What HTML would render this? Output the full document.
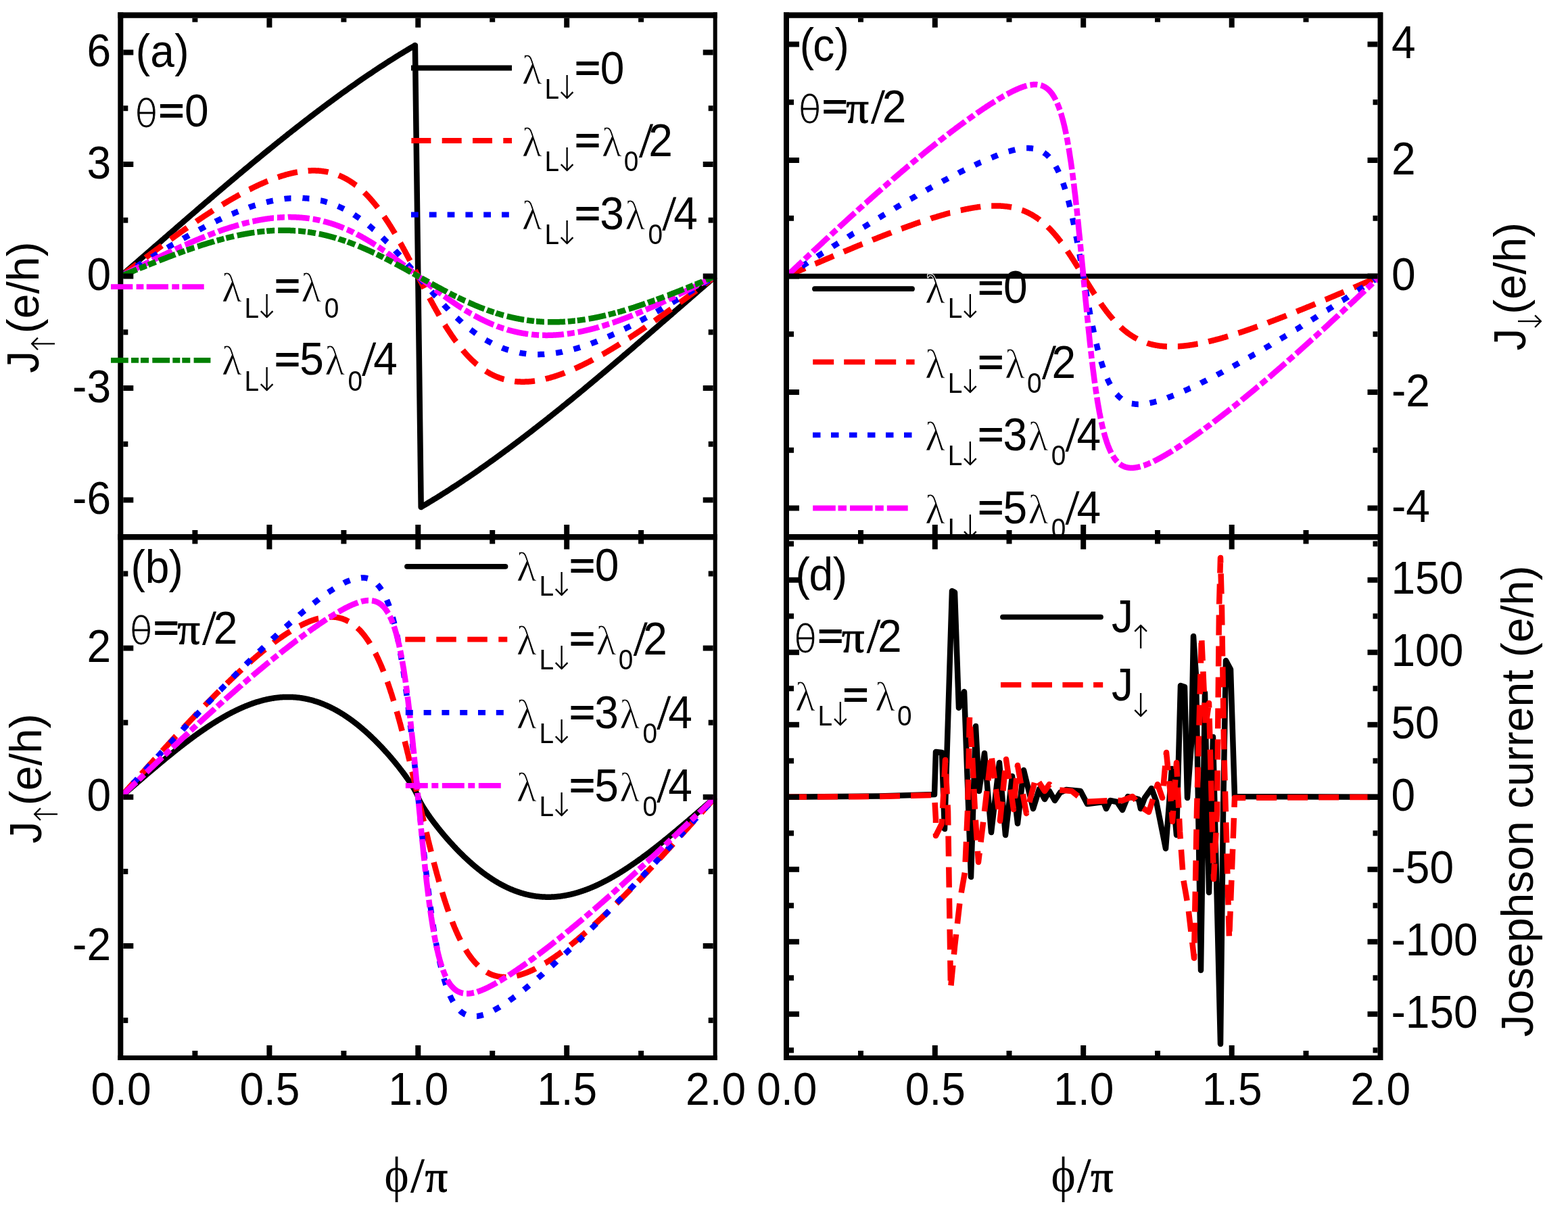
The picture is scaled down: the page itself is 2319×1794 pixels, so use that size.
<!DOCTYPE html><html><head><meta charset="utf-8"><title>Josephson current</title><style>html,body{margin:0;padding:0;background:#fff}svg{display:block}</style></head><body>
<svg width="2319" height="1794" viewBox="0 0 2319 1794">
<rect width="2319" height="1794" fill="#fff"/>
<path d="M178.5 408.5L180.7 406.6L182.9 404.7L185.1 402.8L187.3 400.9L189.4 399L191.6 397.1L193.8 395.2L196 393.3L198.2 391.4L200.4 389.5L202.6 387.6L204.8 385.7L206.9 383.8L209.1 381.9L211.3 380L213.5 378.1L215.7 376.2L217.9 374.3L220.1 372.4L222.3 370.5L224.4 368.6L226.6 366.7L228.8 364.8L231 362.9L233.2 361L235.4 359.1L237.6 357.2L239.8 355.3L242 353.4L244.1 351.5L246.3 349.6L248.5 347.7L250.7 345.8L252.9 343.9L255.1 342L257.3 340.1L259.5 338.2L261.6 336.3L263.8 334.4L266 332.5L268.2 330.6L270.4 328.7L272.6 326.8L274.8 324.9L277 323L279.1 321.1L281.3 319.3L283.5 317.4L285.7 315.5L287.9 313.6L290.1 311.7L292.3 309.8L294.5 307.9L296.6 306.1L298.8 304.2L301 302.3L303.2 300.4L305.4 298.5L307.6 296.7L309.8 294.8L312 292.9L314.2 291.1L316.3 289.2L318.5 287.3L320.7 285.5L322.9 283.6L325.1 281.7L327.3 279.9L329.5 278L331.7 276.2L333.8 274.3L336 272.5L338.2 270.6L340.4 268.8L342.6 266.9L344.8 265.1L347 263.2L349.2 261.4L351.3 259.6L353.5 257.7L355.7 255.9L357.9 254.1L360.1 252.2L362.3 250.4L364.5 248.6L366.7 246.8L368.9 245L371 243.1L373.2 241.3L375.4 239.5L377.6 237.7L379.8 235.9L382 234.1L384.2 232.3L386.4 230.5L388.5 228.7L390.7 226.9L392.9 225.1L395.1 223.4L397.3 221.6L399.5 219.8L401.7 218L403.9 216.3L406 214.5L408.2 212.7L410.4 211L412.6 209.2L414.8 207.5L417 205.7L419.2 204L421.4 202.2L423.6 200.5L425.7 198.7L427.9 197L430.1 195.3L432.3 193.5L434.5 191.8L436.7 190.1L438.9 188.4L441.1 186.7L443.2 185L445.4 183.3L447.6 181.6L449.8 179.9L452 178.2L454.2 176.5L456.4 174.8L458.6 173.1L460.7 171.5L462.9 169.8L465.1 168.1L467.3 166.5L469.5 164.8L471.7 163.2L473.9 161.5L476.1 159.9L478.2 158.2L480.4 156.6L482.6 155L484.8 153.3L487 151.7L489.2 150.1L491.4 148.5L493.6 146.9L495.8 145.3L497.9 143.7L500.1 142.1L502.3 140.5L504.5 138.9L506.7 137.3L508.9 135.8L511.1 134.2L513.3 132.6L515.4 131.1L517.6 129.5L519.8 128L522 126.4L524.2 124.9L526.4 123.4L528.6 121.8L530.8 120.3L532.9 118.8L535.1 117.3L537.3 115.8L539.5 114.3L541.7 112.8L543.9 111.3L546.1 109.8L548.3 108.4L550.5 106.9L552.6 105.4L554.8 104L557 102.5L559.2 101.1L561.4 99.6L563.6 98.2L565.8 96.8L568 95.4L570.1 94L572.3 92.5L574.5 91.1L576.7 89.7L578.9 88.4L581.1 87L583.3 85.6L585.5 84.2L587.6 82.9L589.8 81.5L592 80.1L594.2 78.8L596.4 77.5L598.6 76.1L600.8 74.8L603 73.5L605.2 72.2L607.3 70.9L609.5 69.6L611.7 68.3L613.9 67L622.7 750L624.9 748.7L627.1 747.4L629.3 746.1L631.4 744.8L633.6 743.5L635.8 742.2L638 740.9L640.2 739.5L642.4 738.2L644.6 736.9L646.8 735.5L649 734.1L651.1 732.8L653.3 731.4L655.5 730L657.7 728.6L659.9 727.3L662.1 725.9L664.3 724.5L666.5 723L668.6 721.6L670.8 720.2L673 718.8L675.2 717.4L677.4 715.9L679.6 714.5L681.8 713L684 711.6L686.1 710.1L688.3 708.6L690.5 707.2L692.7 705.7L694.9 704.2L697.1 702.7L699.3 701.2L701.5 699.7L703.7 698.2L705.8 696.7L708 695.2L710.2 693.6L712.4 692.1L714.6 690.6L716.8 689L719 687.5L721.2 685.9L723.3 684.4L725.5 682.8L727.7 681.2L729.9 679.7L732.1 678.1L734.3 676.5L736.5 674.9L738.7 673.3L740.8 671.7L743 670.1L745.2 668.5L747.4 666.9L749.6 665.3L751.8 663.7L754 662L756.2 660.4L758.4 658.8L760.5 657.1L762.7 655.5L764.9 653.8L767.1 652.2L769.3 650.5L771.5 648.9L773.7 647.2L775.9 645.5L778 643.9L780.2 642.2L782.4 640.5L784.6 638.8L786.8 637.1L789 635.4L791.2 633.7L793.4 632L795.5 630.3L797.7 628.6L799.9 626.9L802.1 625.2L804.3 623.5L806.5 621.7L808.7 620L810.9 618.3L813 616.5L815.2 614.8L817.4 613L819.6 611.3L821.8 609.5L824 607.8L826.2 606L828.4 604.3L830.6 602.5L832.7 600.7L834.9 599L837.1 597.2L839.3 595.4L841.5 593.6L843.7 591.9L845.9 590.1L848.1 588.3L850.2 586.5L852.4 584.7L854.6 582.9L856.8 581.1L859 579.3L861.2 577.5L863.4 575.7L865.6 573.9L867.7 572L869.9 570.2L872.1 568.4L874.3 566.6L876.5 564.8L878.7 562.9L880.9 561.1L883.1 559.3L885.3 557.4L887.4 555.6L889.6 553.8L891.8 551.9L894 550.1L896.2 548.2L898.4 546.4L900.6 544.5L902.8 542.7L904.9 540.8L907.1 539L909.3 537.1L911.5 535.3L913.7 533.4L915.9 531.5L918.1 529.7L920.3 527.8L922.4 525.9L924.6 524.1L926.8 522.2L929 520.3L931.2 518.5L933.4 516.6L935.6 514.7L937.8 512.8L940 510.9L942.1 509.1L944.3 507.2L946.5 505.3L948.7 503.4L950.9 501.5L953.1 499.6L955.3 497.7L957.5 495.9L959.6 494L961.8 492.1L964 490.2L966.2 488.3L968.4 486.4L970.6 484.5L972.8 482.6L975 480.7L977.1 478.8L979.3 476.9L981.5 475L983.7 473.1L985.9 471.2L988.1 469.3L990.3 467.4L992.5 465.5L994.6 463.6L996.8 461.7L999 459.8L1001.2 457.9L1003.4 456L1005.6 454.1L1007.8 452.2L1010 450.3L1012.2 448.4L1014.3 446.5L1016.5 444.6L1018.7 442.7L1020.9 440.8L1023.1 438.9L1025.3 437L1027.5 435.1L1029.7 433.2L1031.8 431.3L1034 429.4L1036.2 427.5L1038.4 425.6L1040.6 423.7L1042.8 421.8L1045 419.9L1047.2 418L1049.3 416.1L1051.5 414.2L1053.7 412.3L1055.9 410.4L1058.1 408.5" fill="none" stroke="#000000" stroke-width="8.5" stroke-linejoin="round"/>
<path d="M178.5 408.5L179.2 408L180 407.4L180.7 406.9L181.4 406.3L182.2 405.8L182.9 405.2L183.6 404.7L184.4 404.1L185.1 403.6L185.8 403L186.6 402.5L187.3 401.9L188 401.4L188.8 400.8L189.5 400.3L190.2 399.7L191 399.2L191.7 398.6L192.4 398.1L193.2 397.5L193.9 397L194.6 396.4L195.4 395.9L196.1 395.3L196.8 394.8L197.6 394.3L198.3 393.7L199 393.2L199.8 392.6L200.5 392.1L201.2 391.5L202 391L202.7 390.4L203.4 389.9L204.2 389.3L204.9 388.8L205.6 388.2L206.4 387.7L207.1 387.2L207.8 386.6L208.6 386.1L209.3 385.5L210 385L210.8 384.4L211.5 383.9L212.2 383.3L213 382.8L213.7 382.3L214.4 381.7L215.2 381.2L215.9 380.6L216.6 380.1L217.4 379.5L218.1 379L218.8 378.5L219.6 377.9L220.3 377.4L221 376.8L221.8 376.3L222.5 375.7L223.3 375.2L224 374.7L224.7 374.1L225.5 373.6L226.2 373L226.9 372.5L227.7 372L228.4 371.4L229.1 370.9L229.9 370.4L230.6 369.8L231.3 369.3L232.1 368.7L232.8 368.2L233.5 367.7L234.3 367.1L235 366.6L235.7 366.1L236.5 365.5L237.2 365L237.9 364.5L238.7 363.9L239.4 363.4L240.1 362.9L240.9 362.3L241.6 361.8L242.3 361.3L243.1 360.7L243.8 360.2L244.5 359.7L245.3 359.1L246 358.6L246.7 358.1L247.5 357.5L248.2 357L248.9 356.5L249.7 356L250.4 355.4L251.1 354.9L251.9 354.4L252.6 353.9L253.3 353.3L254.1 352.8L254.8 352.3L255.5 351.8L256.3 351.2L257 350.7L257.7 350.2L258.5 349.7L259.2 349.1L259.9 348.6L260.7 348.1L261.4 347.6L262.1 347.1L262.9 346.5L263.6 346L264.3 345.5L265.1 345L265.8 344.5L266.5 343.9L267.3 343.4L268 342.9L268.7 342.4L269.5 341.9L270.2 341.4L270.9 340.9L271.7 340.3L272.4 339.8L273.1 339.3L273.9 338.8L274.6 338.3L275.3 337.8L276.1 337.3L276.8 336.8L277.5 336.3L278.3 335.8L279 335.3L279.7 334.8L280.5 334.2L281.2 333.7L281.9 333.2L282.7 332.7L283.4 332.2L284.1 331.7L284.9 331.2L285.6 330.7L286.3 330.2L287.1 329.7L287.8 329.2L288.5 328.7L289.3 328.2L290 327.7L290.7 327.2L291.5 326.8L292.2 326.3L292.9 325.8L293.7 325.3L294.4 324.8L295.1 324.3L295.9 323.8L296.6 323.3L297.3 322.8L298.1 322.3L298.8 321.9L299.5 321.4L300.3 320.9L301 320.4L301.7 319.9L302.5 319.4L303.2 318.9L303.9 318.5L304.7 318L305.4 317.5L306.1 317L306.9 316.6L307.6 316.1L308.3 315.6L309.1 315.1L309.8 314.7L310.6 314.2L311.3 313.7L312 313.2L312.8 312.8L313.5 312.3L314.2 311.8L315 311.4L315.7 310.9L316.4 310.4L317.2 310L317.9 309.5L318.6 309L319.4 308.6L320.1 308.1L320.8 307.7L321.6 307.2L322.3 306.7L323 306.3L323.8 305.8L324.5 305.4L325.2 304.9L326 304.5L326.7 304L327.4 303.6L328.2 303.1L328.9 302.7L329.6 302.2L330.4 301.8L331.1 301.3L331.8 300.9L332.6 300.5L333.3 300L334 299.6L334.8 299.1L335.5 298.7L336.2 298.3L337 297.8L337.7 297.4L338.4 297L339.2 296.5L339.9 296.1L340.6 295.7L341.4 295.3L342.1 294.8L342.8 294.4L343.6 294L344.3 293.6L345 293.1L345.8 292.7L346.5 292.3L347.2 291.9L348 291.5L348.7 291.1L349.4 290.6L350.2 290.2L350.9 289.8L351.6 289.4L352.4 289L353.1 288.6L353.8 288.2L354.6 287.8L355.3 287.4L356 287L356.8 286.6L357.5 286.2L358.2 285.8L359 285.4L359.7 285L360.4 284.6L361.2 284.2L361.9 283.8L362.6 283.5L363.4 283.1L364.1 282.7L364.8 282.3L365.6 281.9L366.3 281.6L367 281.2L367.8 280.8L368.5 280.4L369.2 280.1L370 279.7L370.7 279.3L371.4 279L372.2 278.6L372.9 278.2L373.6 277.9L374.4 277.5L375.1 277.1L375.8 276.8L376.6 276.4L377.3 276.1L378 275.7L378.8 275.4L379.5 275L380.2 274.7L381 274.4L381.7 274L382.4 273.7L383.2 273.3L383.9 273L384.6 272.7L385.4 272.3L386.1 272L386.8 271.7L387.6 271.4L388.3 271L389 270.7L389.8 270.4L390.5 270.1L391.2 269.8L392 269.4L392.7 269.1L393.4 268.8L394.2 268.5L394.9 268.2L395.6 267.9L396.4 267.6L397.1 267.3L397.8 267L398.6 266.7L399.3 266.4L400.1 266.1L400.8 265.9L401.5 265.6L402.3 265.3L403 265L403.7 264.7L404.5 264.5L405.2 264.2L405.9 263.9L406.7 263.6L407.4 263.4L408.1 263.1L408.9 262.9L409.6 262.6L410.3 262.3L411.1 262.1L411.8 261.8L412.5 261.6L413.3 261.4L414 261.1L414.7 260.9L415.5 260.6L416.2 260.4L416.9 260.2L417.7 259.9L418.4 259.7L419.1 259.5L419.9 259.3L420.6 259.1L421.3 258.9L422.1 258.6L422.8 258.4L423.5 258.2L424.3 258L425 257.8L425.7 257.6L426.5 257.4L427.2 257.2L427.9 257.1L428.7 256.9L429.4 256.7L430.1 256.5L430.9 256.3L431.6 256.2L432.3 256L433.1 255.8L433.8 255.7L434.5 255.5L435.3 255.4L436 255.2L436.7 255.1L437.5 254.9L438.2 254.8L438.9 254.7L439.7 254.5L440.4 254.4L441.1 254.3L441.9 254.1L442.6 254L443.3 253.9L444.1 253.8L444.8 253.7L445.5 253.6L446.3 253.5L447 253.4L447.7 253.3L448.5 253.2L449.2 253.1L449.9 253L450.7 253L451.4 252.9L452.1 252.8L452.9 252.8L453.6 252.7L454.3 252.6L455.1 252.6L455.8 252.5L456.5 252.5L457.3 252.5L458 252.4L458.7 252.4L459.5 252.4L460.2 252.4L460.9 252.3L461.7 252.3L462.4 252.3L463.1 252.3L463.9 252.3L464.6 252.3L465.3 252.3L466.1 252.3L466.8 252.4L467.5 252.4L468.3 252.4L469 252.5L469.7 252.5L470.5 252.5L471.2 252.6L471.9 252.6L472.7 252.7L473.4 252.8L474.1 252.8L474.9 252.9L475.6 253L476.3 253.1L477.1 253.2L477.8 253.3L478.5 253.4L479.3 253.5L480 253.6L480.7 253.7L481.5 253.8L482.2 254L482.9 254.1L483.7 254.2L484.4 254.4L485.1 254.5L485.9 254.7L486.6 254.9L487.4 255L488.1 255.2L488.8 255.4L489.6 255.6L490.3 255.8L491 256L491.8 256.2L492.5 256.4L493.2 256.6L494 256.9L494.7 257.1L495.4 257.3L496.2 257.6L496.9 257.8L497.6 258.1L498.4 258.4L499.1 258.6L499.8 258.9L500.6 259.2L501.3 259.5L502 259.8L502.8 260.1L503.5 260.4L504.2 260.7L505 261.1L505.7 261.4L506.4 261.7L507.2 262.1L507.9 262.4L508.6 262.8L509.4 263.2L510.1 263.6L510.8 263.9L511.6 264.3L512.3 264.7L513 265.1L513.8 265.6L514.5 266L515.2 266.4L516 266.9L516.7 267.3L517.4 267.8L518.2 268.2L518.9 268.7L519.6 269.2L520.4 269.7L521.1 270.2L521.8 270.7L522.6 271.2L523.3 271.7L524 272.2L524.8 272.8L525.5 273.3L526.2 273.9L527 274.4L527.7 275L528.4 275.6L529.2 276.2L529.9 276.8L530.6 277.4L531.4 278L532.1 278.6L532.8 279.2L533.6 279.9L534.3 280.5L535 281.2L535.8 281.9L536.5 282.5L537.2 283.2L538 283.9L538.7 284.6L539.4 285.3L540.2 286L540.9 286.8L541.6 287.5L542.4 288.3L543.1 289L543.8 289.8L544.6 290.5L545.3 291.3L546 292.1L546.8 292.9L547.5 293.7L548.2 294.6L549 295.4L549.7 296.2L550.4 297.1L551.2 297.9L551.9 298.8L552.6 299.7L553.4 300.5L554.1 301.4L554.8 302.3L555.6 303.3L556.3 304.2L557 305.1L557.8 306L558.5 307L559.2 307.9L560 308.9L560.7 309.9L561.4 310.9L562.2 311.9L562.9 312.9L563.6 313.9L564.4 314.9L565.1 315.9L565.8 317L566.6 318L567.3 319.1L568 320.1L568.8 321.2L569.5 322.3L570.2 323.4L571 324.5L571.7 325.6L572.4 326.7L573.2 327.8L573.9 328.9L574.7 330.1L575.4 331.2L576.1 332.4L576.9 333.5L577.6 334.7L578.3 335.9L579.1 337.1L579.8 338.2L580.5 339.4L581.3 340.7L582 341.9L582.7 343.1L583.5 344.3L584.2 345.6L584.9 346.8L585.7 348.1L586.4 349.3L587.1 350.6L587.9 351.8L588.6 353.1L589.3 354.4L590.1 355.7L590.8 357L591.5 358.3L592.3 359.6L593 360.9L593.7 362.2L594.5 363.5L595.2 364.9L595.9 366.2L596.7 367.5L597.4 368.9L598.1 370.2L598.9 371.6L599.6 372.9L600.3 374.3L601.1 375.7L601.8 377L602.5 378.4L603.3 379.8L604 381.2L604.7 382.5L605.5 383.9L606.2 385.3L606.9 386.7L607.7 388.1L608.4 389.5L609.1 390.9L609.9 392.3L610.6 393.7L611.3 395.1L612.1 396.5L612.8 397.9L613.5 399.3L614.3 400.7L615 402.1L615.7 403.6L616.5 405L617.2 406.4L617.9 407.8L618.7 409.2L619.4 410.6L620.1 412L620.9 413.4L621.6 414.9L622.3 416.3L623.1 417.7L623.8 419.1L624.5 420.5L625.3 421.9L626 423.3L626.7 424.7L627.5 426.1L628.2 427.5L628.9 428.9L629.7 430.3L630.4 431.7L631.1 433.1L631.9 434.5L632.6 435.8L633.3 437.2L634.1 438.6L634.8 440L635.5 441.3L636.3 442.7L637 444.1L637.7 445.4L638.5 446.8L639.2 448.1L639.9 449.5L640.7 450.8L641.4 452.1L642.1 453.5L642.9 454.8L643.6 456.1L644.3 457.4L645.1 458.7L645.8 460L646.5 461.3L647.3 462.6L648 463.9L648.7 465.2L649.5 466.4L650.2 467.7L650.9 468.9L651.7 470.2L652.4 471.4L653.1 472.7L653.9 473.9L654.6 475.1L655.3 476.3L656.1 477.6L656.8 478.8L657.5 479.9L658.3 481.1L659 482.3L659.7 483.5L660.5 484.6L661.2 485.8L661.9 486.9L662.7 488.1L663.4 489.2L664.2 490.3L664.9 491.4L665.6 492.5L666.4 493.6L667.1 494.7L667.8 495.8L668.6 496.9L669.3 497.9L670 499L670.8 500L671.5 501.1L672.2 502.1L673 503.1L673.7 504.1L674.4 505.1L675.2 506.1L675.9 507.1L676.6 508.1L677.4 509.1L678.1 510L678.8 511L679.6 511.9L680.3 512.8L681 513.7L681.8 514.7L682.5 515.6L683.2 516.5L684 517.3L684.7 518.2L685.4 519.1L686.2 519.9L686.9 520.8L687.6 521.6L688.4 522.4L689.1 523.3L689.8 524.1L690.6 524.9L691.3 525.7L692 526.5L692.8 527.2L693.5 528L694.2 528.7L695 529.5L695.7 530.2L696.4 531L697.2 531.7L697.9 532.4L698.6 533.1L699.4 533.8L700.1 534.5L700.8 535.1L701.6 535.8L702.3 536.5L703 537.1L703.8 537.8L704.5 538.4L705.2 539L706 539.6L706.7 540.2L707.4 540.8L708.2 541.4L708.9 542L709.6 542.6L710.4 543.1L711.1 543.7L711.8 544.2L712.6 544.8L713.3 545.3L714 545.8L714.8 546.3L715.5 546.8L716.2 547.3L717 547.8L717.7 548.3L718.4 548.8L719.2 549.2L719.9 549.7L720.6 550.1L721.4 550.6L722.1 551L722.8 551.4L723.6 551.9L724.3 552.3L725 552.7L725.8 553.1L726.5 553.4L727.2 553.8L728 554.2L728.7 554.6L729.4 554.9L730.2 555.3L730.9 555.6L731.6 555.9L732.4 556.3L733.1 556.6L733.8 556.9L734.6 557.2L735.3 557.5L736 557.8L736.8 558.1L737.5 558.4L738.2 558.6L739 558.9L739.7 559.2L740.4 559.4L741.2 559.7L741.9 559.9L742.6 560.1L743.4 560.4L744.1 560.6L744.8 560.8L745.6 561L746.3 561.2L747 561.4L747.8 561.6L748.5 561.8L749.2 562L750 562.1L750.7 562.3L751.5 562.5L752.2 562.6L752.9 562.8L753.7 562.9L754.4 563L755.1 563.2L755.9 563.3L756.6 563.4L757.3 563.5L758.1 563.6L758.8 563.7L759.5 563.8L760.3 563.9L761 564L761.7 564.1L762.5 564.2L763.2 564.2L763.9 564.3L764.7 564.4L765.4 564.4L766.1 564.5L766.9 564.5L767.6 564.5L768.3 564.6L769.1 564.6L769.8 564.6L770.5 564.7L771.3 564.7L772 564.7L772.7 564.7L773.5 564.7L774.2 564.7L774.9 564.7L775.7 564.7L776.4 564.6L777.1 564.6L777.9 564.6L778.6 564.6L779.3 564.5L780.1 564.5L780.8 564.5L781.5 564.4L782.3 564.4L783 564.3L783.7 564.2L784.5 564.2L785.2 564.1L785.9 564L786.7 564L787.4 563.9L788.1 563.8L788.9 563.7L789.6 563.6L790.3 563.5L791.1 563.4L791.8 563.3L792.5 563.2L793.3 563.1L794 563L794.7 562.9L795.5 562.7L796.2 562.6L796.9 562.5L797.7 562.3L798.4 562.2L799.1 562.1L799.9 561.9L800.6 561.8L801.3 561.6L802.1 561.5L802.8 561.3L803.5 561.2L804.3 561L805 560.8L805.7 560.7L806.5 560.5L807.2 560.3L807.9 560.1L808.7 559.9L809.4 559.8L810.1 559.6L810.9 559.4L811.6 559.2L812.3 559L813.1 558.8L813.8 558.6L814.5 558.4L815.3 558.1L816 557.9L816.7 557.7L817.5 557.5L818.2 557.3L818.9 557.1L819.7 556.8L820.4 556.6L821.1 556.4L821.9 556.1L822.6 555.9L823.3 555.6L824.1 555.4L824.8 555.2L825.5 554.9L826.3 554.7L827 554.4L827.7 554.1L828.5 553.9L829.2 553.6L829.9 553.4L830.7 553.1L831.4 552.8L832.1 552.5L832.9 552.3L833.6 552L834.3 551.7L835.1 551.4L835.8 551.1L836.5 550.9L837.3 550.6L838 550.3L838.8 550L839.5 549.7L840.2 549.4L841 549.1L841.7 548.8L842.4 548.5L843.2 548.2L843.9 547.9L844.6 547.6L845.4 547.2L846.1 546.9L846.8 546.6L847.6 546.3L848.3 546L849 545.6L849.8 545.3L850.5 545L851.2 544.7L852 544.3L852.7 544L853.4 543.7L854.2 543.3L854.9 543L855.6 542.6L856.4 542.3L857.1 542L857.8 541.6L858.6 541.3L859.3 540.9L860 540.6L860.8 540.2L861.5 539.9L862.2 539.5L863 539.1L863.7 538.8L864.4 538.4L865.2 538L865.9 537.7L866.6 537.3L867.4 536.9L868.1 536.6L868.8 536.2L869.6 535.8L870.3 535.4L871 535.1L871.8 534.7L872.5 534.3L873.2 533.9L874 533.5L874.7 533.2L875.4 532.8L876.2 532.4L876.9 532L877.6 531.6L878.4 531.2L879.1 530.8L879.8 530.4L880.6 530L881.3 529.6L882 529.2L882.8 528.8L883.5 528.4L884.2 528L885 527.6L885.7 527.2L886.4 526.8L887.2 526.4L887.9 525.9L888.6 525.5L889.4 525.1L890.1 524.7L890.8 524.3L891.6 523.9L892.3 523.4L893 523L893.8 522.6L894.5 522.2L895.2 521.7L896 521.3L896.7 520.9L897.4 520.5L898.2 520L898.9 519.6L899.6 519.2L900.4 518.7L901.1 518.3L901.8 517.9L902.6 517.4L903.3 517L904 516.5L904.8 516.1L905.5 515.7L906.2 515.2L907 514.8L907.7 514.3L908.4 513.9L909.2 513.4L909.9 513L910.6 512.5L911.4 512.1L912.1 511.6L912.8 511.2L913.6 510.7L914.3 510.3L915 509.8L915.8 509.3L916.5 508.9L917.2 508.4L918 508L918.7 507.5L919.4 507L920.2 506.6L920.9 506.1L921.6 505.6L922.4 505.2L923.1 504.7L923.8 504.2L924.6 503.8L925.3 503.3L926 502.8L926.8 502.3L927.5 501.9L928.3 501.4L929 500.9L929.7 500.4L930.5 500L931.2 499.5L931.9 499L932.7 498.5L933.4 498.1L934.1 497.6L934.9 497.1L935.6 496.6L936.3 496.1L937.1 495.6L937.8 495.1L938.5 494.7L939.3 494.2L940 493.7L940.7 493.2L941.5 492.7L942.2 492.2L942.9 491.7L943.7 491.2L944.4 490.7L945.1 490.2L945.9 489.8L946.6 489.3L947.3 488.8L948.1 488.3L948.8 487.8L949.5 487.3L950.3 486.8L951 486.3L951.7 485.8L952.5 485.3L953.2 484.8L953.9 484.3L954.7 483.8L955.4 483.3L956.1 482.8L956.9 482.2L957.6 481.7L958.3 481.2L959.1 480.7L959.8 480.2L960.5 479.7L961.3 479.2L962 478.7L962.7 478.2L963.5 477.7L964.2 477.2L964.9 476.7L965.7 476.1L966.4 475.6L967.1 475.1L967.9 474.6L968.6 474.1L969.3 473.6L970.1 473.1L970.8 472.5L971.5 472L972.3 471.5L973 471L973.7 470.5L974.5 469.9L975.2 469.4L975.9 468.9L976.7 468.4L977.4 467.9L978.1 467.3L978.9 466.8L979.6 466.3L980.3 465.8L981.1 465.2L981.8 464.7L982.5 464.2L983.3 463.7L984 463.1L984.7 462.6L985.5 462.1L986.2 461.6L986.9 461L987.7 460.5L988.4 460L989.1 459.5L989.9 458.9L990.6 458.4L991.3 457.9L992.1 457.3L992.8 456.8L993.5 456.3L994.3 455.7L995 455.2L995.7 454.7L996.5 454.1L997.2 453.6L997.9 453.1L998.7 452.5L999.4 452L1000.1 451.5L1000.9 450.9L1001.6 450.4L1002.3 449.9L1003.1 449.3L1003.8 448.8L1004.5 448.3L1005.3 447.7L1006 447.2L1006.7 446.6L1007.5 446.1L1008.2 445.6L1008.9 445L1009.7 444.5L1010.4 444L1011.1 443.4L1011.9 442.9L1012.6 442.3L1013.3 441.8L1014.1 441.3L1014.8 440.7L1015.6 440.2L1016.3 439.6L1017 439.1L1017.8 438.5L1018.5 438L1019.2 437.5L1020 436.9L1020.7 436.4L1021.4 435.8L1022.2 435.3L1022.9 434.7L1023.6 434.2L1024.4 433.7L1025.1 433.1L1025.8 432.6L1026.6 432L1027.3 431.5L1028 430.9L1028.8 430.4L1029.5 429.8L1030.2 429.3L1031 428.8L1031.7 428.2L1032.4 427.7L1033.2 427.1L1033.9 426.6L1034.6 426L1035.4 425.5L1036.1 424.9L1036.8 424.4L1037.6 423.8L1038.3 423.3L1039 422.7L1039.8 422.2L1040.5 421.7L1041.2 421.1L1042 420.6L1042.7 420L1043.4 419.5L1044.2 418.9L1044.9 418.4L1045.6 417.8L1046.4 417.3L1047.1 416.7L1047.8 416.2L1048.6 415.6L1049.3 415.1L1050 414.5L1050.8 414L1051.5 413.4L1052.2 412.9L1053 412.3L1053.7 411.8L1054.4 411.2L1055.2 410.7L1055.9 410.1L1056.6 409.6L1057.4 409L1058.1 408.5" fill="none" stroke="#ff0000" stroke-width="8.5" stroke-linejoin="round" stroke-dasharray="30 16"/>
<path d="M178.5 408.5L179.2 408L180 407.6L180.7 407.1L181.4 406.7L182.2 406.2L182.9 405.8L183.6 405.3L184.4 404.9L185.1 404.4L185.8 404L186.6 403.5L187.3 403L188 402.6L188.8 402.1L189.5 401.7L190.2 401.2L191 400.8L191.7 400.3L192.4 399.9L193.2 399.4L193.9 399L194.6 398.5L195.4 398L196.1 397.6L196.8 397.1L197.6 396.7L198.3 396.2L199 395.8L199.8 395.3L200.5 394.9L201.2 394.4L202 394L202.7 393.5L203.4 393.1L204.2 392.6L204.9 392.2L205.6 391.7L206.4 391.3L207.1 390.8L207.8 390.4L208.6 389.9L209.3 389.5L210 389L210.8 388.6L211.5 388.1L212.2 387.6L213 387.2L213.7 386.8L214.4 386.3L215.2 385.9L215.9 385.4L216.6 385L217.4 384.5L218.1 384.1L218.8 383.6L219.6 383.2L220.3 382.7L221 382.3L221.8 381.8L222.5 381.4L223.3 380.9L224 380.5L224.7 380L225.5 379.6L226.2 379.2L226.9 378.7L227.7 378.3L228.4 377.8L229.1 377.4L229.9 376.9L230.6 376.5L231.3 376L232.1 375.6L232.8 375.2L233.5 374.7L234.3 374.3L235 373.8L235.7 373.4L236.5 373L237.2 372.5L237.9 372.1L238.7 371.6L239.4 371.2L240.1 370.8L240.9 370.3L241.6 369.9L242.3 369.5L243.1 369L243.8 368.6L244.5 368.2L245.3 367.7L246 367.3L246.7 366.8L247.5 366.4L248.2 366L248.9 365.6L249.7 365.1L250.4 364.7L251.1 364.3L251.9 363.8L252.6 363.4L253.3 363L254.1 362.5L254.8 362.1L255.5 361.7L256.3 361.3L257 360.8L257.7 360.4L258.5 360L259.2 359.6L259.9 359.1L260.7 358.7L261.4 358.3L262.1 357.9L262.9 357.4L263.6 357L264.3 356.6L265.1 356.2L265.8 355.8L266.5 355.3L267.3 354.9L268 354.5L268.7 354.1L269.5 353.7L270.2 353.3L270.9 352.8L271.7 352.4L272.4 352L273.1 351.6L273.9 351.2L274.6 350.8L275.3 350.4L276.1 350L276.8 349.5L277.5 349.1L278.3 348.7L279 348.3L279.7 347.9L280.5 347.5L281.2 347.1L281.9 346.7L282.7 346.3L283.4 345.9L284.1 345.5L284.9 345.1L285.6 344.7L286.3 344.3L287.1 343.9L287.8 343.5L288.5 343.1L289.3 342.7L290 342.3L290.7 341.9L291.5 341.5L292.2 341.1L292.9 340.7L293.7 340.4L294.4 340L295.1 339.6L295.9 339.2L296.6 338.8L297.3 338.4L298.1 338L298.8 337.6L299.5 337.3L300.3 336.9L301 336.5L301.7 336.1L302.5 335.7L303.2 335.4L303.9 335L304.7 334.6L305.4 334.2L306.1 333.9L306.9 333.5L307.6 333.1L308.3 332.7L309.1 332.4L309.8 332L310.6 331.6L311.3 331.3L312 330.9L312.8 330.5L313.5 330.2L314.2 329.8L315 329.4L315.7 329.1L316.4 328.7L317.2 328.4L317.9 328L318.6 327.6L319.4 327.3L320.1 326.9L320.8 326.6L321.6 326.2L322.3 325.9L323 325.5L323.8 325.2L324.5 324.8L325.2 324.5L326 324.2L326.7 323.8L327.4 323.5L328.2 323.1L328.9 322.8L329.6 322.4L330.4 322.1L331.1 321.8L331.8 321.4L332.6 321.1L333.3 320.8L334 320.4L334.8 320.1L335.5 319.8L336.2 319.5L337 319.1L337.7 318.8L338.4 318.5L339.2 318.2L339.9 317.9L340.6 317.5L341.4 317.2L342.1 316.9L342.8 316.6L343.6 316.3L344.3 316L345 315.7L345.8 315.4L346.5 315.1L347.2 314.8L348 314.4L348.7 314.1L349.4 313.8L350.2 313.6L350.9 313.3L351.6 313L352.4 312.7L353.1 312.4L353.8 312.1L354.6 311.8L355.3 311.5L356 311.2L356.8 310.9L357.5 310.7L358.2 310.4L359 310.1L359.7 309.8L360.4 309.6L361.2 309.3L361.9 309L362.6 308.7L363.4 308.5L364.1 308.2L364.8 307.9L365.6 307.7L366.3 307.4L367 307.2L367.8 306.9L368.5 306.6L369.2 306.4L370 306.1L370.7 305.9L371.4 305.6L372.2 305.4L372.9 305.2L373.6 304.9L374.4 304.7L375.1 304.4L375.8 304.2L376.6 304L377.3 303.7L378 303.5L378.8 303.3L379.5 303L380.2 302.8L381 302.6L381.7 302.4L382.4 302.2L383.2 301.9L383.9 301.7L384.6 301.5L385.4 301.3L386.1 301.1L386.8 300.9L387.6 300.7L388.3 300.5L389 300.3L389.8 300.1L390.5 299.9L391.2 299.7L392 299.5L392.7 299.3L393.4 299.2L394.2 299L394.9 298.8L395.6 298.6L396.4 298.4L397.1 298.3L397.8 298.1L398.6 297.9L399.3 297.8L400.1 297.6L400.8 297.4L401.5 297.3L402.3 297.1L403 297L403.7 296.8L404.5 296.7L405.2 296.5L405.9 296.4L406.7 296.3L407.4 296.1L408.1 296L408.9 295.8L409.6 295.7L410.3 295.6L411.1 295.5L411.8 295.3L412.5 295.2L413.3 295.1L414 295L414.7 294.9L415.5 294.8L416.2 294.7L416.9 294.6L417.7 294.5L418.4 294.4L419.1 294.3L419.9 294.2L420.6 294.1L421.3 294L422.1 293.9L422.8 293.8L423.5 293.8L424.3 293.7L425 293.6L425.7 293.5L426.5 293.5L427.2 293.4L427.9 293.4L428.7 293.3L429.4 293.3L430.1 293.2L430.9 293.2L431.6 293.1L432.3 293.1L433.1 293L433.8 293L434.5 293L435.3 292.9L436 292.9L436.7 292.9L437.5 292.9L438.2 292.9L438.9 292.8L439.7 292.8L440.4 292.8L441.1 292.8L441.9 292.8L442.6 292.8L443.3 292.8L444.1 292.9L444.8 292.9L445.5 292.9L446.3 292.9L447 292.9L447.7 293L448.5 293L449.2 293L449.9 293.1L450.7 293.1L451.4 293.2L452.1 293.2L452.9 293.3L453.6 293.3L454.3 293.4L455.1 293.5L455.8 293.5L456.5 293.6L457.3 293.7L458 293.7L458.7 293.8L459.5 293.9L460.2 294L460.9 294.1L461.7 294.2L462.4 294.3L463.1 294.4L463.9 294.5L464.6 294.6L465.3 294.7L466.1 294.9L466.8 295L467.5 295.1L468.3 295.3L469 295.4L469.7 295.5L470.5 295.7L471.2 295.8L471.9 296L472.7 296.1L473.4 296.3L474.1 296.5L474.9 296.6L475.6 296.8L476.3 297L477.1 297.2L477.8 297.4L478.5 297.5L479.3 297.7L480 297.9L480.7 298.1L481.5 298.3L482.2 298.6L482.9 298.8L483.7 299L484.4 299.2L485.1 299.4L485.9 299.7L486.6 299.9L487.4 300.2L488.1 300.4L488.8 300.6L489.6 300.9L490.3 301.2L491 301.4L491.8 301.7L492.5 302L493.2 302.2L494 302.5L494.7 302.8L495.4 303.1L496.2 303.4L496.9 303.7L497.6 304L498.4 304.3L499.1 304.6L499.8 304.9L500.6 305.2L501.3 305.6L502 305.9L502.8 306.2L503.5 306.6L504.2 306.9L505 307.2L505.7 307.6L506.4 308L507.2 308.3L507.9 308.7L508.6 309L509.4 309.4L510.1 309.8L510.8 310.2L511.6 310.6L512.3 311L513 311.4L513.8 311.8L514.5 312.2L515.2 312.6L516 313L516.7 313.4L517.4 313.8L518.2 314.3L518.9 314.7L519.6 315.1L520.4 315.6L521.1 316L521.8 316.5L522.6 316.9L523.3 317.4L524 317.9L524.8 318.3L525.5 318.8L526.2 319.3L527 319.8L527.7 320.3L528.4 320.8L529.2 321.3L529.9 321.8L530.6 322.3L531.4 322.8L532.1 323.3L532.8 323.8L533.6 324.3L534.3 324.9L535 325.4L535.8 325.9L536.5 326.5L537.2 327L538 327.6L538.7 328.1L539.4 328.7L540.2 329.3L540.9 329.8L541.6 330.4L542.4 331L543.1 331.6L543.8 332.1L544.6 332.7L545.3 333.3L546 333.9L546.8 334.5L547.5 335.1L548.2 335.7L549 336.4L549.7 337L550.4 337.6L551.2 338.2L551.9 338.9L552.6 339.5L553.4 340.1L554.1 340.8L554.8 341.4L555.6 342.1L556.3 342.7L557 343.4L557.8 344.1L558.5 344.7L559.2 345.4L560 346.1L560.7 346.8L561.4 347.4L562.2 348.1L562.9 348.8L563.6 349.5L564.4 350.2L565.1 350.9L565.8 351.6L566.6 352.3L567.3 353L568 353.7L568.8 354.5L569.5 355.2L570.2 355.9L571 356.6L571.7 357.4L572.4 358.1L573.2 358.8L573.9 359.6L574.7 360.3L575.4 361.1L576.1 361.8L576.9 362.6L577.6 363.3L578.3 364.1L579.1 364.9L579.8 365.6L580.5 366.4L581.3 367.2L582 367.9L582.7 368.7L583.5 369.5L584.2 370.3L584.9 371.1L585.7 371.8L586.4 372.6L587.1 373.4L587.9 374.2L588.6 375L589.3 375.8L590.1 376.6L590.8 377.4L591.5 378.2L592.3 379L593 379.8L593.7 380.6L594.5 381.4L595.2 382.3L595.9 383.1L596.7 383.9L597.4 384.7L598.1 385.5L598.9 386.4L599.6 387.2L600.3 388L601.1 388.8L601.8 389.7L602.5 390.5L603.3 391.3L604 392.1L604.7 393L605.5 393.8L606.2 394.6L606.9 395.5L607.7 396.3L608.4 397.2L609.1 398L609.9 398.8L610.6 399.7L611.3 400.5L612.1 401.3L612.8 402.2L613.5 403L614.3 403.9L615 404.7L615.7 405.6L616.5 406.4L617.2 407.2L617.9 408.1L618.7 408.9L619.4 409.8L620.1 410.6L620.9 411.4L621.6 412.3L622.3 413.1L623.1 414L623.8 414.8L624.5 415.7L625.3 416.5L626 417.3L626.7 418.2L627.5 419L628.2 419.8L628.9 420.7L629.7 421.5L630.4 422.4L631.1 423.2L631.9 424L632.6 424.9L633.3 425.7L634.1 426.5L634.8 427.3L635.5 428.2L636.3 429L637 429.8L637.7 430.6L638.5 431.5L639.2 432.3L639.9 433.1L640.7 433.9L641.4 434.7L642.1 435.6L642.9 436.4L643.6 437.2L644.3 438L645.1 438.8L645.8 439.6L646.5 440.4L647.3 441.2L648 442L648.7 442.8L649.5 443.6L650.2 444.4L650.9 445.2L651.7 445.9L652.4 446.7L653.1 447.5L653.9 448.3L654.6 449.1L655.3 449.8L656.1 450.6L656.8 451.4L657.5 452.1L658.3 452.9L659 453.7L659.7 454.4L660.5 455.2L661.2 455.9L661.9 456.7L662.7 457.4L663.4 458.2L664.2 458.9L664.9 459.6L665.6 460.4L666.4 461.1L667.1 461.8L667.8 462.5L668.6 463.3L669.3 464L670 464.7L670.8 465.4L671.5 466.1L672.2 466.8L673 467.5L673.7 468.2L674.4 468.9L675.2 469.6L675.9 470.2L676.6 470.9L677.4 471.6L678.1 472.3L678.8 472.9L679.6 473.6L680.3 474.3L681 474.9L681.8 475.6L682.5 476.2L683.2 476.9L684 477.5L684.7 478.1L685.4 478.8L686.2 479.4L686.9 480L687.6 480.6L688.4 481.3L689.1 481.9L689.8 482.5L690.6 483.1L691.3 483.7L692 484.3L692.8 484.9L693.5 485.4L694.2 486L695 486.6L695.7 487.2L696.4 487.7L697.2 488.3L697.9 488.9L698.6 489.4L699.4 490L700.1 490.5L700.8 491.1L701.6 491.6L702.3 492.1L703 492.7L703.8 493.2L704.5 493.7L705.2 494.2L706 494.7L706.7 495.2L707.4 495.7L708.2 496.2L708.9 496.7L709.6 497.2L710.4 497.7L711.1 498.2L711.8 498.7L712.6 499.1L713.3 499.6L714 500.1L714.8 500.5L715.5 501L716.2 501.4L717 501.9L717.7 502.3L718.4 502.7L719.2 503.2L719.9 503.6L720.6 504L721.4 504.4L722.1 504.8L722.8 505.2L723.6 505.6L724.3 506L725 506.4L725.8 506.8L726.5 507.2L727.2 507.6L728 508L728.7 508.3L729.4 508.7L730.2 509L730.9 509.4L731.6 509.8L732.4 510.1L733.1 510.4L733.8 510.8L734.6 511.1L735.3 511.4L736 511.8L736.8 512.1L737.5 512.4L738.2 512.7L739 513L739.7 513.3L740.4 513.6L741.2 513.9L741.9 514.2L742.6 514.5L743.4 514.8L744.1 515L744.8 515.3L745.6 515.6L746.3 515.8L747 516.1L747.8 516.4L748.5 516.6L749.2 516.8L750 517.1L750.7 517.3L751.5 517.6L752.2 517.8L752.9 518L753.7 518.2L754.4 518.4L755.1 518.7L755.9 518.9L756.6 519.1L757.3 519.3L758.1 519.5L758.8 519.6L759.5 519.8L760.3 520L761 520.2L761.7 520.4L762.5 520.5L763.2 520.7L763.9 520.9L764.7 521L765.4 521.2L766.1 521.3L766.9 521.5L767.6 521.6L768.3 521.7L769.1 521.9L769.8 522L770.5 522.1L771.3 522.3L772 522.4L772.7 522.5L773.5 522.6L774.2 522.7L774.9 522.8L775.7 522.9L776.4 523L777.1 523.1L777.9 523.2L778.6 523.3L779.3 523.3L780.1 523.4L780.8 523.5L781.5 523.5L782.3 523.6L783 523.7L783.7 523.7L784.5 523.8L785.2 523.8L785.9 523.9L786.7 523.9L787.4 524L788.1 524L788.9 524L789.6 524.1L790.3 524.1L791.1 524.1L791.8 524.1L792.5 524.1L793.3 524.2L794 524.2L794.7 524.2L795.5 524.2L796.2 524.2L796.9 524.2L797.7 524.2L798.4 524.1L799.1 524.1L799.9 524.1L800.6 524.1L801.3 524.1L802.1 524L802.8 524L803.5 524L804.3 523.9L805 523.9L805.7 523.8L806.5 523.8L807.2 523.7L807.9 523.7L808.7 523.6L809.4 523.6L810.1 523.5L810.9 523.5L811.6 523.4L812.3 523.3L813.1 523.2L813.8 523.2L814.5 523.1L815.3 523L816 522.9L816.7 522.8L817.5 522.7L818.2 522.6L818.9 522.5L819.7 522.4L820.4 522.3L821.1 522.2L821.9 522.1L822.6 522L823.3 521.9L824.1 521.8L824.8 521.7L825.5 521.5L826.3 521.4L827 521.3L827.7 521.2L828.5 521L829.2 520.9L829.9 520.7L830.7 520.6L831.4 520.5L832.1 520.3L832.9 520.2L833.6 520L834.3 519.9L835.1 519.7L835.8 519.6L836.5 519.4L837.3 519.2L838 519.1L838.8 518.9L839.5 518.7L840.2 518.6L841 518.4L841.7 518.2L842.4 518L843.2 517.8L843.9 517.7L844.6 517.5L845.4 517.3L846.1 517.1L846.8 516.9L847.6 516.7L848.3 516.5L849 516.3L849.8 516.1L850.5 515.9L851.2 515.7L852 515.5L852.7 515.3L853.4 515.1L854.2 514.8L854.9 514.6L855.6 514.4L856.4 514.2L857.1 514L857.8 513.7L858.6 513.5L859.3 513.3L860 513L860.8 512.8L861.5 512.6L862.2 512.3L863 512.1L863.7 511.8L864.4 511.6L865.2 511.4L865.9 511.1L866.6 510.9L867.4 510.6L868.1 510.4L868.8 510.1L869.6 509.8L870.3 509.6L871 509.3L871.8 509.1L872.5 508.8L873.2 508.5L874 508.3L874.7 508L875.4 507.7L876.2 507.4L876.9 507.2L877.6 506.9L878.4 506.6L879.1 506.3L879.8 506.1L880.6 505.8L881.3 505.5L882 505.2L882.8 504.9L883.5 504.6L884.2 504.3L885 504L885.7 503.7L886.4 503.4L887.2 503.2L887.9 502.9L888.6 502.6L889.4 502.2L890.1 501.9L890.8 501.6L891.6 501.3L892.3 501L893 500.7L893.8 500.4L894.5 500.1L895.2 499.8L896 499.5L896.7 499.1L897.4 498.8L898.2 498.5L898.9 498.2L899.6 497.9L900.4 497.5L901.1 497.2L901.8 496.9L902.6 496.6L903.3 496.2L904 495.9L904.8 495.6L905.5 495.2L906.2 494.9L907 494.6L907.7 494.2L908.4 493.9L909.2 493.5L909.9 493.2L910.6 492.8L911.4 492.5L912.1 492.2L912.8 491.8L913.6 491.5L914.3 491.1L915 490.8L915.8 490.4L916.5 490.1L917.2 489.7L918 489.4L918.7 489L919.4 488.6L920.2 488.3L920.9 487.9L921.6 487.6L922.4 487.2L923.1 486.8L923.8 486.5L924.6 486.1L925.3 485.7L926 485.4L926.8 485L927.5 484.6L928.3 484.3L929 483.9L929.7 483.5L930.5 483.1L931.2 482.8L931.9 482.4L932.7 482L933.4 481.6L934.1 481.3L934.9 480.9L935.6 480.5L936.3 480.1L937.1 479.7L937.8 479.4L938.5 479L939.3 478.6L940 478.2L940.7 477.8L941.5 477.4L942.2 477L942.9 476.6L943.7 476.3L944.4 475.9L945.1 475.5L945.9 475.1L946.6 474.7L947.3 474.3L948.1 473.9L948.8 473.5L949.5 473.1L950.3 472.7L951 472.3L951.7 471.9L952.5 471.5L953.2 471.1L953.9 470.7L954.7 470.3L955.4 469.9L956.1 469.5L956.9 469.1L957.6 468.7L958.3 468.3L959.1 467.9L959.8 467.5L960.5 467L961.3 466.6L962 466.2L962.7 465.8L963.5 465.4L964.2 465L964.9 464.6L965.7 464.2L966.4 463.7L967.1 463.3L967.9 462.9L968.6 462.5L969.3 462.1L970.1 461.7L970.8 461.2L971.5 460.8L972.3 460.4L973 460L973.7 459.6L974.5 459.1L975.2 458.7L975.9 458.3L976.7 457.9L977.4 457.4L978.1 457L978.9 456.6L979.6 456.2L980.3 455.7L981.1 455.3L981.8 454.9L982.5 454.5L983.3 454L984 453.6L984.7 453.2L985.5 452.7L986.2 452.3L986.9 451.9L987.7 451.4L988.4 451L989.1 450.6L989.9 450.2L990.6 449.7L991.3 449.3L992.1 448.8L992.8 448.4L993.5 448L994.3 447.5L995 447.1L995.7 446.7L996.5 446.2L997.2 445.8L997.9 445.4L998.7 444.9L999.4 444.5L1000.1 444L1000.9 443.6L1001.6 443.2L1002.3 442.7L1003.1 442.3L1003.8 441.8L1004.5 441.4L1005.3 441L1006 440.5L1006.7 440.1L1007.5 439.6L1008.2 439.2L1008.9 438.7L1009.7 438.3L1010.4 437.8L1011.1 437.4L1011.9 437L1012.6 436.5L1013.3 436.1L1014.1 435.6L1014.8 435.2L1015.6 434.7L1016.3 434.3L1017 433.8L1017.8 433.4L1018.5 432.9L1019.2 432.5L1020 432L1020.7 431.6L1021.4 431.1L1022.2 430.7L1022.9 430.2L1023.6 429.8L1024.4 429.4L1025.1 428.9L1025.8 428.4L1026.6 428L1027.3 427.5L1028 427.1L1028.8 426.6L1029.5 426.2L1030.2 425.7L1031 425.3L1031.7 424.8L1032.4 424.4L1033.2 423.9L1033.9 423.5L1034.6 423L1035.4 422.6L1036.1 422.1L1036.8 421.7L1037.6 421.2L1038.3 420.8L1039 420.3L1039.8 419.9L1040.5 419.4L1041.2 419L1042 418.5L1042.7 418L1043.4 417.6L1044.2 417.1L1044.9 416.7L1045.6 416.2L1046.4 415.8L1047.1 415.3L1047.8 414.9L1048.6 414.4L1049.3 414L1050 413.5L1050.8 413L1051.5 412.6L1052.2 412.1L1053 411.7L1053.7 411.2L1054.4 410.8L1055.2 410.3L1055.9 409.9L1056.6 409.4L1057.4 409L1058.1 408.5" fill="none" stroke="#0000ff" stroke-width="8.5" stroke-linejoin="round" stroke-dasharray="10 17"/>
<path d="M178.5 408.5L179.2 408.1L180 407.8L180.7 407.4L181.4 407L182.2 406.6L182.9 406.3L183.6 405.9L184.4 405.5L185.1 405.2L185.8 404.8L186.6 404.4L187.3 404.1L188 403.7L188.8 403.3L189.5 402.9L190.2 402.6L191 402.2L191.7 401.8L192.4 401.5L193.2 401.1L193.9 400.7L194.6 400.4L195.4 400L196.1 399.6L196.8 399.2L197.6 398.9L198.3 398.5L199 398.1L199.8 397.8L200.5 397.4L201.2 397L202 396.7L202.7 396.3L203.4 395.9L204.2 395.6L204.9 395.2L205.6 394.8L206.4 394.5L207.1 394.1L207.8 393.7L208.6 393.4L209.3 393L210 392.6L210.8 392.3L211.5 391.9L212.2 391.5L213 391.2L213.7 390.8L214.4 390.4L215.2 390.1L215.9 389.7L216.6 389.3L217.4 389L218.1 388.6L218.8 388.3L219.6 387.9L220.3 387.5L221 387.2L221.8 386.8L222.5 386.4L223.3 386.1L224 385.7L224.7 385.4L225.5 385L226.2 384.6L226.9 384.3L227.7 383.9L228.4 383.6L229.1 383.2L229.9 382.8L230.6 382.5L231.3 382.1L232.1 381.8L232.8 381.4L233.5 381.1L234.3 380.7L235 380.3L235.7 380L236.5 379.6L237.2 379.3L237.9 378.9L238.7 378.6L239.4 378.2L240.1 377.9L240.9 377.5L241.6 377.2L242.3 376.8L243.1 376.5L243.8 376.1L244.5 375.8L245.3 375.4L246 375.1L246.7 374.7L247.5 374.4L248.2 374L248.9 373.7L249.7 373.3L250.4 373L251.1 372.6L251.9 372.3L252.6 371.9L253.3 371.6L254.1 371.3L254.8 370.9L255.5 370.6L256.3 370.2L257 369.9L257.7 369.5L258.5 369.2L259.2 368.9L259.9 368.5L260.7 368.2L261.4 367.8L262.1 367.5L262.9 367.2L263.6 366.8L264.3 366.5L265.1 366.2L265.8 365.8L266.5 365.5L267.3 365.2L268 364.8L268.7 364.5L269.5 364.2L270.2 363.8L270.9 363.5L271.7 363.2L272.4 362.9L273.1 362.5L273.9 362.2L274.6 361.9L275.3 361.6L276.1 361.2L276.8 360.9L277.5 360.6L278.3 360.3L279 359.9L279.7 359.6L280.5 359.3L281.2 359L281.9 358.7L282.7 358.3L283.4 358L284.1 357.7L284.9 357.4L285.6 357.1L286.3 356.8L287.1 356.5L287.8 356.1L288.5 355.8L289.3 355.5L290 355.2L290.7 354.9L291.5 354.6L292.2 354.3L292.9 354L293.7 353.7L294.4 353.4L295.1 353.1L295.9 352.8L296.6 352.5L297.3 352.2L298.1 351.9L298.8 351.6L299.5 351.3L300.3 351L301 350.7L301.7 350.4L302.5 350.1L303.2 349.8L303.9 349.5L304.7 349.2L305.4 348.9L306.1 348.6L306.9 348.4L307.6 348.1L308.3 347.8L309.1 347.5L309.8 347.2L310.6 346.9L311.3 346.7L312 346.4L312.8 346.1L313.5 345.8L314.2 345.5L315 345.3L315.7 345L316.4 344.7L317.2 344.4L317.9 344.2L318.6 343.9L319.4 343.6L320.1 343.4L320.8 343.1L321.6 342.8L322.3 342.6L323 342.3L323.8 342L324.5 341.8L325.2 341.5L326 341.3L326.7 341L327.4 340.7L328.2 340.5L328.9 340.2L329.6 340L330.4 339.7L331.1 339.5L331.8 339.2L332.6 339L333.3 338.7L334 338.5L334.8 338.3L335.5 338L336.2 337.8L337 337.5L337.7 337.3L338.4 337.1L339.2 336.8L339.9 336.6L340.6 336.4L341.4 336.1L342.1 335.9L342.8 335.7L343.6 335.4L344.3 335.2L345 335L345.8 334.8L346.5 334.6L347.2 334.3L348 334.1L348.7 333.9L349.4 333.7L350.2 333.5L350.9 333.3L351.6 333L352.4 332.8L353.1 332.6L353.8 332.4L354.6 332.2L355.3 332L356 331.8L356.8 331.6L357.5 331.4L358.2 331.2L359 331L359.7 330.8L360.4 330.6L361.2 330.4L361.9 330.3L362.6 330.1L363.4 329.9L364.1 329.7L364.8 329.5L365.6 329.3L366.3 329.2L367 329L367.8 328.8L368.5 328.6L369.2 328.5L370 328.3L370.7 328.1L371.4 328L372.2 327.8L372.9 327.6L373.6 327.5L374.4 327.3L375.1 327.1L375.8 327L376.6 326.8L377.3 326.7L378 326.5L378.8 326.4L379.5 326.2L380.2 326.1L381 326L381.7 325.8L382.4 325.7L383.2 325.5L383.9 325.4L384.6 325.3L385.4 325.1L386.1 325L386.8 324.9L387.6 324.8L388.3 324.6L389 324.5L389.8 324.4L390.5 324.3L391.2 324.2L392 324L392.7 323.9L393.4 323.8L394.2 323.7L394.9 323.6L395.6 323.5L396.4 323.4L397.1 323.3L397.8 323.2L398.6 323.1L399.3 323L400.1 322.9L400.8 322.8L401.5 322.8L402.3 322.7L403 322.6L403.7 322.5L404.5 322.4L405.2 322.4L405.9 322.3L406.7 322.2L407.4 322.1L408.1 322.1L408.9 322L409.6 321.9L410.3 321.9L411.1 321.8L411.8 321.8L412.5 321.7L413.3 321.7L414 321.6L414.7 321.6L415.5 321.5L416.2 321.5L416.9 321.4L417.7 321.4L418.4 321.4L419.1 321.3L419.9 321.3L420.6 321.3L421.3 321.3L422.1 321.2L422.8 321.2L423.5 321.2L424.3 321.2L425 321.2L425.7 321.2L426.5 321.1L427.2 321.1L427.9 321.1L428.7 321.1L429.4 321.1L430.1 321.1L430.9 321.2L431.6 321.2L432.3 321.2L433.1 321.2L433.8 321.2L434.5 321.2L435.3 321.2L436 321.3L436.7 321.3L437.5 321.3L438.2 321.4L438.9 321.4L439.7 321.4L440.4 321.5L441.1 321.5L441.9 321.6L442.6 321.6L443.3 321.7L444.1 321.7L444.8 321.8L445.5 321.8L446.3 321.9L447 321.9L447.7 322L448.5 322.1L449.2 322.2L449.9 322.2L450.7 322.3L451.4 322.4L452.1 322.5L452.9 322.6L453.6 322.6L454.3 322.7L455.1 322.8L455.8 322.9L456.5 323L457.3 323.1L458 323.2L458.7 323.3L459.5 323.5L460.2 323.6L460.9 323.7L461.7 323.8L462.4 323.9L463.1 324L463.9 324.2L464.6 324.3L465.3 324.4L466.1 324.6L466.8 324.7L467.5 324.9L468.3 325L469 325.1L469.7 325.3L470.5 325.4L471.2 325.6L471.9 325.8L472.7 325.9L473.4 326.1L474.1 326.3L474.9 326.4L475.6 326.6L476.3 326.8L477.1 327L477.8 327.1L478.5 327.3L479.3 327.5L480 327.7L480.7 327.9L481.5 328.1L482.2 328.3L482.9 328.5L483.7 328.7L484.4 328.9L485.1 329.1L485.9 329.3L486.6 329.5L487.4 329.8L488.1 330L488.8 330.2L489.6 330.4L490.3 330.7L491 330.9L491.8 331.1L492.5 331.4L493.2 331.6L494 331.9L494.7 332.1L495.4 332.4L496.2 332.6L496.9 332.9L497.6 333.2L498.4 333.4L499.1 333.7L499.8 334L500.6 334.2L501.3 334.5L502 334.8L502.8 335.1L503.5 335.3L504.2 335.6L505 335.9L505.7 336.2L506.4 336.5L507.2 336.8L507.9 337.1L508.6 337.4L509.4 337.7L510.1 338L510.8 338.3L511.6 338.7L512.3 339L513 339.3L513.8 339.6L514.5 340L515.2 340.3L516 340.6L516.7 341L517.4 341.3L518.2 341.6L518.9 342L519.6 342.3L520.4 342.7L521.1 343L521.8 343.4L522.6 343.7L523.3 344.1L524 344.5L524.8 344.8L525.5 345.2L526.2 345.6L527 345.9L527.7 346.3L528.4 346.7L529.2 347.1L529.9 347.5L530.6 347.9L531.4 348.2L532.1 348.6L532.8 349L533.6 349.4L534.3 349.8L535 350.2L535.8 350.6L536.5 351.1L537.2 351.5L538 351.9L538.7 352.3L539.4 352.7L540.2 353.1L540.9 353.6L541.6 354L542.4 354.4L543.1 354.9L543.8 355.3L544.6 355.7L545.3 356.2L546 356.6L546.8 357L547.5 357.5L548.2 357.9L549 358.4L549.7 358.8L550.4 359.3L551.2 359.8L551.9 360.2L552.6 360.7L553.4 361.1L554.1 361.6L554.8 362.1L555.6 362.6L556.3 363L557 363.5L557.8 364L558.5 364.5L559.2 364.9L560 365.4L560.7 365.9L561.4 366.4L562.2 366.9L562.9 367.4L563.6 367.9L564.4 368.4L565.1 368.9L565.8 369.4L566.6 369.9L567.3 370.4L568 370.9L568.8 371.4L569.5 371.9L570.2 372.4L571 372.9L571.7 373.4L572.4 373.9L573.2 374.5L573.9 375L574.7 375.5L575.4 376L576.1 376.5L576.9 377.1L577.6 377.6L578.3 378.1L579.1 378.7L579.8 379.2L580.5 379.7L581.3 380.3L582 380.8L582.7 381.3L583.5 381.9L584.2 382.4L584.9 383L585.7 383.5L586.4 384L587.1 384.6L587.9 385.1L588.6 385.7L589.3 386.2L590.1 386.8L590.8 387.3L591.5 387.9L592.3 388.4L593 389L593.7 389.5L594.5 390.1L595.2 390.7L595.9 391.2L596.7 391.8L597.4 392.3L598.1 392.9L598.9 393.4L599.6 394L600.3 394.6L601.1 395.1L601.8 395.7L602.5 396.3L603.3 396.8L604 397.4L604.7 398L605.5 398.5L606.2 399.1L606.9 399.7L607.7 400.2L608.4 400.8L609.1 401.4L609.9 401.9L610.6 402.5L611.3 403.1L612.1 403.6L612.8 404.2L613.5 404.8L614.3 405.4L615 405.9L615.7 406.5L616.5 407.1L617.2 407.6L617.9 408.2L618.7 408.8L619.4 409.4L620.1 409.9L620.9 410.5L621.6 411.1L622.3 411.6L623.1 412.2L623.8 412.8L624.5 413.4L625.3 413.9L626 414.5L626.7 415.1L627.5 415.6L628.2 416.2L628.9 416.8L629.7 417.3L630.4 417.9L631.1 418.5L631.9 419L632.6 419.6L633.3 420.2L634.1 420.7L634.8 421.3L635.5 421.9L636.3 422.4L637 423L637.7 423.6L638.5 424.1L639.2 424.7L639.9 425.2L640.7 425.8L641.4 426.3L642.1 426.9L642.9 427.5L643.6 428L644.3 428.6L645.1 429.1L645.8 429.7L646.5 430.2L647.3 430.8L648 431.3L648.7 431.9L649.5 432.4L650.2 433L650.9 433.5L651.7 434L652.4 434.6L653.1 435.1L653.9 435.7L654.6 436.2L655.3 436.7L656.1 437.3L656.8 437.8L657.5 438.3L658.3 438.9L659 439.4L659.7 439.9L660.5 440.5L661.2 441L661.9 441.5L662.7 442L663.4 442.5L664.2 443.1L664.9 443.6L665.6 444.1L666.4 444.6L667.1 445.1L667.8 445.6L668.6 446.1L669.3 446.6L670 447.1L670.8 447.6L671.5 448.1L672.2 448.6L673 449.1L673.7 449.6L674.4 450.1L675.2 450.6L675.9 451.1L676.6 451.6L677.4 452.1L678.1 452.5L678.8 453L679.6 453.5L680.3 454L681 454.4L681.8 454.9L682.5 455.4L683.2 455.9L684 456.3L684.7 456.8L685.4 457.2L686.2 457.7L686.9 458.2L687.6 458.6L688.4 459.1L689.1 459.5L689.8 460L690.6 460.4L691.3 460.8L692 461.3L692.8 461.7L693.5 462.1L694.2 462.6L695 463L695.7 463.4L696.4 463.9L697.2 464.3L697.9 464.7L698.6 465.1L699.4 465.5L700.1 465.9L700.8 466.4L701.6 466.8L702.3 467.2L703 467.6L703.8 468L704.5 468.4L705.2 468.8L706 469.1L706.7 469.5L707.4 469.9L708.2 470.3L708.9 470.7L709.6 471.1L710.4 471.4L711.1 471.8L711.8 472.2L712.6 472.5L713.3 472.9L714 473.3L714.8 473.6L715.5 474L716.2 474.3L717 474.7L717.7 475L718.4 475.4L719.2 475.7L719.9 476L720.6 476.4L721.4 476.7L722.1 477L722.8 477.4L723.6 477.7L724.3 478L725 478.3L725.8 478.7L726.5 479L727.2 479.3L728 479.6L728.7 479.9L729.4 480.2L730.2 480.5L730.9 480.8L731.6 481.1L732.4 481.4L733.1 481.7L733.8 481.9L734.6 482.2L735.3 482.5L736 482.8L736.8 483L737.5 483.3L738.2 483.6L739 483.8L739.7 484.1L740.4 484.4L741.2 484.6L741.9 484.9L742.6 485.1L743.4 485.4L744.1 485.6L744.8 485.9L745.6 486.1L746.3 486.3L747 486.6L747.8 486.8L748.5 487L749.2 487.2L750 487.5L750.7 487.7L751.5 487.9L752.2 488.1L752.9 488.3L753.7 488.5L754.4 488.7L755.1 488.9L755.9 489.1L756.6 489.3L757.3 489.5L758.1 489.7L758.8 489.9L759.5 490L760.3 490.2L761 490.4L761.7 490.6L762.5 490.7L763.2 490.9L763.9 491.1L764.7 491.2L765.4 491.4L766.1 491.6L766.9 491.7L767.6 491.9L768.3 492L769.1 492.1L769.8 492.3L770.5 492.4L771.3 492.6L772 492.7L772.7 492.8L773.5 493L774.2 493.1L774.9 493.2L775.7 493.3L776.4 493.4L777.1 493.5L777.9 493.7L778.6 493.8L779.3 493.9L780.1 494L780.8 494.1L781.5 494.2L782.3 494.3L783 494.4L783.7 494.4L784.5 494.5L785.2 494.6L785.9 494.7L786.7 494.8L787.4 494.8L788.1 494.9L788.9 495L789.6 495.1L790.3 495.1L791.1 495.2L791.8 495.2L792.5 495.3L793.3 495.3L794 495.4L794.7 495.4L795.5 495.5L796.2 495.5L796.9 495.6L797.7 495.6L798.4 495.6L799.1 495.7L799.9 495.7L800.6 495.7L801.3 495.8L802.1 495.8L802.8 495.8L803.5 495.8L804.3 495.8L805 495.8L805.7 495.8L806.5 495.9L807.2 495.9L807.9 495.9L808.7 495.9L809.4 495.9L810.1 495.9L810.9 495.8L811.6 495.8L812.3 495.8L813.1 495.8L813.8 495.8L814.5 495.8L815.3 495.7L816 495.7L816.7 495.7L817.5 495.7L818.2 495.6L818.9 495.6L819.7 495.6L820.4 495.5L821.1 495.5L821.9 495.4L822.6 495.4L823.3 495.3L824.1 495.3L824.8 495.2L825.5 495.2L826.3 495.1L827 495.1L827.7 495L828.5 494.9L829.2 494.9L829.9 494.8L830.7 494.7L831.4 494.6L832.1 494.6L832.9 494.5L833.6 494.4L834.3 494.3L835.1 494.2L835.8 494.2L836.5 494.1L837.3 494L838 493.9L838.8 493.8L839.5 493.7L840.2 493.6L841 493.5L841.7 493.4L842.4 493.3L843.2 493.2L843.9 493.1L844.6 493L845.4 492.8L846.1 492.7L846.8 492.6L847.6 492.5L848.3 492.4L849 492.2L849.8 492.1L850.5 492L851.2 491.9L852 491.7L852.7 491.6L853.4 491.5L854.2 491.3L854.9 491.2L855.6 491L856.4 490.9L857.1 490.8L857.8 490.6L858.6 490.5L859.3 490.3L860 490.2L860.8 490L861.5 489.9L862.2 489.7L863 489.5L863.7 489.4L864.4 489.2L865.2 489L865.9 488.9L866.6 488.7L867.4 488.5L868.1 488.4L868.8 488.2L869.6 488L870.3 487.8L871 487.7L871.8 487.5L872.5 487.3L873.2 487.1L874 486.9L874.7 486.7L875.4 486.6L876.2 486.4L876.9 486.2L877.6 486L878.4 485.8L879.1 485.6L879.8 485.4L880.6 485.2L881.3 485L882 484.8L882.8 484.6L883.5 484.4L884.2 484.2L885 484L885.7 483.7L886.4 483.5L887.2 483.3L887.9 483.1L888.6 482.9L889.4 482.7L890.1 482.4L890.8 482.2L891.6 482L892.3 481.8L893 481.6L893.8 481.3L894.5 481.1L895.2 480.9L896 480.6L896.7 480.4L897.4 480.2L898.2 479.9L898.9 479.7L899.6 479.5L900.4 479.2L901.1 479L901.8 478.7L902.6 478.5L903.3 478.3L904 478L904.8 477.8L905.5 477.5L906.2 477.3L907 477L907.7 476.8L908.4 476.5L909.2 476.3L909.9 476L910.6 475.7L911.4 475.5L912.1 475.2L912.8 475L913.6 474.7L914.3 474.4L915 474.2L915.8 473.9L916.5 473.6L917.2 473.4L918 473.1L918.7 472.8L919.4 472.6L920.2 472.3L920.9 472L921.6 471.7L922.4 471.5L923.1 471.2L923.8 470.9L924.6 470.6L925.3 470.3L926 470.1L926.8 469.8L927.5 469.5L928.3 469.2L929 468.9L929.7 468.6L930.5 468.4L931.2 468.1L931.9 467.8L932.7 467.5L933.4 467.2L934.1 466.9L934.9 466.6L935.6 466.3L936.3 466L937.1 465.7L937.8 465.4L938.5 465.1L939.3 464.8L940 464.5L940.7 464.2L941.5 463.9L942.2 463.6L942.9 463.3L943.7 463L944.4 462.7L945.1 462.4L945.9 462.1L946.6 461.8L947.3 461.5L948.1 461.2L948.8 460.9L949.5 460.5L950.3 460.2L951 459.9L951.7 459.6L952.5 459.3L953.2 459L953.9 458.7L954.7 458.3L955.4 458L956.1 457.7L956.9 457.4L957.6 457.1L958.3 456.7L959.1 456.4L959.8 456.1L960.5 455.8L961.3 455.4L962 455.1L962.7 454.8L963.5 454.5L964.2 454.1L964.9 453.8L965.7 453.5L966.4 453.2L967.1 452.8L967.9 452.5L968.6 452.2L969.3 451.8L970.1 451.5L970.8 451.2L971.5 450.8L972.3 450.5L973 450.2L973.7 449.8L974.5 449.5L975.2 449.2L975.9 448.8L976.7 448.5L977.4 448.1L978.1 447.8L978.9 447.5L979.6 447.1L980.3 446.8L981.1 446.4L981.8 446.1L982.5 445.7L983.3 445.4L984 445.1L984.7 444.7L985.5 444.4L986.2 444L986.9 443.7L987.7 443.3L988.4 443L989.1 442.6L989.9 442.3L990.6 441.9L991.3 441.6L992.1 441.2L992.8 440.9L993.5 440.5L994.3 440.2L995 439.8L995.7 439.5L996.5 439.1L997.2 438.8L997.9 438.4L998.7 438.1L999.4 437.7L1000.1 437.4L1000.9 437L1001.6 436.7L1002.3 436.3L1003.1 435.9L1003.8 435.6L1004.5 435.2L1005.3 434.9L1006 434.5L1006.7 434.2L1007.5 433.8L1008.2 433.4L1008.9 433.1L1009.7 432.7L1010.4 432.4L1011.1 432L1011.9 431.6L1012.6 431.3L1013.3 430.9L1014.1 430.6L1014.8 430.2L1015.6 429.8L1016.3 429.5L1017 429.1L1017.8 428.7L1018.5 428.4L1019.2 428L1020 427.7L1020.7 427.3L1021.4 426.9L1022.2 426.6L1022.9 426.2L1023.6 425.8L1024.4 425.5L1025.1 425.1L1025.8 424.7L1026.6 424.4L1027.3 424L1028 423.6L1028.8 423.3L1029.5 422.9L1030.2 422.5L1031 422.2L1031.7 421.8L1032.4 421.4L1033.2 421.1L1033.9 420.7L1034.6 420.3L1035.4 420L1036.1 419.6L1036.8 419.2L1037.6 418.9L1038.3 418.5L1039 418.1L1039.8 417.8L1040.5 417.4L1041.2 417L1042 416.6L1042.7 416.3L1043.4 415.9L1044.2 415.5L1044.9 415.2L1045.6 414.8L1046.4 414.4L1047.1 414.1L1047.8 413.7L1048.6 413.3L1049.3 412.9L1050 412.6L1050.8 412.2L1051.5 411.8L1052.2 411.5L1053 411.1L1053.7 410.7L1054.4 410.4L1055.2 410L1055.9 409.6L1056.6 409.2L1057.4 408.9L1058.1 408.5" fill="none" stroke="#ff00ff" stroke-width="8.5" stroke-linejoin="round" stroke-dasharray="32 5 11 5"/>
<path d="M178.5 408.5L179.2 408.2L180 407.9L180.7 407.6L181.4 407.3L182.2 407L182.9 406.7L183.6 406.4L184.4 406.1L185.1 405.8L185.8 405.5L186.6 405.2L187.3 404.9L188 404.6L188.8 404.3L189.5 404L190.2 403.7L191 403.4L191.7 403.1L192.4 402.8L193.2 402.5L193.9 402.2L194.6 401.9L195.4 401.6L196.1 401.3L196.8 401L197.6 400.6L198.3 400.3L199 400L199.8 399.7L200.5 399.4L201.2 399.1L202 398.8L202.7 398.5L203.4 398.2L204.2 397.9L204.9 397.6L205.6 397.3L206.4 397L207.1 396.7L207.8 396.4L208.6 396.2L209.3 395.9L210 395.6L210.8 395.3L211.5 395L212.2 394.7L213 394.4L213.7 394.1L214.4 393.8L215.2 393.5L215.9 393.2L216.6 392.9L217.4 392.6L218.1 392.3L218.8 392L219.6 391.7L220.3 391.4L221 391.1L221.8 390.8L222.5 390.5L223.3 390.2L224 389.9L224.7 389.6L225.5 389.3L226.2 389.1L226.9 388.8L227.7 388.5L228.4 388.2L229.1 387.9L229.9 387.6L230.6 387.3L231.3 387L232.1 386.7L232.8 386.4L233.5 386.1L234.3 385.9L235 385.6L235.7 385.3L236.5 385L237.2 384.7L237.9 384.4L238.7 384.1L239.4 383.8L240.1 383.6L240.9 383.3L241.6 383L242.3 382.7L243.1 382.4L243.8 382.1L244.5 381.8L245.3 381.6L246 381.3L246.7 381L247.5 380.7L248.2 380.4L248.9 380.1L249.7 379.9L250.4 379.6L251.1 379.3L251.9 379L252.6 378.8L253.3 378.5L254.1 378.2L254.8 377.9L255.5 377.6L256.3 377.4L257 377.1L257.7 376.8L258.5 376.5L259.2 376.3L259.9 376L260.7 375.7L261.4 375.4L262.1 375.2L262.9 374.9L263.6 374.6L264.3 374.4L265.1 374.1L265.8 373.8L266.5 373.6L267.3 373.3L268 373L268.7 372.8L269.5 372.5L270.2 372.2L270.9 372L271.7 371.7L272.4 371.4L273.1 371.2L273.9 370.9L274.6 370.6L275.3 370.4L276.1 370.1L276.8 369.9L277.5 369.6L278.3 369.4L279 369.1L279.7 368.8L280.5 368.6L281.2 368.3L281.9 368.1L282.7 367.8L283.4 367.6L284.1 367.3L284.9 367.1L285.6 366.8L286.3 366.6L287.1 366.3L287.8 366.1L288.5 365.8L289.3 365.6L290 365.3L290.7 365.1L291.5 364.8L292.2 364.6L292.9 364.4L293.7 364.1L294.4 363.9L295.1 363.6L295.9 363.4L296.6 363.2L297.3 362.9L298.1 362.7L298.8 362.4L299.5 362.2L300.3 362L301 361.7L301.7 361.5L302.5 361.3L303.2 361L303.9 360.8L304.7 360.6L305.4 360.4L306.1 360.1L306.9 359.9L307.6 359.7L308.3 359.5L309.1 359.2L309.8 359L310.6 358.8L311.3 358.6L312 358.3L312.8 358.1L313.5 357.9L314.2 357.7L315 357.5L315.7 357.3L316.4 357.1L317.2 356.8L317.9 356.6L318.6 356.4L319.4 356.2L320.1 356L320.8 355.8L321.6 355.6L322.3 355.4L323 355.2L323.8 355L324.5 354.8L325.2 354.6L326 354.4L326.7 354.2L327.4 354L328.2 353.8L328.9 353.6L329.6 353.4L330.4 353.2L331.1 353L331.8 352.8L332.6 352.6L333.3 352.5L334 352.3L334.8 352.1L335.5 351.9L336.2 351.7L337 351.5L337.7 351.4L338.4 351.2L339.2 351L339.9 350.8L340.6 350.7L341.4 350.5L342.1 350.3L342.8 350.1L343.6 350L344.3 349.8L345 349.6L345.8 349.5L346.5 349.3L347.2 349.1L348 349L348.7 348.8L349.4 348.7L350.2 348.5L350.9 348.3L351.6 348.2L352.4 348L353.1 347.9L353.8 347.7L354.6 347.6L355.3 347.4L356 347.3L356.8 347.1L357.5 347L358.2 346.8L359 346.7L359.7 346.6L360.4 346.4L361.2 346.3L361.9 346.2L362.6 346L363.4 345.9L364.1 345.8L364.8 345.6L365.6 345.5L366.3 345.4L367 345.3L367.8 345.1L368.5 345L369.2 344.9L370 344.8L370.7 344.6L371.4 344.5L372.2 344.4L372.9 344.3L373.6 344.2L374.4 344.1L375.1 344L375.8 343.9L376.6 343.8L377.3 343.7L378 343.6L378.8 343.5L379.5 343.4L380.2 343.3L381 343.2L381.7 343.1L382.4 343L383.2 342.9L383.9 342.8L384.6 342.7L385.4 342.6L386.1 342.6L386.8 342.5L387.6 342.4L388.3 342.3L389 342.2L389.8 342.2L390.5 342.1L391.2 342L392 342L392.7 341.9L393.4 341.8L394.2 341.8L394.9 341.7L395.6 341.6L396.4 341.6L397.1 341.5L397.8 341.5L398.6 341.4L399.3 341.4L400.1 341.3L400.8 341.3L401.5 341.2L402.3 341.2L403 341.1L403.7 341.1L404.5 341.1L405.2 341L405.9 341L406.7 341L407.4 340.9L408.1 340.9L408.9 340.9L409.6 340.8L410.3 340.8L411.1 340.8L411.8 340.8L412.5 340.8L413.3 340.7L414 340.7L414.7 340.7L415.5 340.7L416.2 340.7L416.9 340.7L417.7 340.7L418.4 340.7L419.1 340.7L419.9 340.7L420.6 340.7L421.3 340.7L422.1 340.7L422.8 340.7L423.5 340.7L424.3 340.7L425 340.7L425.7 340.8L426.5 340.8L427.2 340.8L427.9 340.8L428.7 340.8L429.4 340.9L430.1 340.9L430.9 340.9L431.6 341L432.3 341L433.1 341L433.8 341.1L434.5 341.1L435.3 341.2L436 341.2L436.7 341.3L437.5 341.3L438.2 341.4L438.9 341.4L439.7 341.5L440.4 341.5L441.1 341.6L441.9 341.6L442.6 341.7L443.3 341.8L444.1 341.8L444.8 341.9L445.5 342L446.3 342L447 342.1L447.7 342.2L448.5 342.3L449.2 342.4L449.9 342.4L450.7 342.5L451.4 342.6L452.1 342.7L452.9 342.8L453.6 342.9L454.3 343L455.1 343.1L455.8 343.2L456.5 343.3L457.3 343.4L458 343.5L458.7 343.6L459.5 343.7L460.2 343.8L460.9 344L461.7 344.1L462.4 344.2L463.1 344.3L463.9 344.4L464.6 344.6L465.3 344.7L466.1 344.8L466.8 345L467.5 345.1L468.3 345.2L469 345.4L469.7 345.5L470.5 345.6L471.2 345.8L471.9 345.9L472.7 346.1L473.4 346.2L474.1 346.4L474.9 346.5L475.6 346.7L476.3 346.9L477.1 347L477.8 347.2L478.5 347.3L479.3 347.5L480 347.7L480.7 347.9L481.5 348L482.2 348.2L482.9 348.4L483.7 348.6L484.4 348.7L485.1 348.9L485.9 349.1L486.6 349.3L487.4 349.5L488.1 349.7L488.8 349.9L489.6 350.1L490.3 350.3L491 350.5L491.8 350.7L492.5 350.9L493.2 351.1L494 351.3L494.7 351.5L495.4 351.7L496.2 351.9L496.9 352.1L497.6 352.4L498.4 352.6L499.1 352.8L499.8 353L500.6 353.2L501.3 353.5L502 353.7L502.8 353.9L503.5 354.2L504.2 354.4L505 354.6L505.7 354.9L506.4 355.1L507.2 355.4L507.9 355.6L508.6 355.9L509.4 356.1L510.1 356.4L510.8 356.6L511.6 356.9L512.3 357.1L513 357.4L513.8 357.6L514.5 357.9L515.2 358.2L516 358.4L516.7 358.7L517.4 359L518.2 359.2L518.9 359.5L519.6 359.8L520.4 360.1L521.1 360.3L521.8 360.6L522.6 360.9L523.3 361.2L524 361.5L524.8 361.7L525.5 362L526.2 362.3L527 362.6L527.7 362.9L528.4 363.2L529.2 363.5L529.9 363.8L530.6 364.1L531.4 364.4L532.1 364.7L532.8 365L533.6 365.3L534.3 365.6L535 365.9L535.8 366.3L536.5 366.6L537.2 366.9L538 367.2L538.7 367.5L539.4 367.8L540.2 368.2L540.9 368.5L541.6 368.8L542.4 369.1L543.1 369.5L543.8 369.8L544.6 370.1L545.3 370.4L546 370.8L546.8 371.1L547.5 371.4L548.2 371.8L549 372.1L549.7 372.5L550.4 372.8L551.2 373.1L551.9 373.5L552.6 373.8L553.4 374.2L554.1 374.5L554.8 374.9L555.6 375.2L556.3 375.6L557 375.9L557.8 376.3L558.5 376.6L559.2 377L560 377.4L560.7 377.7L561.4 378.1L562.2 378.4L562.9 378.8L563.6 379.2L564.4 379.5L565.1 379.9L565.8 380.3L566.6 380.6L567.3 381L568 381.4L568.8 381.8L569.5 382.1L570.2 382.5L571 382.9L571.7 383.2L572.4 383.6L573.2 384L573.9 384.4L574.7 384.8L575.4 385.1L576.1 385.5L576.9 385.9L577.6 386.3L578.3 386.7L579.1 387.1L579.8 387.4L580.5 387.8L581.3 388.2L582 388.6L582.7 389L583.5 389.4L584.2 389.8L584.9 390.2L585.7 390.6L586.4 391L587.1 391.3L587.9 391.7L588.6 392.1L589.3 392.5L590.1 392.9L590.8 393.3L591.5 393.7L592.3 394.1L593 394.5L593.7 394.9L594.5 395.3L595.2 395.7L595.9 396.1L596.7 396.5L597.4 396.9L598.1 397.3L598.9 397.7L599.6 398.1L600.3 398.5L601.1 398.9L601.8 399.3L602.5 399.7L603.3 400.2L604 400.6L604.7 401L605.5 401.4L606.2 401.8L606.9 402.2L607.7 402.6L608.4 403L609.1 403.4L609.9 403.8L610.6 404.2L611.3 404.6L612.1 405L612.8 405.4L613.5 405.8L614.3 406.3L615 406.7L615.7 407.1L616.5 407.5L617.2 407.9L617.9 408.3L618.7 408.7L619.4 409.1L620.1 409.5L620.9 409.9L621.6 410.3L622.3 410.7L623.1 411.2L623.8 411.6L624.5 412L625.3 412.4L626 412.8L626.7 413.2L627.5 413.6L628.2 414L628.9 414.4L629.7 414.8L630.4 415.2L631.1 415.6L631.9 416L632.6 416.4L633.3 416.8L634.1 417.3L634.8 417.7L635.5 418.1L636.3 418.5L637 418.9L637.7 419.3L638.5 419.7L639.2 420.1L639.9 420.5L640.7 420.9L641.4 421.3L642.1 421.7L642.9 422.1L643.6 422.5L644.3 422.9L645.1 423.3L645.8 423.7L646.5 424.1L647.3 424.5L648 424.9L648.7 425.3L649.5 425.7L650.2 426L650.9 426.4L651.7 426.8L652.4 427.2L653.1 427.6L653.9 428L654.6 428.4L655.3 428.8L656.1 429.2L656.8 429.6L657.5 429.9L658.3 430.3L659 430.7L659.7 431.1L660.5 431.5L661.2 431.9L661.9 432.2L662.7 432.6L663.4 433L664.2 433.4L664.9 433.8L665.6 434.1L666.4 434.5L667.1 434.9L667.8 435.2L668.6 435.6L669.3 436L670 436.4L670.8 436.7L671.5 437.1L672.2 437.5L673 437.8L673.7 438.2L674.4 438.6L675.2 438.9L675.9 439.3L676.6 439.6L677.4 440L678.1 440.4L678.8 440.7L679.6 441.1L680.3 441.4L681 441.8L681.8 442.1L682.5 442.5L683.2 442.8L684 443.2L684.7 443.5L685.4 443.9L686.2 444.2L686.9 444.5L687.6 444.9L688.4 445.2L689.1 445.6L689.8 445.9L690.6 446.2L691.3 446.6L692 446.9L692.8 447.2L693.5 447.5L694.2 447.9L695 448.2L695.7 448.5L696.4 448.8L697.2 449.2L697.9 449.5L698.6 449.8L699.4 450.1L700.1 450.4L700.8 450.7L701.6 451.1L702.3 451.4L703 451.7L703.8 452L704.5 452.3L705.2 452.6L706 452.9L706.7 453.2L707.4 453.5L708.2 453.8L708.9 454.1L709.6 454.4L710.4 454.7L711.1 455L711.8 455.3L712.6 455.5L713.3 455.8L714 456.1L714.8 456.4L715.5 456.7L716.2 456.9L717 457.2L717.7 457.5L718.4 457.8L719.2 458L719.9 458.3L720.6 458.6L721.4 458.8L722.1 459.1L722.8 459.4L723.6 459.6L724.3 459.9L725 460.1L725.8 460.4L726.5 460.6L727.2 460.9L728 461.1L728.7 461.4L729.4 461.6L730.2 461.9L730.9 462.1L731.6 462.4L732.4 462.6L733.1 462.8L733.8 463.1L734.6 463.3L735.3 463.5L736 463.8L736.8 464L737.5 464.2L738.2 464.4L739 464.6L739.7 464.9L740.4 465.1L741.2 465.3L741.9 465.5L742.6 465.7L743.4 465.9L744.1 466.1L744.8 466.3L745.6 466.5L746.3 466.7L747 466.9L747.8 467.1L748.5 467.3L749.2 467.5L750 467.7L750.7 467.9L751.5 468.1L752.2 468.3L752.9 468.4L753.7 468.6L754.4 468.8L755.1 469L755.9 469.1L756.6 469.3L757.3 469.5L758.1 469.7L758.8 469.8L759.5 470L760.3 470.1L761 470.3L761.7 470.5L762.5 470.6L763.2 470.8L763.9 470.9L764.7 471.1L765.4 471.2L766.1 471.4L766.9 471.5L767.6 471.6L768.3 471.8L769.1 471.9L769.8 472L770.5 472.2L771.3 472.3L772 472.4L772.7 472.6L773.5 472.7L774.2 472.8L774.9 472.9L775.7 473L776.4 473.2L777.1 473.3L777.9 473.4L778.6 473.5L779.3 473.6L780.1 473.7L780.8 473.8L781.5 473.9L782.3 474L783 474.1L783.7 474.2L784.5 474.3L785.2 474.4L785.9 474.5L786.7 474.6L787.4 474.6L788.1 474.7L788.9 474.8L789.6 474.9L790.3 475L791.1 475L791.8 475.1L792.5 475.2L793.3 475.2L794 475.3L794.7 475.4L795.5 475.4L796.2 475.5L796.9 475.5L797.7 475.6L798.4 475.6L799.1 475.7L799.9 475.7L800.6 475.8L801.3 475.8L802.1 475.9L802.8 475.9L803.5 476L804.3 476L805 476L805.7 476.1L806.5 476.1L807.2 476.1L807.9 476.2L808.7 476.2L809.4 476.2L810.1 476.2L810.9 476.2L811.6 476.3L812.3 476.3L813.1 476.3L813.8 476.3L814.5 476.3L815.3 476.3L816 476.3L816.7 476.3L817.5 476.3L818.2 476.3L818.9 476.3L819.7 476.3L820.4 476.3L821.1 476.3L821.9 476.3L822.6 476.3L823.3 476.3L824.1 476.2L824.8 476.2L825.5 476.2L826.3 476.2L827 476.2L827.7 476.1L828.5 476.1L829.2 476.1L829.9 476L830.7 476L831.4 476L832.1 475.9L832.9 475.9L833.6 475.9L834.3 475.8L835.1 475.8L835.8 475.7L836.5 475.7L837.3 475.6L838 475.6L838.8 475.5L839.5 475.5L840.2 475.4L841 475.4L841.7 475.3L842.4 475.2L843.2 475.2L843.9 475.1L844.6 475L845.4 475L846.1 474.9L846.8 474.8L847.6 474.8L848.3 474.7L849 474.6L849.8 474.5L850.5 474.4L851.2 474.4L852 474.3L852.7 474.2L853.4 474.1L854.2 474L854.9 473.9L855.6 473.8L856.4 473.7L857.1 473.6L857.8 473.5L858.6 473.4L859.3 473.3L860 473.2L860.8 473.1L861.5 473L862.2 472.9L863 472.8L863.7 472.7L864.4 472.6L865.2 472.5L865.9 472.4L866.6 472.2L867.4 472.1L868.1 472L868.8 471.9L869.6 471.7L870.3 471.6L871 471.5L871.8 471.4L872.5 471.2L873.2 471.1L874 471L874.7 470.8L875.4 470.7L876.2 470.6L876.9 470.4L877.6 470.3L878.4 470.2L879.1 470L879.8 469.9L880.6 469.7L881.3 469.6L882 469.4L882.8 469.3L883.5 469.1L884.2 469L885 468.8L885.7 468.7L886.4 468.5L887.2 468.3L887.9 468.2L888.6 468L889.4 467.9L890.1 467.7L890.8 467.5L891.6 467.4L892.3 467.2L893 467L893.8 466.9L894.5 466.7L895.2 466.5L896 466.3L896.7 466.2L897.4 466L898.2 465.8L898.9 465.6L899.6 465.5L900.4 465.3L901.1 465.1L901.8 464.9L902.6 464.7L903.3 464.5L904 464.4L904.8 464.2L905.5 464L906.2 463.8L907 463.6L907.7 463.4L908.4 463.2L909.2 463L909.9 462.8L910.6 462.6L911.4 462.4L912.1 462.2L912.8 462L913.6 461.8L914.3 461.6L915 461.4L915.8 461.2L916.5 461L917.2 460.8L918 460.6L918.7 460.4L919.4 460.2L920.2 459.9L920.9 459.7L921.6 459.5L922.4 459.3L923.1 459.1L923.8 458.9L924.6 458.7L925.3 458.4L926 458.2L926.8 458L927.5 457.8L928.3 457.5L929 457.3L929.7 457.1L930.5 456.9L931.2 456.6L931.9 456.4L932.7 456.2L933.4 456L934.1 455.7L934.9 455.5L935.6 455.3L936.3 455L937.1 454.8L937.8 454.6L938.5 454.3L939.3 454.1L940 453.8L940.7 453.6L941.5 453.4L942.2 453.1L942.9 452.9L943.7 452.6L944.4 452.4L945.1 452.2L945.9 451.9L946.6 451.7L947.3 451.4L948.1 451.2L948.8 450.9L949.5 450.7L950.3 450.4L951 450.2L951.7 449.9L952.5 449.7L953.2 449.4L953.9 449.2L954.7 448.9L955.4 448.7L956.1 448.4L956.9 448.2L957.6 447.9L958.3 447.6L959.1 447.4L959.8 447.1L960.5 446.9L961.3 446.6L962 446.4L962.7 446.1L963.5 445.8L964.2 445.6L964.9 445.3L965.7 445L966.4 444.8L967.1 444.5L967.9 444.2L968.6 444L969.3 443.7L970.1 443.4L970.8 443.2L971.5 442.9L972.3 442.6L973 442.4L973.7 442.1L974.5 441.8L975.2 441.6L975.9 441.3L976.7 441L977.4 440.7L978.1 440.5L978.9 440.2L979.6 439.9L980.3 439.6L981.1 439.4L981.8 439.1L982.5 438.8L983.3 438.5L984 438.2L984.7 438L985.5 437.7L986.2 437.4L986.9 437.1L987.7 436.9L988.4 436.6L989.1 436.3L989.9 436L990.6 435.7L991.3 435.4L992.1 435.2L992.8 434.9L993.5 434.6L994.3 434.3L995 434L995.7 433.7L996.5 433.4L997.2 433.2L997.9 432.9L998.7 432.6L999.4 432.3L1000.1 432L1000.9 431.7L1001.6 431.4L1002.3 431.1L1003.1 430.9L1003.8 430.6L1004.5 430.3L1005.3 430L1006 429.7L1006.7 429.4L1007.5 429.1L1008.2 428.8L1008.9 428.5L1009.7 428.2L1010.4 427.9L1011.1 427.7L1011.9 427.4L1012.6 427.1L1013.3 426.8L1014.1 426.5L1014.8 426.2L1015.6 425.9L1016.3 425.6L1017 425.3L1017.8 425L1018.5 424.7L1019.2 424.4L1020 424.1L1020.7 423.8L1021.4 423.5L1022.2 423.2L1022.9 422.9L1023.6 422.6L1024.4 422.3L1025.1 422L1025.8 421.7L1026.6 421.4L1027.3 421.1L1028 420.8L1028.8 420.6L1029.5 420.3L1030.2 420L1031 419.7L1031.7 419.4L1032.4 419.1L1033.2 418.8L1033.9 418.5L1034.6 418.2L1035.4 417.9L1036.1 417.6L1036.8 417.3L1037.6 417L1038.3 416.7L1039 416.4L1039.8 416L1040.5 415.7L1041.2 415.4L1042 415.1L1042.7 414.8L1043.4 414.5L1044.2 414.2L1044.9 413.9L1045.6 413.6L1046.4 413.3L1047.1 413L1047.8 412.7L1048.6 412.4L1049.3 412.1L1050 411.8L1050.8 411.5L1051.5 411.2L1052.2 410.9L1053 410.6L1053.7 410.3L1054.4 410L1055.2 409.7L1055.9 409.4L1056.6 409.1L1057.4 408.8L1058.1 408.5" fill="none" stroke="#008000" stroke-width="8.5" stroke-linejoin="round" stroke-dasharray="26 4 11 3 12 5"/>
<path d="M178.5 1178.8L179.2 1178.2L180 1177.5L180.7 1176.9L181.4 1176.2L182.2 1175.6L182.9 1175L183.6 1174.3L184.4 1173.7L185.1 1173L185.8 1172.4L186.6 1171.8L187.3 1171.1L188 1170.5L188.8 1169.8L189.5 1169.2L190.2 1168.6L191 1167.9L191.7 1167.3L192.4 1166.6L193.2 1166L193.9 1165.4L194.6 1164.7L195.4 1164.1L196.1 1163.4L196.8 1162.8L197.6 1162.2L198.3 1161.5L199 1160.9L199.8 1160.3L200.5 1159.6L201.2 1159L202 1158.4L202.7 1157.7L203.4 1157.1L204.2 1156.4L204.9 1155.8L205.6 1155.2L206.4 1154.5L207.1 1153.9L207.8 1153.3L208.6 1152.6L209.3 1152L210 1151.4L210.8 1150.7L211.5 1150.1L212.2 1149.5L213 1148.8L213.7 1148.2L214.4 1147.6L215.2 1147L215.9 1146.3L216.6 1145.7L217.4 1145.1L218.1 1144.4L218.8 1143.8L219.6 1143.2L220.3 1142.6L221 1141.9L221.8 1141.3L222.5 1140.7L223.3 1140.1L224 1139.4L224.7 1138.8L225.5 1138.2L226.2 1137.6L226.9 1137L227.7 1136.3L228.4 1135.7L229.1 1135.1L229.9 1134.5L230.6 1133.9L231.3 1133.2L232.1 1132.6L232.8 1132L233.5 1131.4L234.3 1130.8L235 1130.2L235.7 1129.5L236.5 1128.9L237.2 1128.3L237.9 1127.7L238.7 1127.1L239.4 1126.5L240.1 1125.9L240.9 1125.3L241.6 1124.7L242.3 1124.1L243.1 1123.5L243.8 1122.8L244.5 1122.2L245.3 1121.6L246 1121L246.7 1120.4L247.5 1119.8L248.2 1119.2L248.9 1118.6L249.7 1118L250.4 1117.4L251.1 1116.8L251.9 1116.3L252.6 1115.7L253.3 1115.1L254.1 1114.5L254.8 1113.9L255.5 1113.3L256.3 1112.7L257 1112.1L257.7 1111.5L258.5 1110.9L259.2 1110.4L259.9 1109.8L260.7 1109.2L261.4 1108.6L262.1 1108L262.9 1107.5L263.6 1106.9L264.3 1106.3L265.1 1105.7L265.8 1105.1L266.5 1104.6L267.3 1104L268 1103.4L268.7 1102.9L269.5 1102.3L270.2 1101.7L270.9 1101.2L271.7 1100.6L272.4 1100L273.1 1099.5L273.9 1098.9L274.6 1098.3L275.3 1097.8L276.1 1097.2L276.8 1096.7L277.5 1096.1L278.3 1095.6L279 1095L279.7 1094.5L280.5 1093.9L281.2 1093.4L281.9 1092.8L282.7 1092.3L283.4 1091.7L284.1 1091.2L284.9 1090.7L285.6 1090.1L286.3 1089.6L287.1 1089L287.8 1088.5L288.5 1088L289.3 1087.4L290 1086.9L290.7 1086.4L291.5 1085.9L292.2 1085.3L292.9 1084.8L293.7 1084.3L294.4 1083.8L295.1 1083.3L295.9 1082.7L296.6 1082.2L297.3 1081.7L298.1 1081.2L298.8 1080.7L299.5 1080.2L300.3 1079.7L301 1079.2L301.7 1078.7L302.5 1078.2L303.2 1077.7L303.9 1077.2L304.7 1076.7L305.4 1076.2L306.1 1075.7L306.9 1075.2L307.6 1074.7L308.3 1074.2L309.1 1073.7L309.8 1073.3L310.6 1072.8L311.3 1072.3L312 1071.8L312.8 1071.4L313.5 1070.9L314.2 1070.4L315 1069.9L315.7 1069.5L316.4 1069L317.2 1068.6L317.9 1068.1L318.6 1067.6L319.4 1067.2L320.1 1066.7L320.8 1066.3L321.6 1065.8L322.3 1065.4L323 1064.9L323.8 1064.5L324.5 1064.1L325.2 1063.6L326 1063.2L326.7 1062.8L327.4 1062.3L328.2 1061.9L328.9 1061.5L329.6 1061L330.4 1060.6L331.1 1060.2L331.8 1059.8L332.6 1059.4L333.3 1059L334 1058.5L334.8 1058.1L335.5 1057.7L336.2 1057.3L337 1056.9L337.7 1056.5L338.4 1056.1L339.2 1055.7L339.9 1055.4L340.6 1055L341.4 1054.6L342.1 1054.2L342.8 1053.8L343.6 1053.4L344.3 1053.1L345 1052.7L345.8 1052.3L346.5 1052L347.2 1051.6L348 1051.2L348.7 1050.9L349.4 1050.5L350.2 1050.2L350.9 1049.8L351.6 1049.5L352.4 1049.1L353.1 1048.8L353.8 1048.4L354.6 1048.1L355.3 1047.8L356 1047.4L356.8 1047.1L357.5 1046.8L358.2 1046.5L359 1046.1L359.7 1045.8L360.4 1045.5L361.2 1045.2L361.9 1044.9L362.6 1044.6L363.4 1044.3L364.1 1044L364.8 1043.7L365.6 1043.4L366.3 1043.1L367 1042.8L367.8 1042.5L368.5 1042.3L369.2 1042L370 1041.7L370.7 1041.4L371.4 1041.2L372.2 1040.9L372.9 1040.6L373.6 1040.4L374.4 1040.1L375.1 1039.9L375.8 1039.6L376.6 1039.4L377.3 1039.1L378 1038.9L378.8 1038.7L379.5 1038.4L380.2 1038.2L381 1038L381.7 1037.8L382.4 1037.5L383.2 1037.3L383.9 1037.1L384.6 1036.9L385.4 1036.7L386.1 1036.5L386.8 1036.3L387.6 1036.1L388.3 1035.9L389 1035.7L389.8 1035.5L390.5 1035.3L391.2 1035.2L392 1035L392.7 1034.8L393.4 1034.6L394.2 1034.5L394.9 1034.3L395.6 1034.2L396.4 1034L397.1 1033.9L397.8 1033.7L398.6 1033.6L399.3 1033.4L400.1 1033.3L400.8 1033.2L401.5 1033L402.3 1032.9L403 1032.8L403.7 1032.7L404.5 1032.6L405.2 1032.4L405.9 1032.3L406.7 1032.2L407.4 1032.1L408.1 1032L408.9 1031.9L409.6 1031.9L410.3 1031.8L411.1 1031.7L411.8 1031.6L412.5 1031.5L413.3 1031.5L414 1031.4L414.7 1031.3L415.5 1031.3L416.2 1031.2L416.9 1031.2L417.7 1031.1L418.4 1031.1L419.1 1031.1L419.9 1031L420.6 1031L421.3 1031L422.1 1030.9L422.8 1030.9L423.5 1030.9L424.3 1030.9L425 1030.9L425.7 1030.9L426.5 1030.9L427.2 1030.9L427.9 1030.9L428.7 1030.9L429.4 1030.9L430.1 1031L430.9 1031L431.6 1031L432.3 1031L433.1 1031.1L433.8 1031.1L434.5 1031.2L435.3 1031.2L436 1031.3L436.7 1031.3L437.5 1031.4L438.2 1031.5L438.9 1031.5L439.7 1031.6L440.4 1031.7L441.1 1031.8L441.9 1031.8L442.6 1031.9L443.3 1032L444.1 1032.1L444.8 1032.2L445.5 1032.3L446.3 1032.4L447 1032.6L447.7 1032.7L448.5 1032.8L449.2 1032.9L449.9 1033.1L450.7 1033.2L451.4 1033.3L452.1 1033.5L452.9 1033.6L453.6 1033.8L454.3 1033.9L455.1 1034.1L455.8 1034.3L456.5 1034.4L457.3 1034.6L458 1034.8L458.7 1035L459.5 1035.2L460.2 1035.3L460.9 1035.5L461.7 1035.7L462.4 1035.9L463.1 1036.2L463.9 1036.4L464.6 1036.6L465.3 1036.8L466.1 1037L466.8 1037.3L467.5 1037.5L468.3 1037.7L469 1038L469.7 1038.2L470.5 1038.5L471.2 1038.7L471.9 1039L472.7 1039.2L473.4 1039.5L474.1 1039.8L474.9 1040.1L475.6 1040.3L476.3 1040.6L477.1 1040.9L477.8 1041.2L478.5 1041.5L479.3 1041.8L480 1042.1L480.7 1042.4L481.5 1042.7L482.2 1043L482.9 1043.4L483.7 1043.7L484.4 1044L485.1 1044.4L485.9 1044.7L486.6 1045L487.4 1045.4L488.1 1045.7L488.8 1046.1L489.6 1046.5L490.3 1046.8L491 1047.2L491.8 1047.6L492.5 1047.9L493.2 1048.3L494 1048.7L494.7 1049.1L495.4 1049.5L496.2 1049.9L496.9 1050.3L497.6 1050.7L498.4 1051.1L499.1 1051.5L499.8 1052L500.6 1052.4L501.3 1052.8L502 1053.3L502.8 1053.7L503.5 1054.1L504.2 1054.6L505 1055L505.7 1055.5L506.4 1055.9L507.2 1056.4L507.9 1056.9L508.6 1057.3L509.4 1057.8L510.1 1058.3L510.8 1058.8L511.6 1059.3L512.3 1059.8L513 1060.3L513.8 1060.8L514.5 1061.3L515.2 1061.8L516 1062.3L516.7 1062.8L517.4 1063.3L518.2 1063.8L518.9 1064.4L519.6 1064.9L520.4 1065.4L521.1 1066L521.8 1066.5L522.6 1067.1L523.3 1067.6L524 1068.2L524.8 1068.7L525.5 1069.3L526.2 1069.9L527 1070.5L527.7 1071L528.4 1071.6L529.2 1072.2L529.9 1072.8L530.6 1073.4L531.4 1074L532.1 1074.6L532.8 1075.2L533.6 1075.8L534.3 1076.4L535 1077L535.8 1077.7L536.5 1078.3L537.2 1078.9L538 1079.6L538.7 1080.2L539.4 1080.8L540.2 1081.5L540.9 1082.1L541.6 1082.8L542.4 1083.4L543.1 1084.1L543.8 1084.8L544.6 1085.4L545.3 1086.1L546 1086.8L546.8 1087.5L547.5 1088.2L548.2 1088.9L549 1089.5L549.7 1090.2L550.4 1090.9L551.2 1091.7L551.9 1092.4L552.6 1093.1L553.4 1093.8L554.1 1094.5L554.8 1095.2L555.6 1096L556.3 1096.7L557 1097.4L557.8 1098.2L558.5 1098.9L559.2 1099.7L560 1100.4L560.7 1101.2L561.4 1101.9L562.2 1102.7L562.9 1103.5L563.6 1104.3L564.4 1105L565.1 1105.8L565.8 1106.6L566.6 1107.4L567.3 1108.2L568 1109L568.8 1109.8L569.5 1110.6L570.2 1111.4L571 1112.2L571.7 1113L572.4 1113.8L573.2 1114.7L573.9 1115.5L574.7 1116.3L575.4 1117.2L576.1 1118L576.9 1118.9L577.6 1119.7L578.3 1120.6L579.1 1121.4L579.8 1122.3L580.5 1123.2L581.3 1124L582 1124.9L582.7 1125.8L583.5 1126.7L584.2 1127.6L584.9 1128.5L585.7 1129.4L586.4 1130.3L587.1 1131.2L587.9 1132.1L588.6 1133L589.3 1133.9L590.1 1134.9L590.8 1135.8L591.5 1136.8L592.3 1137.7L593 1138.7L593.7 1139.6L594.5 1140.6L595.2 1141.5L595.9 1142.5L596.7 1143.5L597.4 1144.5L598.1 1145.5L598.9 1146.5L599.6 1147.5L600.3 1148.5L601.1 1149.5L601.8 1150.6L602.5 1151.6L603.3 1152.7L604 1153.7L604.7 1154.8L605.5 1155.9L606.2 1157L606.9 1158.1L607.7 1159.2L608.4 1160.3L609.1 1161.5L609.9 1162.6L610.6 1163.8L611.3 1165L612.1 1166.2L612.8 1167.5L613.5 1168.7L614.3 1170L615 1171.4L615.7 1172.8L616.5 1174.2L617.2 1175.8L617.9 1177.6L618.7 1180L619.4 1181.8L620.1 1183.4L620.9 1184.8L621.6 1186.2L622.3 1187.6L623.1 1188.9L623.8 1190.1L624.5 1191.4L625.3 1192.6L626 1193.8L626.7 1195L627.5 1196.1L628.2 1197.3L628.9 1198.4L629.7 1199.5L630.4 1200.6L631.1 1201.7L631.9 1202.8L632.6 1203.9L633.3 1204.9L634.1 1206L634.8 1207L635.5 1208.1L636.3 1209.1L637 1210.1L637.7 1211.1L638.5 1212.1L639.2 1213.1L639.9 1214.1L640.7 1215.1L641.4 1216.1L642.1 1217L642.9 1218L643.6 1218.9L644.3 1219.9L645.1 1220.8L645.8 1221.8L646.5 1222.7L647.3 1223.7L648 1224.6L648.7 1225.5L649.5 1226.4L650.2 1227.3L650.9 1228.2L651.7 1229.1L652.4 1230L653.1 1230.9L653.9 1231.8L654.6 1232.7L655.3 1233.6L656.1 1234.4L656.8 1235.3L657.5 1236.2L658.3 1237L659 1237.9L659.7 1238.7L660.5 1239.6L661.2 1240.4L661.9 1241.3L662.7 1242.1L663.4 1242.9L664.2 1243.8L664.9 1244.6L665.6 1245.4L666.4 1246.2L667.1 1247L667.8 1247.8L668.6 1248.6L669.3 1249.4L670 1250.2L670.8 1251L671.5 1251.8L672.2 1252.6L673 1253.3L673.7 1254.1L674.4 1254.9L675.2 1255.7L675.9 1256.4L676.6 1257.2L677.4 1257.9L678.1 1258.7L678.8 1259.4L679.6 1260.2L680.3 1260.9L681 1261.6L681.8 1262.4L682.5 1263.1L683.2 1263.8L684 1264.5L684.7 1265.2L685.4 1265.9L686.2 1266.7L686.9 1267.4L687.6 1268.1L688.4 1268.7L689.1 1269.4L689.8 1270.1L690.6 1270.8L691.3 1271.5L692 1272.2L692.8 1272.8L693.5 1273.5L694.2 1274.2L695 1274.8L695.7 1275.5L696.4 1276.1L697.2 1276.8L697.9 1277.4L698.6 1278L699.4 1278.7L700.1 1279.3L700.8 1279.9L701.6 1280.6L702.3 1281.2L703 1281.8L703.8 1282.4L704.5 1283L705.2 1283.6L706 1284.2L706.7 1284.8L707.4 1285.4L708.2 1286L708.9 1286.6L709.6 1287.1L710.4 1287.7L711.1 1288.3L711.8 1288.9L712.6 1289.4L713.3 1290L714 1290.5L714.8 1291.1L715.5 1291.6L716.2 1292.2L717 1292.7L717.7 1293.2L718.4 1293.8L719.2 1294.3L719.9 1294.8L720.6 1295.3L721.4 1295.8L722.1 1296.3L722.8 1296.8L723.6 1297.3L724.3 1297.8L725 1298.3L725.8 1298.8L726.5 1299.3L727.2 1299.8L728 1300.3L728.7 1300.7L729.4 1301.2L730.2 1301.7L730.9 1302.1L731.6 1302.6L732.4 1303L733.1 1303.5L733.8 1303.9L734.6 1304.3L735.3 1304.8L736 1305.2L736.8 1305.6L737.5 1306.1L738.2 1306.5L739 1306.9L739.7 1307.3L740.4 1307.7L741.2 1308.1L741.9 1308.5L742.6 1308.9L743.4 1309.3L744.1 1309.7L744.8 1310L745.6 1310.4L746.3 1310.8L747 1311.1L747.8 1311.5L748.5 1311.9L749.2 1312.2L750 1312.6L750.7 1312.9L751.5 1313.2L752.2 1313.6L752.9 1313.9L753.7 1314.2L754.4 1314.6L755.1 1314.9L755.9 1315.2L756.6 1315.5L757.3 1315.8L758.1 1316.1L758.8 1316.4L759.5 1316.7L760.3 1317L761 1317.3L761.7 1317.5L762.5 1317.8L763.2 1318.1L763.9 1318.4L764.7 1318.6L765.4 1318.9L766.1 1319.1L766.9 1319.4L767.6 1319.6L768.3 1319.9L769.1 1320.1L769.8 1320.3L770.5 1320.6L771.3 1320.8L772 1321L772.7 1321.2L773.5 1321.4L774.2 1321.7L774.9 1321.9L775.7 1322.1L776.4 1322.3L777.1 1322.4L777.9 1322.6L778.6 1322.8L779.3 1323L780.1 1323.2L780.8 1323.3L781.5 1323.5L782.3 1323.7L783 1323.8L783.7 1324L784.5 1324.1L785.2 1324.3L785.9 1324.4L786.7 1324.5L787.4 1324.7L788.1 1324.8L788.9 1324.9L789.6 1325L790.3 1325.2L791.1 1325.3L791.8 1325.4L792.5 1325.5L793.3 1325.6L794 1325.7L794.7 1325.8L795.5 1325.8L796.2 1325.9L796.9 1326L797.7 1326.1L798.4 1326.1L799.1 1326.2L799.9 1326.3L800.6 1326.3L801.3 1326.4L802.1 1326.4L802.8 1326.5L803.5 1326.5L804.3 1326.6L805 1326.6L805.7 1326.6L806.5 1326.6L807.2 1326.7L807.9 1326.7L808.7 1326.7L809.4 1326.7L810.1 1326.7L810.9 1326.7L811.6 1326.7L812.3 1326.7L813.1 1326.7L813.8 1326.7L814.5 1326.7L815.3 1326.6L816 1326.6L816.7 1326.6L817.5 1326.5L818.2 1326.5L818.9 1326.5L819.7 1326.4L820.4 1326.4L821.1 1326.3L821.9 1326.3L822.6 1326.2L823.3 1326.1L824.1 1326.1L824.8 1326L825.5 1325.9L826.3 1325.8L827 1325.7L827.7 1325.7L828.5 1325.6L829.2 1325.5L829.9 1325.4L830.7 1325.3L831.4 1325.2L832.1 1325L832.9 1324.9L833.6 1324.8L834.3 1324.7L835.1 1324.6L835.8 1324.4L836.5 1324.3L837.3 1324.2L838 1324L838.8 1323.9L839.5 1323.7L840.2 1323.6L841 1323.4L841.7 1323.3L842.4 1323.1L843.2 1323L843.9 1322.8L844.6 1322.6L845.4 1322.4L846.1 1322.3L846.8 1322.1L847.6 1321.9L848.3 1321.7L849 1321.5L849.8 1321.3L850.5 1321.1L851.2 1320.9L852 1320.7L852.7 1320.5L853.4 1320.3L854.2 1320.1L854.9 1319.8L855.6 1319.6L856.4 1319.4L857.1 1319.2L857.8 1318.9L858.6 1318.7L859.3 1318.5L860 1318.2L860.8 1318L861.5 1317.7L862.2 1317.5L863 1317.2L863.7 1317L864.4 1316.7L865.2 1316.4L865.9 1316.2L866.6 1315.9L867.4 1315.6L868.1 1315.3L868.8 1315.1L869.6 1314.8L870.3 1314.5L871 1314.2L871.8 1313.9L872.5 1313.6L873.2 1313.3L874 1313L874.7 1312.7L875.4 1312.4L876.2 1312.1L876.9 1311.8L877.6 1311.5L878.4 1311.1L879.1 1310.8L879.8 1310.5L880.6 1310.2L881.3 1309.8L882 1309.5L882.8 1309.2L883.5 1308.8L884.2 1308.5L885 1308.1L885.7 1307.8L886.4 1307.4L887.2 1307.1L887.9 1306.7L888.6 1306.4L889.4 1306L890.1 1305.6L890.8 1305.3L891.6 1304.9L892.3 1304.5L893 1304.2L893.8 1303.8L894.5 1303.4L895.2 1303L896 1302.6L896.7 1302.2L897.4 1301.9L898.2 1301.5L898.9 1301.1L899.6 1300.7L900.4 1300.3L901.1 1299.9L901.8 1299.5L902.6 1299.1L903.3 1298.6L904 1298.2L904.8 1297.8L905.5 1297.4L906.2 1297L907 1296.6L907.7 1296.1L908.4 1295.7L909.2 1295.3L909.9 1294.8L910.6 1294.4L911.4 1294L912.1 1293.5L912.8 1293.1L913.6 1292.7L914.3 1292.2L915 1291.8L915.8 1291.3L916.5 1290.9L917.2 1290.4L918 1290L918.7 1289.5L919.4 1289L920.2 1288.6L920.9 1288.1L921.6 1287.7L922.4 1287.2L923.1 1286.7L923.8 1286.2L924.6 1285.8L925.3 1285.3L926 1284.8L926.8 1284.3L927.5 1283.9L928.3 1283.4L929 1282.9L929.7 1282.4L930.5 1281.9L931.2 1281.4L931.9 1280.9L932.7 1280.4L933.4 1279.9L934.1 1279.4L934.9 1278.9L935.6 1278.4L936.3 1277.9L937.1 1277.4L937.8 1276.9L938.5 1276.4L939.3 1275.9L940 1275.4L940.7 1274.9L941.5 1274.3L942.2 1273.8L942.9 1273.3L943.7 1272.8L944.4 1272.3L945.1 1271.7L945.9 1271.2L946.6 1270.7L947.3 1270.2L948.1 1269.6L948.8 1269.1L949.5 1268.6L950.3 1268L951 1267.5L951.7 1266.9L952.5 1266.4L953.2 1265.9L953.9 1265.3L954.7 1264.8L955.4 1264.2L956.1 1263.7L956.9 1263.1L957.6 1262.6L958.3 1262L959.1 1261.5L959.8 1260.9L960.5 1260.4L961.3 1259.8L962 1259.3L962.7 1258.7L963.5 1258.1L964.2 1257.6L964.9 1257L965.7 1256.4L966.4 1255.9L967.1 1255.3L967.9 1254.7L968.6 1254.2L969.3 1253.6L970.1 1253L970.8 1252.5L971.5 1251.9L972.3 1251.3L973 1250.7L973.7 1250.1L974.5 1249.6L975.2 1249L975.9 1248.4L976.7 1247.8L977.4 1247.2L978.1 1246.7L978.9 1246.1L979.6 1245.5L980.3 1244.9L981.1 1244.3L981.8 1243.7L982.5 1243.1L983.3 1242.5L984 1241.9L984.7 1241.3L985.5 1240.8L986.2 1240.2L986.9 1239.6L987.7 1239L988.4 1238.4L989.1 1237.8L989.9 1237.2L990.6 1236.6L991.3 1236L992.1 1235.4L992.8 1234.8L993.5 1234.1L994.3 1233.5L995 1232.9L995.7 1232.3L996.5 1231.7L997.2 1231.1L997.9 1230.5L998.7 1229.9L999.4 1229.3L1000.1 1228.7L1000.9 1228.1L1001.6 1227.4L1002.3 1226.8L1003.1 1226.2L1003.8 1225.6L1004.5 1225L1005.3 1224.4L1006 1223.7L1006.7 1223.1L1007.5 1222.5L1008.2 1221.9L1008.9 1221.3L1009.7 1220.6L1010.4 1220L1011.1 1219.4L1011.9 1218.8L1012.6 1218.2L1013.3 1217.5L1014.1 1216.9L1014.8 1216.3L1015.6 1215.7L1016.3 1215L1017 1214.4L1017.8 1213.8L1018.5 1213.2L1019.2 1212.5L1020 1211.9L1020.7 1211.3L1021.4 1210.6L1022.2 1210L1022.9 1209.4L1023.6 1208.8L1024.4 1208.1L1025.1 1207.5L1025.8 1206.9L1026.6 1206.2L1027.3 1205.6L1028 1205L1028.8 1204.3L1029.5 1203.7L1030.2 1203.1L1031 1202.4L1031.7 1201.8L1032.4 1201.2L1033.2 1200.5L1033.9 1199.9L1034.6 1199.2L1035.4 1198.6L1036.1 1198L1036.8 1197.3L1037.6 1196.7L1038.3 1196.1L1039 1195.4L1039.8 1194.8L1040.5 1194.2L1041.2 1193.5L1042 1192.9L1042.7 1192.2L1043.4 1191.6L1044.2 1191L1044.9 1190.3L1045.6 1189.7L1046.4 1189L1047.1 1188.4L1047.8 1187.8L1048.6 1187.1L1049.3 1186.5L1050 1185.8L1050.8 1185.2L1051.5 1184.6L1052.2 1183.9L1053 1183.3L1053.7 1182.6L1054.4 1182L1055.2 1181.4L1055.9 1180.7L1056.6 1180.1L1057.4 1179.4L1058.1 1178.8" fill="none" stroke="#000000" stroke-width="8.5" stroke-linejoin="round"/>
<path d="M178.5 1178.8L179.2 1178L180 1177.2L180.7 1176.3L181.4 1175.5L182.2 1174.7L182.9 1173.9L183.6 1173.1L184.4 1172.2L185.1 1171.4L185.8 1170.6L186.6 1169.8L187.3 1169L188 1168.1L188.8 1167.3L189.5 1166.5L190.2 1165.7L191 1164.9L191.7 1164.1L192.4 1163.2L193.2 1162.4L193.9 1161.6L194.6 1160.8L195.4 1160L196.1 1159.1L196.8 1158.3L197.6 1157.5L198.3 1156.7L199 1155.9L199.8 1155.1L200.5 1154.2L201.2 1153.4L202 1152.6L202.7 1151.8L203.4 1151L204.2 1150.1L204.9 1149.3L205.6 1148.5L206.4 1147.7L207.1 1146.9L207.8 1146.1L208.6 1145.2L209.3 1144.4L210 1143.6L210.8 1142.8L211.5 1142L212.2 1141.2L213 1140.4L213.7 1139.5L214.4 1138.7L215.2 1137.9L215.9 1137.1L216.6 1136.3L217.4 1135.5L218.1 1134.7L218.8 1133.8L219.6 1133L220.3 1132.2L221 1131.4L221.8 1130.6L222.5 1129.8L223.3 1129L224 1128.2L224.7 1127.4L225.5 1126.5L226.2 1125.7L226.9 1124.9L227.7 1124.1L228.4 1123.3L229.1 1122.5L229.9 1121.7L230.6 1120.9L231.3 1120.1L232.1 1119.3L232.8 1118.4L233.5 1117.6L234.3 1116.8L235 1116L235.7 1115.2L236.5 1114.4L237.2 1113.6L237.9 1112.8L238.7 1112L239.4 1111.2L240.1 1110.4L240.9 1109.6L241.6 1108.8L242.3 1108L243.1 1107.2L243.8 1106.4L244.5 1105.6L245.3 1104.8L246 1104L246.7 1103.2L247.5 1102.4L248.2 1101.6L248.9 1100.8L249.7 1100L250.4 1099.2L251.1 1098.4L251.9 1097.6L252.6 1096.8L253.3 1096L254.1 1095.2L254.8 1094.4L255.5 1093.6L256.3 1092.8L257 1092L257.7 1091.2L258.5 1090.4L259.2 1089.6L259.9 1088.8L260.7 1088L261.4 1087.2L262.1 1086.5L262.9 1085.7L263.6 1084.9L264.3 1084.1L265.1 1083.3L265.8 1082.5L266.5 1081.7L267.3 1080.9L268 1080.2L268.7 1079.4L269.5 1078.6L270.2 1077.8L270.9 1077L271.7 1076.2L272.4 1075.4L273.1 1074.7L273.9 1073.9L274.6 1073.1L275.3 1072.3L276.1 1071.5L276.8 1070.8L277.5 1070L278.3 1069.2L279 1068.4L279.7 1067.6L280.5 1066.9L281.2 1066.1L281.9 1065.3L282.7 1064.5L283.4 1063.8L284.1 1063L284.9 1062.2L285.6 1061.5L286.3 1060.7L287.1 1059.9L287.8 1059.1L288.5 1058.4L289.3 1057.6L290 1056.8L290.7 1056.1L291.5 1055.3L292.2 1054.5L292.9 1053.8L293.7 1053L294.4 1052.2L295.1 1051.5L295.9 1050.7L296.6 1050L297.3 1049.2L298.1 1048.4L298.8 1047.7L299.5 1046.9L300.3 1046.2L301 1045.4L301.7 1044.7L302.5 1043.9L303.2 1043.2L303.9 1042.4L304.7 1041.6L305.4 1040.9L306.1 1040.1L306.9 1039.4L307.6 1038.6L308.3 1037.9L309.1 1037.2L309.8 1036.4L310.6 1035.7L311.3 1034.9L312 1034.2L312.8 1033.4L313.5 1032.7L314.2 1032L315 1031.2L315.7 1030.5L316.4 1029.7L317.2 1029L317.9 1028.3L318.6 1027.5L319.4 1026.8L320.1 1026.1L320.8 1025.3L321.6 1024.6L322.3 1023.9L323 1023.1L323.8 1022.4L324.5 1021.7L325.2 1021L326 1020.2L326.7 1019.5L327.4 1018.8L328.2 1018.1L328.9 1017.4L329.6 1016.6L330.4 1015.9L331.1 1015.2L331.8 1014.5L332.6 1013.8L333.3 1013.1L334 1012.3L334.8 1011.6L335.5 1010.9L336.2 1010.2L337 1009.5L337.7 1008.8L338.4 1008.1L339.2 1007.4L339.9 1006.7L340.6 1006L341.4 1005.3L342.1 1004.6L342.8 1003.9L343.6 1003.2L344.3 1002.5L345 1001.8L345.8 1001.1L346.5 1000.4L347.2 999.7L348 999L348.7 998.3L349.4 997.7L350.2 997L350.9 996.3L351.6 995.6L352.4 994.9L353.1 994.2L353.8 993.6L354.6 992.9L355.3 992.2L356 991.5L356.8 990.9L357.5 990.2L358.2 989.5L359 988.8L359.7 988.2L360.4 987.5L361.2 986.9L361.9 986.2L362.6 985.5L363.4 984.9L364.1 984.2L364.8 983.6L365.6 982.9L366.3 982.2L367 981.6L367.8 980.9L368.5 980.3L369.2 979.6L370 979L370.7 978.4L371.4 977.7L372.2 977.1L372.9 976.4L373.6 975.8L374.4 975.2L375.1 974.5L375.8 973.9L376.6 973.3L377.3 972.6L378 972L378.8 971.4L379.5 970.8L380.2 970.1L381 969.5L381.7 968.9L382.4 968.3L383.2 967.7L383.9 967.1L384.6 966.5L385.4 965.9L386.1 965.2L386.8 964.6L387.6 964L388.3 963.4L389 962.8L389.8 962.2L390.5 961.7L391.2 961.1L392 960.5L392.7 959.9L393.4 959.3L394.2 958.7L394.9 958.1L395.6 957.6L396.4 957L397.1 956.4L397.8 955.8L398.6 955.3L399.3 954.7L400.1 954.1L400.8 953.6L401.5 953L402.3 952.4L403 951.9L403.7 951.3L404.5 950.8L405.2 950.2L405.9 949.7L406.7 949.1L407.4 948.6L408.1 948.1L408.9 947.5L409.6 947L410.3 946.5L411.1 945.9L411.8 945.4L412.5 944.9L413.3 944.4L414 943.9L414.7 943.3L415.5 942.8L416.2 942.3L416.9 941.8L417.7 941.3L418.4 940.8L419.1 940.3L419.9 939.8L420.6 939.3L421.3 938.8L422.1 938.3L422.8 937.9L423.5 937.4L424.3 936.9L425 936.4L425.7 936L426.5 935.5L427.2 935L427.9 934.6L428.7 934.1L429.4 933.7L430.1 933.2L430.9 932.8L431.6 932.3L432.3 931.9L433.1 931.4L433.8 931L434.5 930.6L435.3 930.2L436 929.7L436.7 929.3L437.5 928.9L438.2 928.5L438.9 928.1L439.7 927.7L440.4 927.3L441.1 926.9L441.9 926.5L442.6 926.1L443.3 925.7L444.1 925.4L444.8 925L445.5 924.6L446.3 924.2L447 923.9L447.7 923.5L448.5 923.2L449.2 922.8L449.9 922.5L450.7 922.1L451.4 921.8L452.1 921.5L452.9 921.2L453.6 920.8L454.3 920.5L455.1 920.2L455.8 919.9L456.5 919.6L457.3 919.3L458 919L458.7 918.7L459.5 918.5L460.2 918.2L460.9 917.9L461.7 917.7L462.4 917.4L463.1 917.1L463.9 916.9L464.6 916.7L465.3 916.4L466.1 916.2L466.8 916L467.5 915.7L468.3 915.5L469 915.3L469.7 915.1L470.5 914.9L471.2 914.8L471.9 914.6L472.7 914.4L473.4 914.2L474.1 914.1L474.9 913.9L475.6 913.8L476.3 913.6L477.1 913.5L477.8 913.4L478.5 913.3L479.3 913.2L480 913L480.7 913L481.5 912.9L482.2 912.8L482.9 912.7L483.7 912.6L484.4 912.6L485.1 912.5L485.9 912.5L486.6 912.5L487.4 912.4L488.1 912.4L488.8 912.4L489.6 912.4L490.3 912.4L491 912.5L491.8 912.5L492.5 912.5L493.2 912.6L494 912.6L494.7 912.7L495.4 912.8L496.2 912.8L496.9 912.9L497.6 913L498.4 913.2L499.1 913.3L499.8 913.4L500.6 913.6L501.3 913.7L502 913.9L502.8 914.1L503.5 914.3L504.2 914.5L505 914.7L505.7 914.9L506.4 915.1L507.2 915.4L507.9 915.6L508.6 915.9L509.4 916.2L510.1 916.5L510.8 916.8L511.6 917.1L512.3 917.5L513 917.8L513.8 918.2L514.5 918.6L515.2 918.9L516 919.3L516.7 919.8L517.4 920.2L518.2 920.6L518.9 921.1L519.6 921.6L520.4 922.1L521.1 922.6L521.8 923.1L522.6 923.6L523.3 924.2L524 924.7L524.8 925.3L525.5 925.9L526.2 926.5L527 927.2L527.7 927.8L528.4 928.5L529.2 929.2L529.9 929.9L530.6 930.6L531.4 931.3L532.1 932.1L532.8 932.8L533.6 933.6L534.3 934.4L535 935.3L535.8 936.1L536.5 937L537.2 937.9L538 938.8L538.7 939.7L539.4 940.6L540.2 941.6L540.9 942.6L541.6 943.6L542.4 944.6L543.1 945.7L543.8 946.7L544.6 947.8L545.3 948.9L546 950.1L546.8 951.2L547.5 952.4L548.2 953.6L549 954.8L549.7 956.1L550.4 957.4L551.2 958.6L551.9 960L552.6 961.3L553.4 962.7L554.1 964.1L554.8 965.5L555.6 966.9L556.3 968.4L557 969.9L557.8 971.4L558.5 972.9L559.2 974.5L560 976.1L560.7 977.7L561.4 979.3L562.2 981L562.9 982.7L563.6 984.4L564.4 986.1L565.1 987.9L565.8 989.7L566.6 991.5L567.3 993.4L568 995.3L568.8 997.2L569.5 999.1L570.2 1001.1L571 1003L571.7 1005.1L572.4 1007.1L573.2 1009.2L573.9 1011.2L574.7 1013.4L575.4 1015.5L576.1 1017.7L576.9 1019.9L577.6 1022.1L578.3 1024.4L579.1 1026.6L579.8 1028.9L580.5 1031.3L581.3 1033.6L582 1036L582.7 1038.4L583.5 1040.8L584.2 1043.3L584.9 1045.8L585.7 1048.3L586.4 1050.8L587.1 1053.4L587.9 1056L588.6 1058.6L589.3 1061.2L590.1 1063.9L590.8 1066.5L591.5 1069.2L592.3 1071.9L593 1074.7L593.7 1077.5L594.5 1080.2L595.2 1083L595.9 1085.9L596.7 1088.7L597.4 1091.6L598.1 1094.5L598.9 1097.4L599.6 1100.3L600.3 1103.2L601.1 1106.2L601.8 1109.1L602.5 1112.1L603.3 1115.1L604 1118.1L604.7 1121.2L605.5 1124.2L606.2 1127.3L606.9 1130.3L607.7 1133.4L608.4 1136.5L609.1 1139.6L609.9 1142.7L610.6 1145.8L611.3 1148.9L612.1 1152L612.8 1155.2L613.5 1158.3L614.3 1161.5L615 1164.6L615.7 1167.8L616.5 1170.9L617.2 1174.1L617.9 1177.2L618.7 1180.4L619.4 1183.5L620.1 1186.7L620.9 1189.8L621.6 1193L622.3 1196.1L623.1 1199.3L623.8 1202.4L624.5 1205.6L625.3 1208.7L626 1211.8L626.7 1214.9L627.5 1218L628.2 1221.1L628.9 1224.2L629.7 1227.3L630.4 1230.3L631.1 1233.4L631.9 1236.4L632.6 1239.5L633.3 1242.5L634.1 1245.5L634.8 1248.5L635.5 1251.4L636.3 1254.4L637 1257.3L637.7 1260.2L638.5 1263.1L639.2 1266L639.9 1268.9L640.7 1271.7L641.4 1274.6L642.1 1277.4L642.9 1280.1L643.6 1282.9L644.3 1285.7L645.1 1288.4L645.8 1291.1L646.5 1293.7L647.3 1296.4L648 1299L648.7 1301.6L649.5 1304.2L650.2 1306.8L650.9 1309.3L651.7 1311.8L652.4 1314.3L653.1 1316.8L653.9 1319.2L654.6 1321.6L655.3 1324L656.1 1326.3L656.8 1328.7L657.5 1331L658.3 1333.2L659 1335.5L659.7 1337.7L660.5 1339.9L661.2 1342.1L661.9 1344.2L662.7 1346.4L663.4 1348.4L664.2 1350.5L664.9 1352.5L665.6 1354.6L666.4 1356.5L667.1 1358.5L667.8 1360.4L668.6 1362.3L669.3 1364.2L670 1366.1L670.8 1367.9L671.5 1369.7L672.2 1371.5L673 1373.2L673.7 1374.9L674.4 1376.6L675.2 1378.3L675.9 1379.9L676.6 1381.5L677.4 1383.1L678.1 1384.7L678.8 1386.2L679.6 1387.7L680.3 1389.2L681 1390.7L681.8 1392.1L682.5 1393.5L683.2 1394.9L684 1396.3L684.7 1397.6L685.4 1399L686.2 1400.2L686.9 1401.5L687.6 1402.8L688.4 1404L689.1 1405.2L689.8 1406.4L690.6 1407.5L691.3 1408.7L692 1409.8L692.8 1410.9L693.5 1411.9L694.2 1413L695 1414L695.7 1415L696.4 1416L697.2 1417L697.9 1417.9L698.6 1418.8L699.4 1419.7L700.1 1420.6L700.8 1421.5L701.6 1422.3L702.3 1423.2L703 1424L703.8 1424.8L704.5 1425.5L705.2 1426.3L706 1427L706.7 1427.7L707.4 1428.4L708.2 1429.1L708.9 1429.8L709.6 1430.4L710.4 1431.1L711.1 1431.7L711.8 1432.3L712.6 1432.9L713.3 1433.4L714 1434L714.8 1434.5L715.5 1435L716.2 1435.5L717 1436L717.7 1436.5L718.4 1437L719.2 1437.4L719.9 1437.8L720.6 1438.3L721.4 1438.7L722.1 1439L722.8 1439.4L723.6 1439.8L724.3 1440.1L725 1440.5L725.8 1440.8L726.5 1441.1L727.2 1441.4L728 1441.7L728.7 1442L729.4 1442.2L730.2 1442.5L730.9 1442.7L731.6 1442.9L732.4 1443.1L733.1 1443.3L733.8 1443.5L734.6 1443.7L735.3 1443.9L736 1444L736.8 1444.2L737.5 1444.3L738.2 1444.4L739 1444.6L739.7 1444.7L740.4 1444.8L741.2 1444.8L741.9 1444.9L742.6 1445L743.4 1445L744.1 1445.1L744.8 1445.1L745.6 1445.1L746.3 1445.2L747 1445.2L747.8 1445.2L748.5 1445.2L749.2 1445.2L750 1445.1L750.7 1445.1L751.5 1445.1L752.2 1445L752.9 1445L753.7 1444.9L754.4 1444.8L755.1 1444.7L755.9 1444.6L756.6 1444.6L757.3 1444.4L758.1 1444.3L758.8 1444.2L759.5 1444.1L760.3 1444L761 1443.8L761.7 1443.7L762.5 1443.5L763.2 1443.4L763.9 1443.2L764.7 1443L765.4 1442.8L766.1 1442.7L766.9 1442.5L767.6 1442.3L768.3 1442.1L769.1 1441.9L769.8 1441.6L770.5 1441.4L771.3 1441.2L772 1440.9L772.7 1440.7L773.5 1440.5L774.2 1440.2L774.9 1439.9L775.7 1439.7L776.4 1439.4L777.1 1439.1L777.9 1438.9L778.6 1438.6L779.3 1438.3L780.1 1438L780.8 1437.7L781.5 1437.4L782.3 1437.1L783 1436.8L783.7 1436.4L784.5 1436.1L785.2 1435.8L785.9 1435.5L786.7 1435.1L787.4 1434.8L788.1 1434.4L788.9 1434.1L789.6 1433.7L790.3 1433.4L791.1 1433L791.8 1432.6L792.5 1432.2L793.3 1431.9L794 1431.5L794.7 1431.1L795.5 1430.7L796.2 1430.3L796.9 1429.9L797.7 1429.5L798.4 1429.1L799.1 1428.7L799.9 1428.3L800.6 1427.9L801.3 1427.4L802.1 1427L802.8 1426.6L803.5 1426.2L804.3 1425.7L805 1425.3L805.7 1424.8L806.5 1424.4L807.2 1423.9L807.9 1423.5L808.7 1423L809.4 1422.6L810.1 1422.1L810.9 1421.6L811.6 1421.2L812.3 1420.7L813.1 1420.2L813.8 1419.7L814.5 1419.3L815.3 1418.8L816 1418.3L816.7 1417.8L817.5 1417.3L818.2 1416.8L818.9 1416.3L819.7 1415.8L820.4 1415.3L821.1 1414.8L821.9 1414.3L822.6 1413.7L823.3 1413.2L824.1 1412.7L824.8 1412.2L825.5 1411.7L826.3 1411.1L827 1410.6L827.7 1410.1L828.5 1409.5L829.2 1409L829.9 1408.5L830.7 1407.9L831.4 1407.4L832.1 1406.8L832.9 1406.3L833.6 1405.7L834.3 1405.2L835.1 1404.6L835.8 1404L836.5 1403.5L837.3 1402.9L838 1402.3L838.8 1401.8L839.5 1401.2L840.2 1400.6L841 1400L841.7 1399.5L842.4 1398.9L843.2 1398.3L843.9 1397.7L844.6 1397.1L845.4 1396.5L846.1 1395.9L846.8 1395.4L847.6 1394.8L848.3 1394.2L849 1393.6L849.8 1393L850.5 1392.4L851.2 1391.7L852 1391.1L852.7 1390.5L853.4 1389.9L854.2 1389.3L854.9 1388.7L855.6 1388.1L856.4 1387.5L857.1 1386.8L857.8 1386.2L858.6 1385.6L859.3 1385L860 1384.3L860.8 1383.7L861.5 1383.1L862.2 1382.4L863 1381.8L863.7 1381.2L864.4 1380.5L865.2 1379.9L865.9 1379.2L866.6 1378.6L867.4 1378L868.1 1377.3L868.8 1376.7L869.6 1376L870.3 1375.4L871 1374.7L871.8 1374L872.5 1373.4L873.2 1372.7L874 1372.1L874.7 1371.4L875.4 1370.7L876.2 1370.1L876.9 1369.4L877.6 1368.8L878.4 1368.1L879.1 1367.4L879.8 1366.7L880.6 1366.1L881.3 1365.4L882 1364.7L882.8 1364L883.5 1363.4L884.2 1362.7L885 1362L885.7 1361.3L886.4 1360.6L887.2 1359.9L887.9 1359.3L888.6 1358.6L889.4 1357.9L890.1 1357.2L890.8 1356.5L891.6 1355.8L892.3 1355.1L893 1354.4L893.8 1353.7L894.5 1353L895.2 1352.3L896 1351.6L896.7 1350.9L897.4 1350.2L898.2 1349.5L898.9 1348.8L899.6 1348.1L900.4 1347.4L901.1 1346.7L901.8 1346L902.6 1345.3L903.3 1344.5L904 1343.8L904.8 1343.1L905.5 1342.4L906.2 1341.7L907 1341L907.7 1340.2L908.4 1339.5L909.2 1338.8L909.9 1338.1L910.6 1337.4L911.4 1336.6L912.1 1335.9L912.8 1335.2L913.6 1334.5L914.3 1333.7L915 1333L915.8 1332.3L916.5 1331.5L917.2 1330.8L918 1330.1L918.7 1329.3L919.4 1328.6L920.2 1327.9L920.9 1327.1L921.6 1326.4L922.4 1325.6L923.1 1324.9L923.8 1324.2L924.6 1323.4L925.3 1322.7L926 1321.9L926.8 1321.2L927.5 1320.4L928.3 1319.7L929 1319L929.7 1318.2L930.5 1317.5L931.2 1316.7L931.9 1316L932.7 1315.2L933.4 1314.4L934.1 1313.7L934.9 1312.9L935.6 1312.2L936.3 1311.4L937.1 1310.7L937.8 1309.9L938.5 1309.2L939.3 1308.4L940 1307.6L940.7 1306.9L941.5 1306.1L942.2 1305.4L942.9 1304.6L943.7 1303.8L944.4 1303.1L945.1 1302.3L945.9 1301.5L946.6 1300.8L947.3 1300L948.1 1299.2L948.8 1298.5L949.5 1297.7L950.3 1296.9L951 1296.1L951.7 1295.4L952.5 1294.6L953.2 1293.8L953.9 1293.1L954.7 1292.3L955.4 1291.5L956.1 1290.7L956.9 1290L957.6 1289.2L958.3 1288.4L959.1 1287.6L959.8 1286.8L960.5 1286.1L961.3 1285.3L962 1284.5L962.7 1283.7L963.5 1282.9L964.2 1282.2L964.9 1281.4L965.7 1280.6L966.4 1279.8L967.1 1279L967.9 1278.2L968.6 1277.4L969.3 1276.7L970.1 1275.9L970.8 1275.1L971.5 1274.3L972.3 1273.5L973 1272.7L973.7 1271.9L974.5 1271.1L975.2 1270.4L975.9 1269.6L976.7 1268.8L977.4 1268L978.1 1267.2L978.9 1266.4L979.6 1265.6L980.3 1264.8L981.1 1264L981.8 1263.2L982.5 1262.4L983.3 1261.6L984 1260.8L984.7 1260L985.5 1259.2L986.2 1258.4L986.9 1257.6L987.7 1256.8L988.4 1256L989.1 1255.2L989.9 1254.4L990.6 1253.6L991.3 1252.8L992.1 1252L992.8 1251.2L993.5 1250.4L994.3 1249.6L995 1248.8L995.7 1248L996.5 1247.2L997.2 1246.4L997.9 1245.6L998.7 1244.8L999.4 1244L1000.1 1243.2L1000.9 1242.4L1001.6 1241.6L1002.3 1240.8L1003.1 1240L1003.8 1239.2L1004.5 1238.3L1005.3 1237.5L1006 1236.7L1006.7 1235.9L1007.5 1235.1L1008.2 1234.3L1008.9 1233.5L1009.7 1232.7L1010.4 1231.9L1011.1 1231.1L1011.9 1230.2L1012.6 1229.4L1013.3 1228.6L1014.1 1227.8L1014.8 1227L1015.6 1226.2L1016.3 1225.4L1017 1224.6L1017.8 1223.8L1018.5 1222.9L1019.2 1222.1L1020 1221.3L1020.7 1220.5L1021.4 1219.7L1022.2 1218.9L1022.9 1218.1L1023.6 1217.2L1024.4 1216.4L1025.1 1215.6L1025.8 1214.8L1026.6 1214L1027.3 1213.2L1028 1212.4L1028.8 1211.5L1029.5 1210.7L1030.2 1209.9L1031 1209.1L1031.7 1208.3L1032.4 1207.5L1033.2 1206.6L1033.9 1205.8L1034.6 1205L1035.4 1204.2L1036.1 1203.4L1036.8 1202.5L1037.6 1201.7L1038.3 1200.9L1039 1200.1L1039.8 1199.3L1040.5 1198.5L1041.2 1197.6L1042 1196.8L1042.7 1196L1043.4 1195.2L1044.2 1194.4L1044.9 1193.5L1045.6 1192.7L1046.4 1191.9L1047.1 1191.1L1047.8 1190.3L1048.6 1189.5L1049.3 1188.6L1050 1187.8L1050.8 1187L1051.5 1186.2L1052.2 1185.4L1053 1184.5L1053.7 1183.7L1054.4 1182.9L1055.2 1182.1L1055.9 1181.3L1056.6 1180.4L1057.4 1179.6L1058.1 1178.8" fill="none" stroke="#ff0000" stroke-width="8.5" stroke-linejoin="round" stroke-dasharray="30 16"/>
<path d="M178.5 1178.8L179.2 1178L180 1177.2L180.7 1176.4L181.4 1175.6L182.2 1174.8L182.9 1174L183.6 1173.2L184.4 1172.4L185.1 1171.6L185.8 1170.8L186.6 1169.9L187.3 1169.1L188 1168.3L188.8 1167.5L189.5 1166.7L190.2 1165.9L191 1165.1L191.7 1164.3L192.4 1163.5L193.2 1162.7L193.9 1161.9L194.6 1161.1L195.4 1160.3L196.1 1159.5L196.8 1158.7L197.6 1157.9L198.3 1157.1L199 1156.3L199.8 1155.5L200.5 1154.7L201.2 1153.9L202 1153.1L202.7 1152.3L203.4 1151.4L204.2 1150.6L204.9 1149.8L205.6 1149L206.4 1148.2L207.1 1147.4L207.8 1146.6L208.6 1145.8L209.3 1145L210 1144.2L210.8 1143.4L211.5 1142.6L212.2 1141.8L213 1141L213.7 1140.2L214.4 1139.4L215.2 1138.6L215.9 1137.8L216.6 1137L217.4 1136.2L218.1 1135.4L218.8 1134.6L219.6 1133.8L220.3 1133L221 1132.2L221.8 1131.4L222.5 1130.6L223.3 1129.8L224 1129L224.7 1128.2L225.5 1127.4L226.2 1126.6L226.9 1125.8L227.7 1125L228.4 1124.2L229.1 1123.4L229.9 1122.6L230.6 1121.8L231.3 1121L232.1 1120.2L232.8 1119.4L233.5 1118.6L234.3 1117.8L235 1117L235.7 1116.2L236.5 1115.4L237.2 1114.6L237.9 1113.8L238.7 1113L239.4 1112.2L240.1 1111.4L240.9 1110.6L241.6 1109.9L242.3 1109.1L243.1 1108.3L243.8 1107.5L244.5 1106.7L245.3 1105.9L246 1105.1L246.7 1104.3L247.5 1103.5L248.2 1102.7L248.9 1101.9L249.7 1101.1L250.4 1100.3L251.1 1099.5L251.9 1098.7L252.6 1098L253.3 1097.2L254.1 1096.4L254.8 1095.6L255.5 1094.8L256.3 1094L257 1093.2L257.7 1092.4L258.5 1091.6L259.2 1090.8L259.9 1090.1L260.7 1089.3L261.4 1088.5L262.1 1087.7L262.9 1086.9L263.6 1086.1L264.3 1085.3L265.1 1084.5L265.8 1083.8L266.5 1083L267.3 1082.2L268 1081.4L268.7 1080.6L269.5 1079.8L270.2 1079L270.9 1078.3L271.7 1077.5L272.4 1076.7L273.1 1075.9L273.9 1075.1L274.6 1074.3L275.3 1073.6L276.1 1072.8L276.8 1072L277.5 1071.2L278.3 1070.4L279 1069.7L279.7 1068.9L280.5 1068.1L281.2 1067.3L281.9 1066.5L282.7 1065.8L283.4 1065L284.1 1064.2L284.9 1063.4L285.6 1062.6L286.3 1061.9L287.1 1061.1L287.8 1060.3L288.5 1059.5L289.3 1058.8L290 1058L290.7 1057.2L291.5 1056.4L292.2 1055.7L292.9 1054.9L293.7 1054.1L294.4 1053.3L295.1 1052.6L295.9 1051.8L296.6 1051L297.3 1050.3L298.1 1049.5L298.8 1048.7L299.5 1048L300.3 1047.2L301 1046.4L301.7 1045.6L302.5 1044.9L303.2 1044.1L303.9 1043.3L304.7 1042.6L305.4 1041.8L306.1 1041L306.9 1040.3L307.6 1039.5L308.3 1038.8L309.1 1038L309.8 1037.2L310.6 1036.5L311.3 1035.7L312 1034.9L312.8 1034.2L313.5 1033.4L314.2 1032.7L315 1031.9L315.7 1031.1L316.4 1030.4L317.2 1029.6L317.9 1028.9L318.6 1028.1L319.4 1027.4L320.1 1026.6L320.8 1025.8L321.6 1025.1L322.3 1024.3L323 1023.6L323.8 1022.8L324.5 1022.1L325.2 1021.3L326 1020.6L326.7 1019.8L327.4 1019.1L328.2 1018.3L328.9 1017.6L329.6 1016.8L330.4 1016.1L331.1 1015.3L331.8 1014.6L332.6 1013.8L333.3 1013.1L334 1012.3L334.8 1011.6L335.5 1010.8L336.2 1010.1L337 1009.3L337.7 1008.6L338.4 1007.9L339.2 1007.1L339.9 1006.4L340.6 1005.6L341.4 1004.9L342.1 1004.1L342.8 1003.4L343.6 1002.7L344.3 1001.9L345 1001.2L345.8 1000.5L346.5 999.7L347.2 999L348 998.2L348.7 997.5L349.4 996.8L350.2 996L350.9 995.3L351.6 994.6L352.4 993.8L353.1 993.1L353.8 992.4L354.6 991.7L355.3 990.9L356 990.2L356.8 989.5L357.5 988.7L358.2 988L359 987.3L359.7 986.6L360.4 985.8L361.2 985.1L361.9 984.4L362.6 983.7L363.4 982.9L364.1 982.2L364.8 981.5L365.6 980.8L366.3 980.1L367 979.3L367.8 978.6L368.5 977.9L369.2 977.2L370 976.5L370.7 975.8L371.4 975L372.2 974.3L372.9 973.6L373.6 972.9L374.4 972.2L375.1 971.5L375.8 970.8L376.6 970.1L377.3 969.3L378 968.6L378.8 967.9L379.5 967.2L380.2 966.5L381 965.8L381.7 965.1L382.4 964.4L383.2 963.7L383.9 963L384.6 962.3L385.4 961.6L386.1 960.9L386.8 960.2L387.6 959.5L388.3 958.8L389 958.1L389.8 957.4L390.5 956.7L391.2 956L392 955.3L392.7 954.6L393.4 953.9L394.2 953.2L394.9 952.5L395.6 951.9L396.4 951.2L397.1 950.5L397.8 949.8L398.6 949.1L399.3 948.4L400.1 947.7L400.8 947.1L401.5 946.4L402.3 945.7L403 945L403.7 944.3L404.5 943.6L405.2 943L405.9 942.3L406.7 941.6L407.4 940.9L408.1 940.3L408.9 939.6L409.6 938.9L410.3 938.2L411.1 937.6L411.8 936.9L412.5 936.2L413.3 935.6L414 934.9L414.7 934.2L415.5 933.6L416.2 932.9L416.9 932.2L417.7 931.6L418.4 930.9L419.1 930.2L419.9 929.6L420.6 928.9L421.3 928.3L422.1 927.6L422.8 927L423.5 926.3L424.3 925.6L425 925L425.7 924.3L426.5 923.7L427.2 923L427.9 922.4L428.7 921.7L429.4 921.1L430.1 920.5L430.9 919.8L431.6 919.2L432.3 918.5L433.1 917.9L433.8 917.2L434.5 916.6L435.3 916L436 915.3L436.7 914.7L437.5 914.1L438.2 913.4L438.9 912.8L439.7 912.2L440.4 911.5L441.1 910.9L441.9 910.3L442.6 909.7L443.3 909L444.1 908.4L444.8 907.8L445.5 907.2L446.3 906.6L447 906L447.7 905.3L448.5 904.7L449.2 904.1L449.9 903.5L450.7 902.9L451.4 902.3L452.1 901.7L452.9 901.1L453.6 900.5L454.3 899.9L455.1 899.3L455.8 898.7L456.5 898.1L457.3 897.5L458 896.9L458.7 896.3L459.5 895.7L460.2 895.1L460.9 894.5L461.7 894L462.4 893.4L463.1 892.8L463.9 892.2L464.6 891.6L465.3 891.1L466.1 890.5L466.8 889.9L467.5 889.4L468.3 888.8L469 888.2L469.7 887.7L470.5 887.1L471.2 886.6L471.9 886L472.7 885.4L473.4 884.9L474.1 884.3L474.9 883.8L475.6 883.3L476.3 882.7L477.1 882.2L477.8 881.6L478.5 881.1L479.3 880.6L480 880L480.7 879.5L481.5 879L482.2 878.5L482.9 878L483.7 877.4L484.4 876.9L485.1 876.4L485.9 875.9L486.6 875.4L487.4 874.9L488.1 874.4L488.8 873.9L489.6 873.4L490.3 873L491 872.5L491.8 872L492.5 871.5L493.2 871.1L494 870.6L494.7 870.1L495.4 869.7L496.2 869.2L496.9 868.8L497.6 868.3L498.4 867.9L499.1 867.4L499.8 867L500.6 866.6L501.3 866.2L502 865.7L502.8 865.3L503.5 864.9L504.2 864.5L505 864.1L505.7 863.7L506.4 863.3L507.2 862.9L507.9 862.6L508.6 862.2L509.4 861.8L510.1 861.5L510.8 861.1L511.6 860.8L512.3 860.4L513 860.1L513.8 859.8L514.5 859.5L515.2 859.2L516 858.9L516.7 858.6L517.4 858.3L518.2 858L518.9 857.7L519.6 857.5L520.4 857.2L521.1 857L521.8 856.7L522.6 856.5L523.3 856.3L524 856.1L524.8 855.9L525.5 855.7L526.2 855.5L527 855.4L527.7 855.2L528.4 855.1L529.2 855L529.9 854.8L530.6 854.7L531.4 854.6L532.1 854.6L532.8 854.5L533.6 854.5L534.3 854.4L535 854.4L535.8 854.4L536.5 854.4L537.2 854.4L538 854.5L538.7 854.5L539.4 854.6L540.2 854.7L540.9 854.8L541.6 855L542.4 855.1L543.1 855.3L543.8 855.5L544.6 855.7L545.3 855.9L546 856.2L546.8 856.5L547.5 856.8L548.2 857.1L549 857.5L549.7 857.9L550.4 858.3L551.2 858.7L551.9 859.2L552.6 859.7L553.4 860.2L554.1 860.8L554.8 861.4L555.6 862L556.3 862.7L557 863.4L557.8 864.1L558.5 864.9L559.2 865.7L560 866.5L560.7 867.4L561.4 868.4L562.2 869.3L562.9 870.4L563.6 871.4L564.4 872.5L565.1 873.7L565.8 874.9L566.6 876.2L567.3 877.5L568 878.9L568.8 880.3L569.5 881.8L570.2 883.3L571 884.9L571.7 886.6L572.4 888.3L573.2 890.1L573.9 892L574.7 893.9L575.4 895.9L576.1 898L576.9 900.2L577.6 902.4L578.3 904.7L579.1 907.1L579.8 909.6L580.5 912.2L581.3 914.8L582 917.5L582.7 920.4L583.5 923.3L584.2 926.3L584.9 929.4L585.7 932.6L586.4 935.9L587.1 939.3L587.9 942.8L588.6 946.5L589.3 950.2L590.1 954L590.8 958L591.5 962L592.3 966.2L593 970.4L593.7 974.8L594.5 979.3L595.2 983.9L595.9 988.6L596.7 993.5L597.4 998.4L598.1 1003.5L598.9 1008.7L599.6 1014L600.3 1019.4L601.1 1024.9L601.8 1030.5L602.5 1036.3L603.3 1042.1L604 1048L604.7 1054.1L605.5 1060.2L606.2 1066.4L606.9 1072.8L607.7 1079.2L608.4 1085.7L609.1 1092.2L609.9 1098.9L610.6 1105.6L611.3 1112.3L612.1 1119.2L612.8 1126.1L613.5 1133L614.3 1140L615 1147L615.7 1154L616.5 1161.1L617.2 1168.2L617.9 1175.3L618.7 1182.3L619.4 1189.4L620.1 1196.5L620.9 1203.6L621.6 1210.6L622.3 1217.6L623.1 1224.6L623.8 1231.5L624.5 1238.4L625.3 1245.3L626 1252L626.7 1258.7L627.5 1265.4L628.2 1271.9L628.9 1278.4L629.7 1284.8L630.4 1291.2L631.1 1297.4L631.9 1303.5L632.6 1309.6L633.3 1315.5L634.1 1321.3L634.8 1327.1L635.5 1332.7L636.3 1338.2L637 1343.6L637.7 1348.9L638.5 1354.1L639.2 1359.2L639.9 1364.1L640.7 1369L641.4 1373.7L642.1 1378.3L642.9 1382.8L643.6 1387.2L644.3 1391.4L645.1 1395.6L645.8 1399.6L646.5 1403.6L647.3 1407.4L648 1411.1L648.7 1414.8L649.5 1418.3L650.2 1421.7L650.9 1425L651.7 1428.2L652.4 1431.3L653.1 1434.3L653.9 1437.2L654.6 1440.1L655.3 1442.8L656.1 1445.4L656.8 1448L657.5 1450.5L658.3 1452.9L659 1455.2L659.7 1457.4L660.5 1459.6L661.2 1461.7L661.9 1463.7L662.7 1465.6L663.4 1467.5L664.2 1469.3L664.9 1471L665.6 1472.7L666.4 1474.3L667.1 1475.8L667.8 1477.3L668.6 1478.7L669.3 1480.1L670 1481.4L670.8 1482.7L671.5 1483.9L672.2 1485.1L673 1486.2L673.7 1487.2L674.4 1488.3L675.2 1489.2L675.9 1490.2L676.6 1491.1L677.4 1491.9L678.1 1492.7L678.8 1493.5L679.6 1494.2L680.3 1494.9L681 1495.6L681.8 1496.2L682.5 1496.8L683.2 1497.4L684 1497.9L684.7 1498.4L685.4 1498.9L686.2 1499.3L686.9 1499.7L687.6 1500.1L688.4 1500.5L689.1 1500.8L689.8 1501.1L690.6 1501.4L691.3 1501.7L692 1501.9L692.8 1502.1L693.5 1502.3L694.2 1502.5L695 1502.6L695.7 1502.8L696.4 1502.9L697.2 1503L697.9 1503.1L698.6 1503.1L699.4 1503.2L700.1 1503.2L700.8 1503.2L701.6 1503.2L702.3 1503.2L703 1503.1L703.8 1503.1L704.5 1503L705.2 1503L706 1502.9L706.7 1502.8L707.4 1502.6L708.2 1502.5L708.9 1502.4L709.6 1502.2L710.4 1502.1L711.1 1501.9L711.8 1501.7L712.6 1501.5L713.3 1501.3L714 1501.1L714.8 1500.9L715.5 1500.6L716.2 1500.4L717 1500.1L717.7 1499.9L718.4 1499.6L719.2 1499.3L719.9 1499L720.6 1498.7L721.4 1498.4L722.1 1498.1L722.8 1497.8L723.6 1497.5L724.3 1497.2L725 1496.8L725.8 1496.5L726.5 1496.1L727.2 1495.8L728 1495.4L728.7 1495L729.4 1494.7L730.2 1494.3L730.9 1493.9L731.6 1493.5L732.4 1493.1L733.1 1492.7L733.8 1492.3L734.6 1491.9L735.3 1491.4L736 1491L736.8 1490.6L737.5 1490.2L738.2 1489.7L739 1489.3L739.7 1488.8L740.4 1488.4L741.2 1487.9L741.9 1487.5L742.6 1487L743.4 1486.5L744.1 1486.1L744.8 1485.6L745.6 1485.1L746.3 1484.6L747 1484.2L747.8 1483.7L748.5 1483.2L749.2 1482.7L750 1482.2L750.7 1481.7L751.5 1481.2L752.2 1480.7L752.9 1480.2L753.7 1479.6L754.4 1479.1L755.1 1478.6L755.9 1478.1L756.6 1477.6L757.3 1477L758.1 1476.5L758.8 1476L759.5 1475.4L760.3 1474.9L761 1474.3L761.7 1473.8L762.5 1473.3L763.2 1472.7L763.9 1472.2L764.7 1471.6L765.4 1471L766.1 1470.5L766.9 1469.9L767.6 1469.4L768.3 1468.8L769.1 1468.2L769.8 1467.7L770.5 1467.1L771.3 1466.5L772 1466L772.7 1465.4L773.5 1464.8L774.2 1464.2L774.9 1463.6L775.7 1463.1L776.4 1462.5L777.1 1461.9L777.9 1461.3L778.6 1460.7L779.3 1460.1L780.1 1459.5L780.8 1458.9L781.5 1458.3L782.3 1457.7L783 1457.1L783.7 1456.5L784.5 1455.9L785.2 1455.3L785.9 1454.7L786.7 1454.1L787.4 1453.5L788.1 1452.9L788.9 1452.3L789.6 1451.6L790.3 1451L791.1 1450.4L791.8 1449.8L792.5 1449.2L793.3 1448.6L794 1447.9L794.7 1447.3L795.5 1446.7L796.2 1446.1L796.9 1445.4L797.7 1444.8L798.4 1444.2L799.1 1443.5L799.9 1442.9L800.6 1442.3L801.3 1441.6L802.1 1441L802.8 1440.4L803.5 1439.7L804.3 1439.1L805 1438.4L805.7 1437.8L806.5 1437.1L807.2 1436.5L807.9 1435.9L808.7 1435.2L809.4 1434.6L810.1 1433.9L810.9 1433.3L811.6 1432.6L812.3 1432L813.1 1431.3L813.8 1430.6L814.5 1430L815.3 1429.3L816 1428.7L816.7 1428L817.5 1427.4L818.2 1426.7L818.9 1426L819.7 1425.4L820.4 1424.7L821.1 1424L821.9 1423.4L822.6 1422.7L823.3 1422L824.1 1421.4L824.8 1420.7L825.5 1420L826.3 1419.4L827 1418.7L827.7 1418L828.5 1417.3L829.2 1416.7L829.9 1416L830.7 1415.3L831.4 1414.6L832.1 1414L832.9 1413.3L833.6 1412.6L834.3 1411.9L835.1 1411.2L835.8 1410.5L836.5 1409.9L837.3 1409.2L838 1408.5L838.8 1407.8L839.5 1407.1L840.2 1406.4L841 1405.7L841.7 1405.1L842.4 1404.4L843.2 1403.7L843.9 1403L844.6 1402.3L845.4 1401.6L846.1 1400.9L846.8 1400.2L847.6 1399.5L848.3 1398.8L849 1398.1L849.8 1397.4L850.5 1396.7L851.2 1396L852 1395.3L852.7 1394.6L853.4 1393.9L854.2 1393.2L854.9 1392.5L855.6 1391.8L856.4 1391.1L857.1 1390.4L857.8 1389.7L858.6 1389L859.3 1388.3L860 1387.5L860.8 1386.8L861.5 1386.1L862.2 1385.4L863 1384.7L863.7 1384L864.4 1383.3L865.2 1382.6L865.9 1381.8L866.6 1381.1L867.4 1380.4L868.1 1379.7L868.8 1379L869.6 1378.3L870.3 1377.5L871 1376.8L871.8 1376.1L872.5 1375.4L873.2 1374.7L874 1373.9L874.7 1373.2L875.4 1372.5L876.2 1371.8L876.9 1371L877.6 1370.3L878.4 1369.6L879.1 1368.9L879.8 1368.1L880.6 1367.4L881.3 1366.7L882 1365.9L882.8 1365.2L883.5 1364.5L884.2 1363.8L885 1363L885.7 1362.3L886.4 1361.6L887.2 1360.8L887.9 1360.1L888.6 1359.4L889.4 1358.6L890.1 1357.9L890.8 1357.1L891.6 1356.4L892.3 1355.7L893 1354.9L893.8 1354.2L894.5 1353.5L895.2 1352.7L896 1352L896.7 1351.2L897.4 1350.5L898.2 1349.7L898.9 1349L899.6 1348.3L900.4 1347.5L901.1 1346.8L901.8 1346L902.6 1345.3L903.3 1344.5L904 1343.8L904.8 1343L905.5 1342.3L906.2 1341.5L907 1340.8L907.7 1340L908.4 1339.3L909.2 1338.5L909.9 1337.8L910.6 1337L911.4 1336.3L912.1 1335.5L912.8 1334.8L913.6 1334L914.3 1333.3L915 1332.5L915.8 1331.8L916.5 1331L917.2 1330.2L918 1329.5L918.7 1328.7L919.4 1328L920.2 1327.2L920.9 1326.5L921.6 1325.7L922.4 1324.9L923.1 1324.2L923.8 1323.4L924.6 1322.7L925.3 1321.9L926 1321.1L926.8 1320.4L927.5 1319.6L928.3 1318.8L929 1318.1L929.7 1317.3L930.5 1316.6L931.2 1315.8L931.9 1315L932.7 1314.3L933.4 1313.5L934.1 1312.7L934.9 1312L935.6 1311.2L936.3 1310.4L937.1 1309.6L937.8 1308.9L938.5 1308.1L939.3 1307.3L940 1306.6L940.7 1305.8L941.5 1305L942.2 1304.3L942.9 1303.5L943.7 1302.7L944.4 1301.9L945.1 1301.2L945.9 1300.4L946.6 1299.6L947.3 1298.8L948.1 1298.1L948.8 1297.3L949.5 1296.5L950.3 1295.7L951 1295L951.7 1294.2L952.5 1293.4L953.2 1292.6L953.9 1291.8L954.7 1291.1L955.4 1290.3L956.1 1289.5L956.9 1288.7L957.6 1287.9L958.3 1287.2L959.1 1286.4L959.8 1285.6L960.5 1284.8L961.3 1284L962 1283.3L962.7 1282.5L963.5 1281.7L964.2 1280.9L964.9 1280.1L965.7 1279.3L966.4 1278.6L967.1 1277.8L967.9 1277L968.6 1276.2L969.3 1275.4L970.1 1274.6L970.8 1273.8L971.5 1273.1L972.3 1272.3L973 1271.5L973.7 1270.7L974.5 1269.9L975.2 1269.1L975.9 1268.3L976.7 1267.5L977.4 1266.8L978.1 1266L978.9 1265.2L979.6 1264.4L980.3 1263.6L981.1 1262.8L981.8 1262L982.5 1261.2L983.3 1260.4L984 1259.6L984.7 1258.9L985.5 1258.1L986.2 1257.3L986.9 1256.5L987.7 1255.7L988.4 1254.9L989.1 1254.1L989.9 1253.3L990.6 1252.5L991.3 1251.7L992.1 1250.9L992.8 1250.1L993.5 1249.3L994.3 1248.5L995 1247.7L995.7 1247L996.5 1246.2L997.2 1245.4L997.9 1244.6L998.7 1243.8L999.4 1243L1000.1 1242.2L1000.9 1241.4L1001.6 1240.6L1002.3 1239.8L1003.1 1239L1003.8 1238.2L1004.5 1237.4L1005.3 1236.6L1006 1235.8L1006.7 1235L1007.5 1234.2L1008.2 1233.4L1008.9 1232.6L1009.7 1231.8L1010.4 1231L1011.1 1230.2L1011.9 1229.4L1012.6 1228.6L1013.3 1227.8L1014.1 1227L1014.8 1226.2L1015.6 1225.4L1016.3 1224.6L1017 1223.8L1017.8 1223L1018.5 1222.2L1019.2 1221.4L1020 1220.6L1020.7 1219.8L1021.4 1219L1022.2 1218.2L1022.9 1217.4L1023.6 1216.6L1024.4 1215.8L1025.1 1215L1025.8 1214.2L1026.6 1213.4L1027.3 1212.6L1028 1211.8L1028.8 1211L1029.5 1210.2L1030.2 1209.4L1031 1208.6L1031.7 1207.8L1032.4 1207L1033.2 1206.2L1033.9 1205.3L1034.6 1204.5L1035.4 1203.7L1036.1 1202.9L1036.8 1202.1L1037.6 1201.3L1038.3 1200.5L1039 1199.7L1039.8 1198.9L1040.5 1198.1L1041.2 1197.3L1042 1196.5L1042.7 1195.7L1043.4 1194.9L1044.2 1194.1L1044.9 1193.3L1045.6 1192.5L1046.4 1191.7L1047.1 1190.9L1047.8 1190.1L1048.6 1189.3L1049.3 1188.5L1050 1187.7L1050.8 1186.8L1051.5 1186L1052.2 1185.2L1053 1184.4L1053.7 1183.6L1054.4 1182.8L1055.2 1182L1055.9 1181.2L1056.6 1180.4L1057.4 1179.6L1058.1 1178.8" fill="none" stroke="#0000ff" stroke-width="8.5" stroke-linejoin="round" stroke-dasharray="10 17"/>
<path d="M178.5 1178.8L179.2 1178.1L180 1177.4L180.7 1176.7L181.4 1176L182.2 1175.3L182.9 1174.6L183.6 1173.9L184.4 1173.2L185.1 1172.5L185.8 1171.8L186.6 1171.1L187.3 1170.4L188 1169.6L188.8 1168.9L189.5 1168.2L190.2 1167.5L191 1166.8L191.7 1166.1L192.4 1165.4L193.2 1164.7L193.9 1164L194.6 1163.3L195.4 1162.6L196.1 1161.9L196.8 1161.2L197.6 1160.5L198.3 1159.8L199 1159.1L199.8 1158.4L200.5 1157.7L201.2 1157L202 1156.3L202.7 1155.6L203.4 1154.9L204.2 1154.2L204.9 1153.5L205.6 1152.8L206.4 1152.1L207.1 1151.4L207.8 1150.7L208.6 1150L209.3 1149.3L210 1148.6L210.8 1147.9L211.5 1147.2L212.2 1146.5L213 1145.8L213.7 1145.1L214.4 1144.4L215.2 1143.6L215.9 1142.9L216.6 1142.2L217.4 1141.5L218.1 1140.8L218.8 1140.1L219.6 1139.4L220.3 1138.7L221 1138L221.8 1137.3L222.5 1136.6L223.3 1135.9L224 1135.2L224.7 1134.5L225.5 1133.9L226.2 1133.2L226.9 1132.5L227.7 1131.8L228.4 1131.1L229.1 1130.4L229.9 1129.7L230.6 1129L231.3 1128.3L232.1 1127.6L232.8 1126.9L233.5 1126.2L234.3 1125.5L235 1124.8L235.7 1124.1L236.5 1123.4L237.2 1122.7L237.9 1122L238.7 1121.3L239.4 1120.6L240.1 1119.9L240.9 1119.2L241.6 1118.5L242.3 1117.8L243.1 1117.1L243.8 1116.4L244.5 1115.7L245.3 1115.1L246 1114.4L246.7 1113.7L247.5 1113L248.2 1112.3L248.9 1111.6L249.7 1110.9L250.4 1110.2L251.1 1109.5L251.9 1108.8L252.6 1108.1L253.3 1107.4L254.1 1106.7L254.8 1106.1L255.5 1105.4L256.3 1104.7L257 1104L257.7 1103.3L258.5 1102.6L259.2 1101.9L259.9 1101.2L260.7 1100.5L261.4 1099.9L262.1 1099.2L262.9 1098.5L263.6 1097.8L264.3 1097.1L265.1 1096.4L265.8 1095.7L266.5 1095L267.3 1094.4L268 1093.7L268.7 1093L269.5 1092.3L270.2 1091.6L270.9 1090.9L271.7 1090.3L272.4 1089.6L273.1 1088.9L273.9 1088.2L274.6 1087.5L275.3 1086.8L276.1 1086.2L276.8 1085.5L277.5 1084.8L278.3 1084.1L279 1083.4L279.7 1082.8L280.5 1082.1L281.2 1081.4L281.9 1080.7L282.7 1080L283.4 1079.4L284.1 1078.7L284.9 1078L285.6 1077.3L286.3 1076.6L287.1 1076L287.8 1075.3L288.5 1074.6L289.3 1073.9L290 1073.3L290.7 1072.6L291.5 1071.9L292.2 1071.2L292.9 1070.6L293.7 1069.9L294.4 1069.2L295.1 1068.6L295.9 1067.9L296.6 1067.2L297.3 1066.5L298.1 1065.9L298.8 1065.2L299.5 1064.5L300.3 1063.9L301 1063.2L301.7 1062.5L302.5 1061.8L303.2 1061.2L303.9 1060.5L304.7 1059.8L305.4 1059.2L306.1 1058.5L306.9 1057.8L307.6 1057.2L308.3 1056.5L309.1 1055.8L309.8 1055.2L310.6 1054.5L311.3 1053.9L312 1053.2L312.8 1052.5L313.5 1051.9L314.2 1051.2L315 1050.5L315.7 1049.9L316.4 1049.2L317.2 1048.6L317.9 1047.9L318.6 1047.2L319.4 1046.6L320.1 1045.9L320.8 1045.3L321.6 1044.6L322.3 1044L323 1043.3L323.8 1042.7L324.5 1042L325.2 1041.3L326 1040.7L326.7 1040L327.4 1039.4L328.2 1038.7L328.9 1038.1L329.6 1037.4L330.4 1036.8L331.1 1036.1L331.8 1035.5L332.6 1034.8L333.3 1034.2L334 1033.5L334.8 1032.9L335.5 1032.2L336.2 1031.6L337 1030.9L337.7 1030.3L338.4 1029.6L339.2 1029L339.9 1028.4L340.6 1027.7L341.4 1027.1L342.1 1026.4L342.8 1025.8L343.6 1025.1L344.3 1024.5L345 1023.9L345.8 1023.2L346.5 1022.6L347.2 1021.9L348 1021.3L348.7 1020.7L349.4 1020L350.2 1019.4L350.9 1018.7L351.6 1018.1L352.4 1017.5L353.1 1016.8L353.8 1016.2L354.6 1015.6L355.3 1014.9L356 1014.3L356.8 1013.7L357.5 1013L358.2 1012.4L359 1011.8L359.7 1011.2L360.4 1010.5L361.2 1009.9L361.9 1009.3L362.6 1008.6L363.4 1008L364.1 1007.4L364.8 1006.8L365.6 1006.1L366.3 1005.5L367 1004.9L367.8 1004.3L368.5 1003.6L369.2 1003L370 1002.4L370.7 1001.8L371.4 1001.2L372.2 1000.5L372.9 999.9L373.6 999.3L374.4 998.7L375.1 998.1L375.8 997.4L376.6 996.8L377.3 996.2L378 995.6L378.8 995L379.5 994.4L380.2 993.8L381 993.2L381.7 992.5L382.4 991.9L383.2 991.3L383.9 990.7L384.6 990.1L385.4 989.5L386.1 988.9L386.8 988.3L387.6 987.7L388.3 987.1L389 986.5L389.8 985.9L390.5 985.3L391.2 984.7L392 984.1L392.7 983.4L393.4 982.8L394.2 982.2L394.9 981.6L395.6 981L396.4 980.5L397.1 979.9L397.8 979.3L398.6 978.7L399.3 978.1L400.1 977.5L400.8 976.9L401.5 976.3L402.3 975.7L403 975.1L403.7 974.5L404.5 973.9L405.2 973.3L405.9 972.7L406.7 972.2L407.4 971.6L408.1 971L408.9 970.4L409.6 969.8L410.3 969.2L411.1 968.6L411.8 968.1L412.5 967.5L413.3 966.9L414 966.3L414.7 965.7L415.5 965.2L416.2 964.6L416.9 964L417.7 963.4L418.4 962.8L419.1 962.3L419.9 961.7L420.6 961.1L421.3 960.5L422.1 960L422.8 959.4L423.5 958.8L424.3 958.3L425 957.7L425.7 957.1L426.5 956.6L427.2 956L427.9 955.4L428.7 954.9L429.4 954.3L430.1 953.7L430.9 953.2L431.6 952.6L432.3 952.1L433.1 951.5L433.8 950.9L434.5 950.4L435.3 949.8L436 949.3L436.7 948.7L437.5 948.2L438.2 947.6L438.9 947L439.7 946.5L440.4 945.9L441.1 945.4L441.9 944.8L442.6 944.3L443.3 943.8L444.1 943.2L444.8 942.7L445.5 942.1L446.3 941.6L447 941L447.7 940.5L448.5 939.9L449.2 939.4L449.9 938.9L450.7 938.3L451.4 937.8L452.1 937.3L452.9 936.7L453.6 936.2L454.3 935.7L455.1 935.1L455.8 934.6L456.5 934.1L457.3 933.5L458 933L458.7 932.5L459.5 932L460.2 931.4L460.9 930.9L461.7 930.4L462.4 929.9L463.1 929.4L463.9 928.9L464.6 928.3L465.3 927.8L466.1 927.3L466.8 926.8L467.5 926.3L468.3 925.8L469 925.3L469.7 924.8L470.5 924.3L471.2 923.8L471.9 923.2L472.7 922.7L473.4 922.2L474.1 921.7L474.9 921.3L475.6 920.8L476.3 920.3L477.1 919.8L477.8 919.3L478.5 918.8L479.3 918.3L480 917.8L480.7 917.3L481.5 916.8L482.2 916.4L482.9 915.9L483.7 915.4L484.4 914.9L485.1 914.5L485.9 914L486.6 913.5L487.4 913L488.1 912.6L488.8 912.1L489.6 911.7L490.3 911.2L491 910.7L491.8 910.3L492.5 909.8L493.2 909.4L494 908.9L494.7 908.5L495.4 908L496.2 907.6L496.9 907.1L497.6 906.7L498.4 906.3L499.1 905.8L499.8 905.4L500.6 905L501.3 904.6L502 904.1L502.8 903.7L503.5 903.3L504.2 902.9L505 902.5L505.7 902.1L506.4 901.7L507.2 901.3L507.9 900.9L508.6 900.5L509.4 900.1L510.1 899.7L510.8 899.3L511.6 898.9L512.3 898.6L513 898.2L513.8 897.8L514.5 897.5L515.2 897.1L516 896.7L516.7 896.4L517.4 896L518.2 895.7L518.9 895.4L519.6 895L520.4 894.7L521.1 894.4L521.8 894.1L522.6 893.8L523.3 893.5L524 893.2L524.8 892.9L525.5 892.6L526.2 892.3L527 892L527.7 891.8L528.4 891.5L529.2 891.3L529.9 891L530.6 890.8L531.4 890.5L532.1 890.3L532.8 890.1L533.6 889.9L534.3 889.7L535 889.5L535.8 889.4L536.5 889.2L537.2 889L538 888.9L538.7 888.7L539.4 888.6L540.2 888.5L540.9 888.4L541.6 888.3L542.4 888.2L543.1 888.2L543.8 888.1L544.6 888.1L545.3 888.1L546 888.1L546.8 888.1L547.5 888.1L548.2 888.2L549 888.2L549.7 888.3L550.4 888.4L551.2 888.5L551.9 888.6L552.6 888.8L553.4 889L554.1 889.2L554.8 889.4L555.6 889.6L556.3 889.9L557 890.2L557.8 890.5L558.5 890.9L559.2 891.2L560 891.6L560.7 892.1L561.4 892.5L562.2 893L562.9 893.6L563.6 894.1L564.4 894.7L565.1 895.4L565.8 896.1L566.6 896.8L567.3 897.5L568 898.3L568.8 899.2L569.5 900.1L570.2 901L571 902L571.7 903.1L572.4 904.2L573.2 905.3L573.9 906.6L574.7 907.8L575.4 909.2L576.1 910.6L576.9 912.1L577.6 913.6L578.3 915.2L579.1 916.9L579.8 918.7L580.5 920.6L581.3 922.5L582 924.5L582.7 926.6L583.5 928.8L584.2 931.1L584.9 933.5L585.7 936L586.4 938.6L587.1 941.3L587.9 944.2L588.6 947.1L589.3 950.2L590.1 953.3L590.8 956.6L591.5 960.1L592.3 963.6L593 967.3L593.7 971.1L594.5 975.1L595.2 979.2L595.9 983.5L596.7 987.9L597.4 992.4L598.1 997.1L598.9 1002L599.6 1007L600.3 1012.1L601.1 1017.4L601.8 1022.9L602.5 1028.5L603.3 1034.3L604 1040.2L604.7 1046.2L605.5 1052.4L606.2 1058.8L606.9 1065.3L607.7 1071.9L608.4 1078.7L609.1 1085.5L609.9 1092.5L610.6 1099.6L611.3 1106.9L612.1 1114.2L612.8 1121.5L613.5 1129L614.3 1136.6L615 1144.2L615.7 1151.8L616.5 1159.5L617.2 1167.2L617.9 1174.9L618.7 1182.7L619.4 1190.4L620.1 1198.1L620.9 1205.8L621.6 1213.4L622.3 1221L623.1 1228.6L623.8 1236.1L624.5 1243.4L625.3 1250.7L626 1258L626.7 1265.1L627.5 1272.1L628.2 1278.9L628.9 1285.7L629.7 1292.3L630.4 1298.8L631.1 1305.2L631.9 1311.4L632.6 1317.4L633.3 1323.3L634.1 1329.1L634.8 1334.7L635.5 1340.2L636.3 1345.5L637 1350.6L637.7 1355.6L638.5 1360.5L639.2 1365.2L639.9 1369.7L640.7 1374.1L641.4 1378.4L642.1 1382.5L642.9 1386.5L643.6 1390.3L644.3 1394L645.1 1397.5L645.8 1401L646.5 1404.3L647.3 1407.4L648 1410.5L648.7 1413.4L649.5 1416.3L650.2 1419L650.9 1421.6L651.7 1424.1L652.4 1426.5L653.1 1428.8L653.9 1431L654.6 1433.1L655.3 1435.1L656.1 1437L656.8 1438.9L657.5 1440.7L658.3 1442.4L659 1444L659.7 1445.5L660.5 1447L661.2 1448.4L661.9 1449.8L662.7 1451L663.4 1452.3L664.2 1453.4L664.9 1454.5L665.6 1455.6L666.4 1456.6L667.1 1457.5L667.8 1458.4L668.6 1459.3L669.3 1460.1L670 1460.8L670.8 1461.5L671.5 1462.2L672.2 1462.9L673 1463.5L673.7 1464L674.4 1464.6L675.2 1465.1L675.9 1465.5L676.6 1466L677.4 1466.4L678.1 1466.7L678.8 1467.1L679.6 1467.4L680.3 1467.7L681 1468L681.8 1468.2L682.5 1468.4L683.2 1468.6L684 1468.8L684.7 1469L685.4 1469.1L686.2 1469.2L686.9 1469.3L687.6 1469.4L688.4 1469.4L689.1 1469.5L689.8 1469.5L690.6 1469.5L691.3 1469.5L692 1469.5L692.8 1469.5L693.5 1469.4L694.2 1469.4L695 1469.3L695.7 1469.2L696.4 1469.1L697.2 1469L697.9 1468.9L698.6 1468.7L699.4 1468.6L700.1 1468.4L700.8 1468.2L701.6 1468.1L702.3 1467.9L703 1467.7L703.8 1467.5L704.5 1467.3L705.2 1467.1L706 1466.8L706.7 1466.6L707.4 1466.3L708.2 1466.1L708.9 1465.8L709.6 1465.6L710.4 1465.3L711.1 1465L711.8 1464.7L712.6 1464.4L713.3 1464.1L714 1463.8L714.8 1463.5L715.5 1463.2L716.2 1462.9L717 1462.6L717.7 1462.2L718.4 1461.9L719.2 1461.6L719.9 1461.2L720.6 1460.9L721.4 1460.5L722.1 1460.1L722.8 1459.8L723.6 1459.4L724.3 1459L725 1458.7L725.8 1458.3L726.5 1457.9L727.2 1457.5L728 1457.1L728.7 1456.7L729.4 1456.3L730.2 1455.9L730.9 1455.5L731.6 1455.1L732.4 1454.7L733.1 1454.3L733.8 1453.9L734.6 1453.5L735.3 1453L736 1452.6L736.8 1452.2L737.5 1451.8L738.2 1451.3L739 1450.9L739.7 1450.5L740.4 1450L741.2 1449.6L741.9 1449.1L742.6 1448.7L743.4 1448.2L744.1 1447.8L744.8 1447.3L745.6 1446.9L746.3 1446.4L747 1445.9L747.8 1445.5L748.5 1445L749.2 1444.6L750 1444.1L750.7 1443.6L751.5 1443.1L752.2 1442.7L752.9 1442.2L753.7 1441.7L754.4 1441.2L755.1 1440.8L755.9 1440.3L756.6 1439.8L757.3 1439.3L758.1 1438.8L758.8 1438.3L759.5 1437.8L760.3 1437.3L761 1436.8L761.7 1436.3L762.5 1435.9L763.2 1435.4L763.9 1434.9L764.7 1434.4L765.4 1433.8L766.1 1433.3L766.9 1432.8L767.6 1432.3L768.3 1431.8L769.1 1431.3L769.8 1430.8L770.5 1430.3L771.3 1429.8L772 1429.3L772.7 1428.7L773.5 1428.2L774.2 1427.7L774.9 1427.2L775.7 1426.7L776.4 1426.2L777.1 1425.6L777.9 1425.1L778.6 1424.6L779.3 1424.1L780.1 1423.5L780.8 1423L781.5 1422.5L782.3 1421.9L783 1421.4L783.7 1420.9L784.5 1420.3L785.2 1419.8L785.9 1419.3L786.7 1418.7L787.4 1418.2L788.1 1417.7L788.9 1417.1L789.6 1416.6L790.3 1416L791.1 1415.5L791.8 1414.9L792.5 1414.4L793.3 1413.8L794 1413.3L794.7 1412.8L795.5 1412.2L796.2 1411.7L796.9 1411.1L797.7 1410.6L798.4 1410L799.1 1409.4L799.9 1408.9L800.6 1408.3L801.3 1407.8L802.1 1407.2L802.8 1406.7L803.5 1406.1L804.3 1405.5L805 1405L805.7 1404.4L806.5 1403.9L807.2 1403.3L807.9 1402.7L808.7 1402.2L809.4 1401.6L810.1 1401L810.9 1400.5L811.6 1399.9L812.3 1399.3L813.1 1398.8L813.8 1398.2L814.5 1397.6L815.3 1397.1L816 1396.5L816.7 1395.9L817.5 1395.3L818.2 1394.8L818.9 1394.2L819.7 1393.6L820.4 1393L821.1 1392.4L821.9 1391.9L822.6 1391.3L823.3 1390.7L824.1 1390.1L824.8 1389.5L825.5 1389L826.3 1388.4L827 1387.8L827.7 1387.2L828.5 1386.6L829.2 1386L829.9 1385.4L830.7 1384.9L831.4 1384.3L832.1 1383.7L832.9 1383.1L833.6 1382.5L834.3 1381.9L835.1 1381.3L835.8 1380.7L836.5 1380.1L837.3 1379.5L838 1378.9L838.8 1378.3L839.5 1377.7L840.2 1377.1L841 1376.6L841.7 1376L842.4 1375.4L843.2 1374.8L843.9 1374.2L844.6 1373.5L845.4 1372.9L846.1 1372.3L846.8 1371.7L847.6 1371.1L848.3 1370.5L849 1369.9L849.8 1369.3L850.5 1368.7L851.2 1368.1L852 1367.5L852.7 1366.9L853.4 1366.3L854.2 1365.7L854.9 1365.1L855.6 1364.4L856.4 1363.8L857.1 1363.2L857.8 1362.6L858.6 1362L859.3 1361.4L860 1360.8L860.8 1360.2L861.5 1359.5L862.2 1358.9L863 1358.3L863.7 1357.7L864.4 1357.1L865.2 1356.4L865.9 1355.8L866.6 1355.2L867.4 1354.6L868.1 1354L868.8 1353.3L869.6 1352.7L870.3 1352.1L871 1351.5L871.8 1350.8L872.5 1350.2L873.2 1349.6L874 1349L874.7 1348.3L875.4 1347.7L876.2 1347.1L876.9 1346.4L877.6 1345.8L878.4 1345.2L879.1 1344.6L879.8 1343.9L880.6 1343.3L881.3 1342.7L882 1342L882.8 1341.4L883.5 1340.8L884.2 1340.1L885 1339.5L885.7 1338.9L886.4 1338.2L887.2 1337.6L887.9 1336.9L888.6 1336.3L889.4 1335.7L890.1 1335L890.8 1334.4L891.6 1333.7L892.3 1333.1L893 1332.5L893.8 1331.8L894.5 1331.2L895.2 1330.5L896 1329.9L896.7 1329.2L897.4 1328.6L898.2 1328L898.9 1327.3L899.6 1326.7L900.4 1326L901.1 1325.4L901.8 1324.7L902.6 1324.1L903.3 1323.4L904 1322.8L904.8 1322.1L905.5 1321.5L906.2 1320.8L907 1320.2L907.7 1319.5L908.4 1318.9L909.2 1318.2L909.9 1317.6L910.6 1316.9L911.4 1316.3L912.1 1315.6L912.8 1314.9L913.6 1314.3L914.3 1313.6L915 1313L915.8 1312.3L916.5 1311.7L917.2 1311L918 1310.4L918.7 1309.7L919.4 1309L920.2 1308.4L920.9 1307.7L921.6 1307.1L922.4 1306.4L923.1 1305.7L923.8 1305.1L924.6 1304.4L925.3 1303.7L926 1303.1L926.8 1302.4L927.5 1301.8L928.3 1301.1L929 1300.4L929.7 1299.8L930.5 1299.1L931.2 1298.4L931.9 1297.8L932.7 1297.1L933.4 1296.4L934.1 1295.8L934.9 1295.1L935.6 1294.4L936.3 1293.7L937.1 1293.1L937.8 1292.4L938.5 1291.7L939.3 1291.1L940 1290.4L940.7 1289.7L941.5 1289L942.2 1288.4L942.9 1287.7L943.7 1287L944.4 1286.4L945.1 1285.7L945.9 1285L946.6 1284.3L947.3 1283.7L948.1 1283L948.8 1282.3L949.5 1281.6L950.3 1281L951 1280.3L951.7 1279.6L952.5 1278.9L953.2 1278.2L953.9 1277.6L954.7 1276.9L955.4 1276.2L956.1 1275.5L956.9 1274.8L957.6 1274.2L958.3 1273.5L959.1 1272.8L959.8 1272.1L960.5 1271.4L961.3 1270.8L962 1270.1L962.7 1269.4L963.5 1268.7L964.2 1268L964.9 1267.3L965.7 1266.7L966.4 1266L967.1 1265.3L967.9 1264.6L968.6 1263.9L969.3 1263.2L970.1 1262.6L970.8 1261.9L971.5 1261.2L972.3 1260.5L973 1259.8L973.7 1259.1L974.5 1258.4L975.2 1257.7L975.9 1257.1L976.7 1256.4L977.4 1255.7L978.1 1255L978.9 1254.3L979.6 1253.6L980.3 1252.9L981.1 1252.2L981.8 1251.5L982.5 1250.9L983.3 1250.2L984 1249.5L984.7 1248.8L985.5 1248.1L986.2 1247.4L986.9 1246.7L987.7 1246L988.4 1245.3L989.1 1244.6L989.9 1243.9L990.6 1243.2L991.3 1242.5L992.1 1241.9L992.8 1241.2L993.5 1240.5L994.3 1239.8L995 1239.1L995.7 1238.4L996.5 1237.7L997.2 1237L997.9 1236.3L998.7 1235.6L999.4 1234.9L1000.1 1234.2L1000.9 1233.5L1001.6 1232.8L1002.3 1232.1L1003.1 1231.4L1003.8 1230.7L1004.5 1230L1005.3 1229.3L1006 1228.6L1006.7 1227.9L1007.5 1227.2L1008.2 1226.5L1008.9 1225.8L1009.7 1225.1L1010.4 1224.4L1011.1 1223.7L1011.9 1223.1L1012.6 1222.4L1013.3 1221.7L1014.1 1221L1014.8 1220.3L1015.6 1219.6L1016.3 1218.9L1017 1218.2L1017.8 1217.5L1018.5 1216.8L1019.2 1216.1L1020 1215.4L1020.7 1214.7L1021.4 1214L1022.2 1213.2L1022.9 1212.5L1023.6 1211.8L1024.4 1211.1L1025.1 1210.4L1025.8 1209.7L1026.6 1209L1027.3 1208.3L1028 1207.6L1028.8 1206.9L1029.5 1206.2L1030.2 1205.5L1031 1204.8L1031.7 1204.1L1032.4 1203.4L1033.2 1202.7L1033.9 1202L1034.6 1201.3L1035.4 1200.6L1036.1 1199.9L1036.8 1199.2L1037.6 1198.5L1038.3 1197.8L1039 1197.1L1039.8 1196.4L1040.5 1195.7L1041.2 1195L1042 1194.3L1042.7 1193.6L1043.4 1192.9L1044.2 1192.2L1044.9 1191.5L1045.6 1190.8L1046.4 1190.1L1047.1 1189.4L1047.8 1188.7L1048.6 1188L1049.3 1187.2L1050 1186.5L1050.8 1185.8L1051.5 1185.1L1052.2 1184.4L1053 1183.7L1053.7 1183L1054.4 1182.3L1055.2 1181.6L1055.9 1180.9L1056.6 1180.2L1057.4 1179.5L1058.1 1178.8" fill="none" stroke="#ff00ff" stroke-width="8.5" stroke-linejoin="round" stroke-dasharray="32 5 11 5"/>
<path d="M1163.3 408.5L2041.2 408.5" stroke="#000" stroke-width="7.5"/>
<path d="M1163.3 408.5L1164 408.2L1164.8 407.9L1165.5 407.5L1166.2 407.2L1167 406.9L1167.7 406.6L1168.4 406.3L1169.2 406L1169.9 405.6L1170.6 405.3L1171.4 405L1172.1 404.7L1172.8 404.4L1173.6 404.1L1174.3 403.7L1175 403.4L1175.7 403.1L1176.5 402.8L1177.2 402.5L1177.9 402.2L1178.7 401.9L1179.4 401.5L1180.1 401.2L1180.9 400.9L1181.6 400.6L1182.3 400.3L1183.1 400L1183.8 399.6L1184.5 399.3L1185.3 399L1186 398.7L1186.7 398.4L1187.5 398.1L1188.2 397.7L1188.9 397.4L1189.7 397.1L1190.4 396.8L1191.1 396.5L1191.9 396.2L1192.6 395.8L1193.3 395.5L1194.1 395.2L1194.8 394.9L1195.5 394.6L1196.2 394.3L1197 394L1197.7 393.6L1198.4 393.3L1199.2 393L1199.9 392.7L1200.6 392.4L1201.4 392.1L1202.1 391.7L1202.8 391.4L1203.6 391.1L1204.3 390.8L1205 390.5L1205.8 390.2L1206.5 389.9L1207.2 389.5L1208 389.2L1208.7 388.9L1209.4 388.6L1210.2 388.3L1210.9 388L1211.6 387.7L1212.4 387.4L1213.1 387L1213.8 386.7L1214.6 386.4L1215.3 386.1L1216 385.8L1216.8 385.5L1217.5 385.2L1218.2 384.8L1218.9 384.5L1219.7 384.2L1220.4 383.9L1221.1 383.6L1221.9 383.3L1222.6 383L1223.3 382.7L1224.1 382.3L1224.8 382L1225.5 381.7L1226.3 381.4L1227 381.1L1227.7 380.8L1228.5 380.5L1229.2 380.2L1229.9 379.9L1230.7 379.5L1231.4 379.2L1232.1 378.9L1232.9 378.6L1233.6 378.3L1234.3 378L1235.1 377.7L1235.8 377.4L1236.5 377.1L1237.3 376.8L1238 376.5L1238.7 376.1L1239.4 375.8L1240.2 375.5L1240.9 375.2L1241.6 374.9L1242.4 374.6L1243.1 374.3L1243.8 374L1244.6 373.7L1245.3 373.4L1246 373.1L1246.8 372.8L1247.5 372.4L1248.2 372.1L1249 371.8L1249.7 371.5L1250.4 371.2L1251.2 370.9L1251.9 370.6L1252.6 370.3L1253.4 370L1254.1 369.7L1254.8 369.4L1255.6 369.1L1256.3 368.8L1257 368.5L1257.8 368.2L1258.5 367.9L1259.2 367.6L1259.9 367.3L1260.7 367L1261.4 366.7L1262.1 366.3L1262.9 366L1263.6 365.7L1264.3 365.4L1265.1 365.1L1265.8 364.8L1266.5 364.5L1267.3 364.2L1268 363.9L1268.7 363.6L1269.5 363.3L1270.2 363L1270.9 362.7L1271.7 362.4L1272.4 362.1L1273.1 361.8L1273.9 361.5L1274.6 361.2L1275.3 360.9L1276.1 360.6L1276.8 360.3L1277.5 360L1278.3 359.7L1279 359.4L1279.7 359.1L1280.5 358.8L1281.2 358.6L1281.9 358.3L1282.6 358L1283.4 357.7L1284.1 357.4L1284.8 357.1L1285.6 356.8L1286.3 356.5L1287 356.2L1287.8 355.9L1288.5 355.6L1289.2 355.3L1290 355L1290.7 354.7L1291.4 354.4L1292.2 354.1L1292.9 353.8L1293.6 353.5L1294.4 353.3L1295.1 353L1295.8 352.7L1296.6 352.4L1297.3 352.1L1298 351.8L1298.8 351.5L1299.5 351.2L1300.2 350.9L1301 350.6L1301.7 350.4L1302.4 350.1L1303.1 349.8L1303.9 349.5L1304.6 349.2L1305.3 348.9L1306.1 348.6L1306.8 348.4L1307.5 348.1L1308.3 347.8L1309 347.5L1309.7 347.2L1310.5 346.9L1311.2 346.6L1311.9 346.4L1312.7 346.1L1313.4 345.8L1314.1 345.5L1314.9 345.2L1315.6 345L1316.3 344.7L1317.1 344.4L1317.8 344.1L1318.5 343.8L1319.3 343.5L1320 343.3L1320.7 343L1321.5 342.7L1322.2 342.4L1322.9 342.2L1323.7 341.9L1324.4 341.6L1325.1 341.3L1325.8 341.1L1326.6 340.8L1327.3 340.5L1328 340.2L1328.8 340L1329.5 339.7L1330.2 339.4L1331 339.1L1331.7 338.9L1332.4 338.6L1333.2 338.3L1333.9 338.1L1334.6 337.8L1335.4 337.5L1336.1 337.2L1336.8 337L1337.6 336.7L1338.3 336.4L1339 336.2L1339.8 335.9L1340.5 335.6L1341.2 335.4L1342 335.1L1342.7 334.8L1343.4 334.6L1344.2 334.3L1344.9 334.1L1345.6 333.8L1346.3 333.5L1347.1 333.3L1347.8 333L1348.5 332.8L1349.3 332.5L1350 332.2L1350.7 332L1351.5 331.7L1352.2 331.5L1352.9 331.2L1353.7 331L1354.4 330.7L1355.1 330.4L1355.9 330.2L1356.6 329.9L1357.3 329.7L1358.1 329.4L1358.8 329.2L1359.5 328.9L1360.3 328.7L1361 328.4L1361.7 328.2L1362.5 327.9L1363.2 327.7L1363.9 327.4L1364.7 327.2L1365.4 326.9L1366.1 326.7L1366.8 326.5L1367.6 326.2L1368.3 326L1369 325.7L1369.8 325.5L1370.5 325.2L1371.2 325L1372 324.8L1372.7 324.5L1373.4 324.3L1374.2 324.1L1374.9 323.8L1375.6 323.6L1376.4 323.4L1377.1 323.1L1377.8 322.9L1378.6 322.7L1379.3 322.4L1380 322.2L1380.8 322L1381.5 321.7L1382.2 321.5L1383 321.3L1383.7 321.1L1384.4 320.8L1385.2 320.6L1385.9 320.4L1386.6 320.2L1387.4 319.9L1388.1 319.7L1388.8 319.5L1389.5 319.3L1390.3 319.1L1391 318.9L1391.7 318.6L1392.5 318.4L1393.2 318.2L1393.9 318L1394.7 317.8L1395.4 317.6L1396.1 317.4L1396.9 317.2L1397.6 317L1398.3 316.7L1399.1 316.5L1399.8 316.3L1400.5 316.1L1401.3 315.9L1402 315.7L1402.7 315.5L1403.5 315.3L1404.2 315.1L1404.9 314.9L1405.7 314.8L1406.4 314.6L1407.1 314.4L1407.9 314.2L1408.6 314L1409.3 313.8L1410 313.6L1410.8 313.4L1411.5 313.2L1412.2 313.1L1413 312.9L1413.7 312.7L1414.4 312.5L1415.2 312.3L1415.9 312.2L1416.6 312L1417.4 311.8L1418.1 311.6L1418.8 311.5L1419.6 311.3L1420.3 311.1L1421 311L1421.8 310.8L1422.5 310.6L1423.2 310.5L1424 310.3L1424.7 310.2L1425.4 310L1426.2 309.8L1426.9 309.7L1427.6 309.5L1428.4 309.4L1429.1 309.2L1429.8 309.1L1430.6 309L1431.3 308.8L1432 308.7L1432.7 308.5L1433.5 308.4L1434.2 308.3L1434.9 308.1L1435.7 308L1436.4 307.9L1437.1 307.7L1437.9 307.6L1438.6 307.5L1439.3 307.4L1440.1 307.2L1440.8 307.1L1441.5 307L1442.3 306.9L1443 306.8L1443.7 306.7L1444.5 306.6L1445.2 306.5L1445.9 306.3L1446.7 306.2L1447.4 306.1L1448.1 306.1L1448.9 306L1449.6 305.9L1450.3 305.8L1451.1 305.7L1451.8 305.6L1452.5 305.5L1453.2 305.4L1454 305.4L1454.7 305.3L1455.4 305.2L1456.2 305.2L1456.9 305.1L1457.6 305L1458.4 305L1459.1 304.9L1459.8 304.9L1460.6 304.8L1461.3 304.7L1462 304.7L1462.8 304.7L1463.5 304.6L1464.2 304.6L1465 304.5L1465.7 304.5L1466.4 304.5L1467.2 304.5L1467.9 304.4L1468.6 304.4L1469.4 304.4L1470.1 304.4L1470.8 304.4L1471.6 304.4L1472.3 304.4L1473 304.4L1473.8 304.4L1474.5 304.4L1475.2 304.4L1475.9 304.4L1476.7 304.4L1477.4 304.5L1478.1 304.5L1478.9 304.5L1479.6 304.6L1480.3 304.6L1481.1 304.7L1481.8 304.7L1482.5 304.8L1483.3 304.8L1484 304.9L1484.7 304.9L1485.5 305L1486.2 305.1L1486.9 305.2L1487.7 305.2L1488.4 305.3L1489.1 305.4L1489.9 305.5L1490.6 305.6L1491.3 305.7L1492.1 305.8L1492.8 306L1493.5 306.1L1494.3 306.2L1495 306.3L1495.7 306.5L1496.4 306.6L1497.2 306.8L1497.9 306.9L1498.6 307.1L1499.4 307.2L1500.1 307.4L1500.8 307.6L1501.6 307.8L1502.3 307.9L1503 308.1L1503.8 308.3L1504.5 308.5L1505.2 308.8L1506 309L1506.7 309.2L1507.4 309.4L1508.2 309.7L1508.9 309.9L1509.6 310.1L1510.4 310.4L1511.1 310.7L1511.8 310.9L1512.6 311.2L1513.3 311.5L1514 311.8L1514.8 312.1L1515.5 312.4L1516.2 312.7L1516.9 313L1517.7 313.3L1518.4 313.7L1519.1 314L1519.9 314.3L1520.6 314.7L1521.3 315.1L1522.1 315.4L1522.8 315.8L1523.5 316.2L1524.3 316.6L1525 317L1525.7 317.4L1526.5 317.8L1527.2 318.2L1527.9 318.7L1528.7 319.1L1529.4 319.6L1530.1 320L1530.9 320.5L1531.6 321L1532.3 321.5L1533.1 321.9L1533.8 322.5L1534.5 323L1535.3 323.5L1536 324L1536.7 324.6L1537.5 325.1L1538.2 325.7L1538.9 326.2L1539.6 326.8L1540.4 327.4L1541.1 328L1541.8 328.6L1542.6 329.2L1543.3 329.8L1544 330.5L1544.8 331.1L1545.5 331.7L1546.2 332.4L1547 333.1L1547.7 333.8L1548.4 334.5L1549.2 335.2L1549.9 335.9L1550.6 336.6L1551.4 337.3L1552.1 338.1L1552.8 338.8L1553.6 339.6L1554.3 340.3L1555 341.1L1555.8 341.9L1556.5 342.7L1557.2 343.5L1558 344.3L1558.7 345.2L1559.4 346L1560.1 346.8L1560.9 347.7L1561.6 348.6L1562.3 349.4L1563.1 350.3L1563.8 351.2L1564.5 352.1L1565.3 353L1566 354L1566.7 354.9L1567.5 355.8L1568.2 356.8L1568.9 357.8L1569.7 358.7L1570.4 359.7L1571.1 360.7L1571.9 361.7L1572.6 362.7L1573.3 363.7L1574.1 364.7L1574.8 365.8L1575.5 366.8L1576.3 367.8L1577 368.9L1577.7 369.9L1578.5 371L1579.2 372.1L1579.9 373.2L1580.7 374.3L1581.4 375.4L1582.1 376.5L1582.8 377.6L1583.6 378.7L1584.3 379.8L1585 380.9L1585.8 382.1L1586.5 383.2L1587.2 384.3L1588 385.5L1588.7 386.6L1589.4 387.8L1590.2 388.9L1590.9 390.1L1591.6 391.3L1592.4 392.4L1593.1 393.6L1593.8 394.8L1594.6 396L1595.3 397.2L1596 398.4L1596.8 399.5L1597.5 400.7L1598.2 401.9L1599 403.1L1599.7 404.3L1600.4 405.5L1601.2 406.7L1601.9 407.9L1602.6 409.1L1603.3 410.3L1604.1 411.5L1604.8 412.7L1605.5 413.9L1606.3 415.1L1607 416.3L1607.7 417.5L1608.5 418.6L1609.2 419.8L1609.9 421L1610.7 422.2L1611.4 423.4L1612.1 424.6L1612.9 425.7L1613.6 426.9L1614.3 428.1L1615.1 429.2L1615.8 430.4L1616.5 431.5L1617.3 432.7L1618 433.8L1618.7 434.9L1619.5 436.1L1620.2 437.2L1620.9 438.3L1621.7 439.4L1622.4 440.5L1623.1 441.6L1623.8 442.7L1624.6 443.8L1625.3 444.9L1626 446L1626.8 447.1L1627.5 448.1L1628.2 449.2L1629 450.2L1629.7 451.2L1630.4 452.3L1631.2 453.3L1631.9 454.3L1632.6 455.3L1633.4 456.3L1634.1 457.3L1634.8 458.3L1635.6 459.2L1636.3 460.2L1637 461.2L1637.8 462.1L1638.5 463L1639.2 464L1640 464.9L1640.7 465.8L1641.4 466.7L1642.2 467.6L1642.9 468.4L1643.6 469.3L1644.4 470.2L1645.1 471L1645.8 471.8L1646.5 472.7L1647.3 473.5L1648 474.3L1648.7 475.1L1649.5 475.9L1650.2 476.7L1650.9 477.4L1651.7 478.2L1652.4 478.9L1653.1 479.7L1653.9 480.4L1654.6 481.1L1655.3 481.8L1656.1 482.5L1656.8 483.2L1657.5 483.9L1658.3 484.6L1659 485.3L1659.7 485.9L1660.5 486.5L1661.2 487.2L1661.9 487.8L1662.7 488.4L1663.4 489L1664.1 489.6L1664.9 490.2L1665.6 490.8L1666.3 491.3L1667 491.9L1667.8 492.4L1668.5 493L1669.2 493.5L1670 494L1670.7 494.5L1671.4 495.1L1672.2 495.5L1672.9 496L1673.6 496.5L1674.4 497L1675.1 497.4L1675.8 497.9L1676.6 498.3L1677.3 498.8L1678 499.2L1678.8 499.6L1679.5 500L1680.2 500.4L1681 500.8L1681.7 501.2L1682.4 501.6L1683.2 501.9L1683.9 502.3L1684.6 502.7L1685.4 503L1686.1 503.3L1686.8 503.7L1687.6 504L1688.3 504.3L1689 504.6L1689.7 504.9L1690.5 505.2L1691.2 505.5L1691.9 505.8L1692.7 506.1L1693.4 506.3L1694.1 506.6L1694.9 506.9L1695.6 507.1L1696.3 507.3L1697.1 507.6L1697.8 507.8L1698.5 508L1699.3 508.2L1700 508.5L1700.7 508.7L1701.5 508.9L1702.2 509.1L1702.9 509.2L1703.7 509.4L1704.4 509.6L1705.1 509.8L1705.9 509.9L1706.6 510.1L1707.3 510.2L1708.1 510.4L1708.8 510.5L1709.5 510.7L1710.2 510.8L1711 510.9L1711.7 511L1712.4 511.2L1713.2 511.3L1713.9 511.4L1714.6 511.5L1715.4 511.6L1716.1 511.7L1716.8 511.8L1717.6 511.8L1718.3 511.9L1719 512L1719.8 512.1L1720.5 512.1L1721.2 512.2L1722 512.2L1722.7 512.3L1723.4 512.3L1724.2 512.4L1724.9 512.4L1725.6 512.5L1726.4 512.5L1727.1 512.5L1727.8 512.6L1728.6 512.6L1729.3 512.6L1730 512.6L1730.7 512.6L1731.5 512.6L1732.2 512.6L1732.9 512.6L1733.7 512.6L1734.4 512.6L1735.1 512.6L1735.9 512.6L1736.6 512.6L1737.3 512.5L1738.1 512.5L1738.8 512.5L1739.5 512.5L1740.3 512.4L1741 512.4L1741.7 512.3L1742.5 512.3L1743.2 512.3L1743.9 512.2L1744.7 512.1L1745.4 512.1L1746.1 512L1746.9 512L1747.6 511.9L1748.3 511.8L1749.1 511.8L1749.8 511.7L1750.5 511.6L1751.3 511.6L1752 511.5L1752.7 511.4L1753.4 511.3L1754.2 511.2L1754.9 511.1L1755.6 511L1756.4 510.9L1757.1 510.9L1757.8 510.8L1758.6 510.7L1759.3 510.5L1760 510.4L1760.8 510.3L1761.5 510.2L1762.2 510.1L1763 510L1763.7 509.9L1764.4 509.8L1765.2 509.6L1765.9 509.5L1766.6 509.4L1767.4 509.3L1768.1 509.1L1768.8 509L1769.6 508.9L1770.3 508.7L1771 508.6L1771.8 508.5L1772.5 508.3L1773.2 508.2L1773.9 508L1774.7 507.9L1775.4 507.8L1776.1 507.6L1776.9 507.5L1777.6 507.3L1778.3 507.2L1779.1 507L1779.8 506.8L1780.5 506.7L1781.3 506.5L1782 506.4L1782.7 506.2L1783.5 506L1784.2 505.9L1784.9 505.7L1785.7 505.5L1786.4 505.4L1787.1 505.2L1787.9 505L1788.6 504.8L1789.3 504.7L1790.1 504.5L1790.8 504.3L1791.5 504.1L1792.3 503.9L1793 503.8L1793.7 503.6L1794.5 503.4L1795.2 503.2L1795.9 503L1796.6 502.8L1797.4 502.6L1798.1 502.4L1798.8 502.2L1799.6 502.1L1800.3 501.9L1801 501.7L1801.8 501.5L1802.5 501.3L1803.2 501.1L1804 500.9L1804.7 500.7L1805.4 500.5L1806.2 500.3L1806.9 500L1807.6 499.8L1808.4 499.6L1809.1 499.4L1809.8 499.2L1810.6 499L1811.3 498.8L1812 498.6L1812.8 498.4L1813.5 498.1L1814.2 497.9L1815 497.7L1815.7 497.5L1816.4 497.3L1817.1 497.1L1817.9 496.8L1818.6 496.6L1819.3 496.4L1820.1 496.2L1820.8 495.9L1821.5 495.7L1822.3 495.5L1823 495.3L1823.7 495L1824.5 494.8L1825.2 494.6L1825.9 494.3L1826.7 494.1L1827.4 493.9L1828.1 493.6L1828.9 493.4L1829.6 493.2L1830.3 492.9L1831.1 492.7L1831.8 492.5L1832.5 492.2L1833.3 492L1834 491.8L1834.7 491.5L1835.5 491.3L1836.2 491L1836.9 490.8L1837.7 490.5L1838.4 490.3L1839.1 490.1L1839.8 489.8L1840.6 489.6L1841.3 489.3L1842 489.1L1842.8 488.8L1843.5 488.6L1844.2 488.3L1845 488.1L1845.7 487.8L1846.4 487.6L1847.2 487.3L1847.9 487.1L1848.6 486.8L1849.4 486.6L1850.1 486.3L1850.8 486L1851.6 485.8L1852.3 485.5L1853 485.3L1853.8 485L1854.5 484.8L1855.2 484.5L1856 484.2L1856.7 484L1857.4 483.7L1858.2 483.5L1858.9 483.2L1859.6 482.9L1860.3 482.7L1861.1 482.4L1861.8 482.2L1862.5 481.9L1863.3 481.6L1864 481.4L1864.7 481.1L1865.5 480.8L1866.2 480.6L1866.9 480.3L1867.7 480L1868.4 479.8L1869.1 479.5L1869.9 479.2L1870.6 478.9L1871.3 478.7L1872.1 478.4L1872.8 478.1L1873.5 477.9L1874.3 477.6L1875 477.3L1875.7 477L1876.5 476.8L1877.2 476.5L1877.9 476.2L1878.7 475.9L1879.4 475.7L1880.1 475.4L1880.8 475.1L1881.6 474.8L1882.3 474.6L1883 474.3L1883.8 474L1884.5 473.7L1885.2 473.5L1886 473.2L1886.7 472.9L1887.4 472.6L1888.2 472.3L1888.9 472L1889.6 471.8L1890.4 471.5L1891.1 471.2L1891.8 470.9L1892.6 470.6L1893.3 470.4L1894 470.1L1894.8 469.8L1895.5 469.5L1896.2 469.2L1897 468.9L1897.7 468.6L1898.4 468.4L1899.2 468.1L1899.9 467.8L1900.6 467.5L1901.4 467.2L1902.1 466.9L1902.8 466.6L1903.5 466.4L1904.3 466.1L1905 465.8L1905.7 465.5L1906.5 465.2L1907.2 464.9L1907.9 464.6L1908.7 464.3L1909.4 464L1910.1 463.7L1910.9 463.5L1911.6 463.2L1912.3 462.9L1913.1 462.6L1913.8 462.3L1914.5 462L1915.3 461.7L1916 461.4L1916.7 461.1L1917.5 460.8L1918.2 460.5L1918.9 460.2L1919.7 459.9L1920.4 459.6L1921.1 459.3L1921.9 459L1922.6 458.7L1923.3 458.4L1924 458.2L1924.8 457.9L1925.5 457.6L1926.2 457.3L1927 457L1927.7 456.7L1928.4 456.4L1929.2 456.1L1929.9 455.8L1930.6 455.5L1931.4 455.2L1932.1 454.9L1932.8 454.6L1933.6 454.3L1934.3 454L1935 453.7L1935.8 453.4L1936.5 453.1L1937.2 452.8L1938 452.5L1938.7 452.2L1939.4 451.9L1940.2 451.6L1940.9 451.3L1941.6 451L1942.4 450.7L1943.1 450.3L1943.8 450L1944.6 449.7L1945.3 449.4L1946 449.1L1946.7 448.8L1947.5 448.5L1948.2 448.2L1948.9 447.9L1949.7 447.6L1950.4 447.3L1951.1 447L1951.9 446.7L1952.6 446.4L1953.3 446.1L1954.1 445.8L1954.8 445.5L1955.5 445.2L1956.3 444.9L1957 444.6L1957.7 444.2L1958.5 443.9L1959.2 443.6L1959.9 443.3L1960.7 443L1961.4 442.7L1962.1 442.4L1962.9 442.1L1963.6 441.8L1964.3 441.5L1965.1 441.2L1965.8 440.9L1966.5 440.5L1967.2 440.2L1968 439.9L1968.7 439.6L1969.4 439.3L1970.2 439L1970.9 438.7L1971.6 438.4L1972.4 438.1L1973.1 437.8L1973.8 437.5L1974.6 437.1L1975.3 436.8L1976 436.5L1976.8 436.2L1977.5 435.9L1978.2 435.6L1979 435.3L1979.7 435L1980.4 434.7L1981.2 434.3L1981.9 434L1982.6 433.7L1983.4 433.4L1984.1 433.1L1984.8 432.8L1985.6 432.5L1986.3 432.2L1987 431.8L1987.7 431.5L1988.5 431.2L1989.2 430.9L1989.9 430.6L1990.7 430.3L1991.4 430L1992.1 429.6L1992.9 429.3L1993.6 429L1994.3 428.7L1995.1 428.4L1995.8 428.1L1996.5 427.8L1997.3 427.5L1998 427.1L1998.7 426.8L1999.5 426.5L2000.2 426.2L2000.9 425.9L2001.7 425.6L2002.4 425.3L2003.1 424.9L2003.9 424.6L2004.6 424.3L2005.3 424L2006.1 423.7L2006.8 423.4L2007.5 423L2008.3 422.7L2009 422.4L2009.7 422.1L2010.4 421.8L2011.2 421.5L2011.9 421.2L2012.6 420.8L2013.4 420.5L2014.1 420.2L2014.8 419.9L2015.6 419.6L2016.3 419.3L2017 418.9L2017.8 418.6L2018.5 418.3L2019.2 418L2020 417.7L2020.7 417.4L2021.4 417L2022.2 416.7L2022.9 416.4L2023.6 416.1L2024.4 415.8L2025.1 415.5L2025.8 415.1L2026.6 414.8L2027.3 414.5L2028 414.2L2028.8 413.9L2029.5 413.6L2030.2 413.3L2030.9 412.9L2031.7 412.6L2032.4 412.3L2033.1 412L2033.9 411.7L2034.6 411.4L2035.3 411L2036.1 410.7L2036.8 410.4L2037.5 410.1L2038.3 409.8L2039 409.5L2039.7 409.1L2040.5 408.8L2041.2 408.5" fill="none" stroke="#ff0000" stroke-width="8.5" stroke-linejoin="round" stroke-dasharray="30 16"/>
<path d="M1163.3 408.5L1164 408L1164.8 407.6L1165.5 407.1L1166.2 406.6L1167 406.1L1167.7 405.7L1168.4 405.2L1169.2 404.7L1169.9 404.3L1170.6 403.8L1171.4 403.3L1172.1 402.8L1172.8 402.4L1173.6 401.9L1174.3 401.4L1175 400.9L1175.7 400.5L1176.5 400L1177.2 399.5L1177.9 399.1L1178.7 398.6L1179.4 398.1L1180.1 397.6L1180.9 397.2L1181.6 396.7L1182.3 396.2L1183.1 395.8L1183.8 395.3L1184.5 394.8L1185.3 394.3L1186 393.9L1186.7 393.4L1187.5 392.9L1188.2 392.5L1188.9 392L1189.7 391.5L1190.4 391L1191.1 390.6L1191.9 390.1L1192.6 389.6L1193.3 389.2L1194.1 388.7L1194.8 388.2L1195.5 387.8L1196.2 387.3L1197 386.8L1197.7 386.3L1198.4 385.9L1199.2 385.4L1199.9 384.9L1200.6 384.5L1201.4 384L1202.1 383.5L1202.8 383L1203.6 382.6L1204.3 382.1L1205 381.6L1205.8 381.2L1206.5 380.7L1207.2 380.2L1208 379.8L1208.7 379.3L1209.4 378.8L1210.2 378.4L1210.9 377.9L1211.6 377.4L1212.4 377L1213.1 376.5L1213.8 376L1214.6 375.5L1215.3 375.1L1216 374.6L1216.8 374.1L1217.5 373.7L1218.2 373.2L1218.9 372.7L1219.7 372.3L1220.4 371.8L1221.1 371.3L1221.9 370.9L1222.6 370.4L1223.3 369.9L1224.1 369.5L1224.8 369L1225.5 368.5L1226.3 368.1L1227 367.6L1227.7 367.1L1228.5 366.7L1229.2 366.2L1229.9 365.7L1230.7 365.3L1231.4 364.8L1232.1 364.3L1232.9 363.9L1233.6 363.4L1234.3 363L1235.1 362.5L1235.8 362L1236.5 361.6L1237.3 361.1L1238 360.6L1238.7 360.2L1239.4 359.7L1240.2 359.2L1240.9 358.8L1241.6 358.3L1242.4 357.9L1243.1 357.4L1243.8 356.9L1244.6 356.5L1245.3 356L1246 355.5L1246.8 355.1L1247.5 354.6L1248.2 354.2L1249 353.7L1249.7 353.2L1250.4 352.8L1251.2 352.3L1251.9 351.9L1252.6 351.4L1253.4 350.9L1254.1 350.5L1254.8 350L1255.6 349.6L1256.3 349.1L1257 348.6L1257.8 348.2L1258.5 347.7L1259.2 347.3L1259.9 346.8L1260.7 346.4L1261.4 345.9L1262.1 345.4L1262.9 345L1263.6 344.5L1264.3 344.1L1265.1 343.6L1265.8 343.2L1266.5 342.7L1267.3 342.2L1268 341.8L1268.7 341.3L1269.5 340.9L1270.2 340.4L1270.9 340L1271.7 339.5L1272.4 339.1L1273.1 338.6L1273.9 338.1L1274.6 337.7L1275.3 337.2L1276.1 336.8L1276.8 336.3L1277.5 335.9L1278.3 335.4L1279 335L1279.7 334.5L1280.5 334.1L1281.2 333.6L1281.9 333.2L1282.6 332.7L1283.4 332.3L1284.1 331.8L1284.8 331.4L1285.6 330.9L1286.3 330.5L1287 330L1287.8 329.6L1288.5 329.1L1289.2 328.7L1290 328.2L1290.7 327.8L1291.4 327.3L1292.2 326.9L1292.9 326.4L1293.6 326L1294.4 325.5L1295.1 325.1L1295.8 324.7L1296.6 324.2L1297.3 323.8L1298 323.3L1298.8 322.9L1299.5 322.4L1300.2 322L1301 321.5L1301.7 321.1L1302.4 320.7L1303.1 320.2L1303.9 319.8L1304.6 319.3L1305.3 318.9L1306.1 318.4L1306.8 318L1307.5 317.6L1308.3 317.1L1309 316.7L1309.7 316.2L1310.5 315.8L1311.2 315.4L1311.9 314.9L1312.7 314.5L1313.4 314L1314.1 313.6L1314.9 313.2L1315.6 312.7L1316.3 312.3L1317.1 311.9L1317.8 311.4L1318.5 311L1319.3 310.6L1320 310.1L1320.7 309.7L1321.5 309.2L1322.2 308.8L1322.9 308.4L1323.7 307.9L1324.4 307.5L1325.1 307.1L1325.8 306.6L1326.6 306.2L1327.3 305.8L1328 305.3L1328.8 304.9L1329.5 304.5L1330.2 304.1L1331 303.6L1331.7 303.2L1332.4 302.8L1333.2 302.3L1333.9 301.9L1334.6 301.5L1335.4 301.1L1336.1 300.6L1336.8 300.2L1337.6 299.8L1338.3 299.3L1339 298.9L1339.8 298.5L1340.5 298.1L1341.2 297.6L1342 297.2L1342.7 296.8L1343.4 296.4L1344.2 295.9L1344.9 295.5L1345.6 295.1L1346.3 294.7L1347.1 294.3L1347.8 293.8L1348.5 293.4L1349.3 293L1350 292.6L1350.7 292.2L1351.5 291.7L1352.2 291.3L1352.9 290.9L1353.7 290.5L1354.4 290.1L1355.1 289.6L1355.9 289.2L1356.6 288.8L1357.3 288.4L1358.1 288L1358.8 287.6L1359.5 287.2L1360.3 286.7L1361 286.3L1361.7 285.9L1362.5 285.5L1363.2 285.1L1363.9 284.7L1364.7 284.3L1365.4 283.8L1366.1 283.4L1366.8 283L1367.6 282.6L1368.3 282.2L1369 281.8L1369.8 281.4L1370.5 281L1371.2 280.6L1372 280.2L1372.7 279.8L1373.4 279.4L1374.2 279L1374.9 278.5L1375.6 278.1L1376.4 277.7L1377.1 277.3L1377.8 276.9L1378.6 276.5L1379.3 276.1L1380 275.7L1380.8 275.3L1381.5 274.9L1382.2 274.5L1383 274.1L1383.7 273.7L1384.4 273.3L1385.2 272.9L1385.9 272.5L1386.6 272.1L1387.4 271.7L1388.1 271.3L1388.8 270.9L1389.5 270.6L1390.3 270.2L1391 269.8L1391.7 269.4L1392.5 269L1393.2 268.6L1393.9 268.2L1394.7 267.8L1395.4 267.4L1396.1 267L1396.9 266.6L1397.6 266.2L1398.3 265.9L1399.1 265.5L1399.8 265.1L1400.5 264.7L1401.3 264.3L1402 263.9L1402.7 263.5L1403.5 263.2L1404.2 262.8L1404.9 262.4L1405.7 262L1406.4 261.6L1407.1 261.2L1407.9 260.9L1408.6 260.5L1409.3 260.1L1410 259.7L1410.8 259.3L1411.5 259L1412.2 258.6L1413 258.2L1413.7 257.8L1414.4 257.5L1415.2 257.1L1415.9 256.7L1416.6 256.4L1417.4 256L1418.1 255.6L1418.8 255.2L1419.6 254.9L1420.3 254.5L1421 254.1L1421.8 253.8L1422.5 253.4L1423.2 253L1424 252.7L1424.7 252.3L1425.4 251.9L1426.2 251.6L1426.9 251.2L1427.6 250.9L1428.4 250.5L1429.1 250.1L1429.8 249.8L1430.6 249.4L1431.3 249.1L1432 248.7L1432.7 248.4L1433.5 248L1434.2 247.6L1434.9 247.3L1435.7 246.9L1436.4 246.6L1437.1 246.2L1437.9 245.9L1438.6 245.5L1439.3 245.2L1440.1 244.8L1440.8 244.5L1441.5 244.2L1442.3 243.8L1443 243.5L1443.7 243.1L1444.5 242.8L1445.2 242.5L1445.9 242.1L1446.7 241.8L1447.4 241.4L1448.1 241.1L1448.9 240.8L1449.6 240.4L1450.3 240.1L1451.1 239.8L1451.8 239.5L1452.5 239.1L1453.2 238.8L1454 238.5L1454.7 238.1L1455.4 237.8L1456.2 237.5L1456.9 237.2L1457.6 236.9L1458.4 236.5L1459.1 236.2L1459.8 235.9L1460.6 235.6L1461.3 235.3L1462 235L1462.8 234.7L1463.5 234.4L1464.2 234.1L1465 233.8L1465.7 233.5L1466.4 233.2L1467.2 232.9L1467.9 232.6L1468.6 232.3L1469.4 232L1470.1 231.7L1470.8 231.4L1471.6 231.1L1472.3 230.8L1473 230.5L1473.8 230.2L1474.5 230L1475.2 229.7L1475.9 229.4L1476.7 229.1L1477.4 228.9L1478.1 228.6L1478.9 228.3L1479.6 228L1480.3 227.8L1481.1 227.5L1481.8 227.3L1482.5 227L1483.3 226.8L1484 226.5L1484.7 226.3L1485.5 226L1486.2 225.8L1486.9 225.5L1487.7 225.3L1488.4 225.1L1489.1 224.8L1489.9 224.6L1490.6 224.4L1491.3 224.1L1492.1 223.9L1492.8 223.7L1493.5 223.5L1494.3 223.3L1495 223.1L1495.7 222.9L1496.4 222.7L1497.2 222.5L1497.9 222.3L1498.6 222.1L1499.4 221.9L1500.1 221.8L1500.8 221.6L1501.6 221.4L1502.3 221.3L1503 221.1L1503.8 221L1504.5 220.8L1505.2 220.7L1506 220.5L1506.7 220.4L1507.4 220.3L1508.2 220.1L1508.9 220L1509.6 219.9L1510.4 219.8L1511.1 219.7L1511.8 219.6L1512.6 219.5L1513.3 219.5L1514 219.4L1514.8 219.3L1515.5 219.3L1516.2 219.2L1516.9 219.2L1517.7 219.1L1518.4 219.1L1519.1 219.1L1519.9 219.1L1520.6 219.1L1521.3 219.1L1522.1 219.1L1522.8 219.2L1523.5 219.2L1524.3 219.3L1525 219.3L1525.7 219.4L1526.5 219.5L1527.2 219.6L1527.9 219.7L1528.7 219.8L1529.4 219.9L1530.1 220.1L1530.9 220.2L1531.6 220.4L1532.3 220.6L1533.1 220.8L1533.8 221L1534.5 221.2L1535.3 221.5L1536 221.7L1536.7 222L1537.5 222.3L1538.2 222.6L1538.9 223L1539.6 223.3L1540.4 223.7L1541.1 224.1L1541.8 224.5L1542.6 224.9L1543.3 225.4L1544 225.9L1544.8 226.4L1545.5 226.9L1546.2 227.5L1547 228L1547.7 228.6L1548.4 229.3L1549.2 229.9L1549.9 230.6L1550.6 231.3L1551.4 232.1L1552.1 232.9L1552.8 233.7L1553.6 234.5L1554.3 235.4L1555 236.3L1555.8 237.3L1556.5 238.3L1557.2 239.3L1558 240.4L1558.7 241.5L1559.4 242.6L1560.1 243.8L1560.9 245.1L1561.6 246.4L1562.3 247.7L1563.1 249.1L1563.8 250.5L1564.5 252L1565.3 253.5L1566 255.1L1566.7 256.7L1567.5 258.4L1568.2 260.1L1568.9 261.9L1569.7 263.8L1570.4 265.7L1571.1 267.7L1571.9 269.7L1572.6 271.8L1573.3 274L1574.1 276.2L1574.8 278.5L1575.5 280.8L1576.3 283.3L1577 285.7L1577.7 288.3L1578.5 290.9L1579.2 293.6L1579.9 296.4L1580.7 299.2L1581.4 302.1L1582.1 305.1L1582.8 308.1L1583.6 311.2L1584.3 314.4L1585 317.6L1585.8 320.9L1586.5 324.3L1587.2 327.7L1588 331.2L1588.7 334.8L1589.4 338.4L1590.2 342.1L1590.9 345.8L1591.6 349.6L1592.4 353.4L1593.1 357.3L1593.8 361.2L1594.6 365.2L1595.3 369.2L1596 373.2L1596.8 377.3L1597.5 381.4L1598.2 385.5L1599 389.7L1599.7 393.8L1600.4 398L1601.2 402.2L1601.9 406.4L1602.6 410.6L1603.3 414.8L1604.1 419L1604.8 423.2L1605.5 427.3L1606.3 431.5L1607 435.6L1607.7 439.7L1608.5 443.8L1609.2 447.8L1609.9 451.8L1610.7 455.8L1611.4 459.7L1612.1 463.6L1612.9 467.4L1613.6 471.2L1614.3 474.9L1615.1 478.6L1615.8 482.2L1616.5 485.8L1617.3 489.3L1618 492.7L1618.7 496.1L1619.5 499.4L1620.2 502.6L1620.9 505.8L1621.7 508.9L1622.4 511.9L1623.1 514.9L1623.8 517.8L1624.6 520.6L1625.3 523.4L1626 526.1L1626.8 528.7L1627.5 531.3L1628.2 533.7L1629 536.2L1629.7 538.5L1630.4 540.8L1631.2 543L1631.9 545.2L1632.6 547.3L1633.4 549.3L1634.1 551.3L1634.8 553.2L1635.6 555.1L1636.3 556.9L1637 558.6L1637.8 560.3L1638.5 561.9L1639.2 563.5L1640 565L1640.7 566.5L1641.4 567.9L1642.2 569.3L1642.9 570.6L1643.6 571.9L1644.4 573.2L1645.1 574.4L1645.8 575.5L1646.5 576.6L1647.3 577.7L1648 578.7L1648.7 579.7L1649.5 580.7L1650.2 581.6L1650.9 582.5L1651.7 583.3L1652.4 584.1L1653.1 584.9L1653.9 585.7L1654.6 586.4L1655.3 587.1L1656.1 587.7L1656.8 588.4L1657.5 589L1658.3 589.5L1659 590.1L1659.7 590.6L1660.5 591.1L1661.2 591.6L1661.9 592.1L1662.7 592.5L1663.4 592.9L1664.1 593.3L1664.9 593.7L1665.6 594L1666.3 594.4L1667 594.7L1667.8 595L1668.5 595.3L1669.2 595.5L1670 595.8L1670.7 596L1671.4 596.2L1672.2 596.4L1672.9 596.6L1673.6 596.8L1674.4 596.9L1675.1 597.1L1675.8 597.2L1676.6 597.3L1677.3 597.4L1678 597.5L1678.8 597.6L1679.5 597.7L1680.2 597.7L1681 597.8L1681.7 597.8L1682.4 597.9L1683.2 597.9L1683.9 597.9L1684.6 597.9L1685.4 597.9L1686.1 597.9L1686.8 597.9L1687.6 597.8L1688.3 597.8L1689 597.7L1689.7 597.7L1690.5 597.6L1691.2 597.5L1691.9 597.5L1692.7 597.4L1693.4 597.3L1694.1 597.2L1694.9 597.1L1695.6 597L1696.3 596.9L1697.1 596.7L1697.8 596.6L1698.5 596.5L1699.3 596.3L1700 596.2L1700.7 596L1701.5 595.9L1702.2 595.7L1702.9 595.6L1703.7 595.4L1704.4 595.2L1705.1 595.1L1705.9 594.9L1706.6 594.7L1707.3 594.5L1708.1 594.3L1708.8 594.1L1709.5 593.9L1710.2 593.7L1711 593.5L1711.7 593.3L1712.4 593.1L1713.2 592.9L1713.9 592.6L1714.6 592.4L1715.4 592.2L1716.1 591.9L1716.8 591.7L1717.6 591.5L1718.3 591.2L1719 591L1719.8 590.7L1720.5 590.5L1721.2 590.2L1722 590L1722.7 589.7L1723.4 589.5L1724.2 589.2L1724.9 589L1725.6 588.7L1726.4 588.4L1727.1 588.1L1727.8 587.9L1728.6 587.6L1729.3 587.3L1730 587L1730.7 586.8L1731.5 586.5L1732.2 586.2L1732.9 585.9L1733.7 585.6L1734.4 585.3L1735.1 585L1735.9 584.7L1736.6 584.4L1737.3 584.1L1738.1 583.8L1738.8 583.5L1739.5 583.2L1740.3 582.9L1741 582.6L1741.7 582.3L1742.5 582L1743.2 581.7L1743.9 581.4L1744.7 581.1L1745.4 580.8L1746.1 580.5L1746.9 580.1L1747.6 579.8L1748.3 579.5L1749.1 579.2L1749.8 578.9L1750.5 578.5L1751.3 578.2L1752 577.9L1752.7 577.5L1753.4 577.2L1754.2 576.9L1754.9 576.6L1755.6 576.2L1756.4 575.9L1757.1 575.6L1757.8 575.2L1758.6 574.9L1759.3 574.5L1760 574.2L1760.8 573.9L1761.5 573.5L1762.2 573.2L1763 572.8L1763.7 572.5L1764.4 572.2L1765.2 571.8L1765.9 571.5L1766.6 571.1L1767.4 570.8L1768.1 570.4L1768.8 570.1L1769.6 569.7L1770.3 569.4L1771 569L1771.8 568.6L1772.5 568.3L1773.2 567.9L1773.9 567.6L1774.7 567.2L1775.4 566.9L1776.1 566.5L1776.9 566.1L1777.6 565.8L1778.3 565.4L1779.1 565.1L1779.8 564.7L1780.5 564.3L1781.3 564L1782 563.6L1782.7 563.2L1783.5 562.9L1784.2 562.5L1784.9 562.1L1785.7 561.8L1786.4 561.4L1787.1 561L1787.9 560.6L1788.6 560.3L1789.3 559.9L1790.1 559.5L1790.8 559.2L1791.5 558.8L1792.3 558.4L1793 558L1793.7 557.7L1794.5 557.3L1795.2 556.9L1795.9 556.5L1796.6 556.1L1797.4 555.8L1798.1 555.4L1798.8 555L1799.6 554.6L1800.3 554.2L1801 553.8L1801.8 553.5L1802.5 553.1L1803.2 552.7L1804 552.3L1804.7 551.9L1805.4 551.5L1806.2 551.1L1806.9 550.8L1807.6 550.4L1808.4 550L1809.1 549.6L1809.8 549.2L1810.6 548.8L1811.3 548.4L1812 548L1812.8 547.6L1813.5 547.2L1814.2 546.8L1815 546.4L1815.7 546.1L1816.4 545.7L1817.1 545.3L1817.9 544.9L1818.6 544.5L1819.3 544.1L1820.1 543.7L1820.8 543.3L1821.5 542.9L1822.3 542.5L1823 542.1L1823.7 541.7L1824.5 541.3L1825.2 540.9L1825.9 540.5L1826.7 540.1L1827.4 539.7L1828.1 539.3L1828.9 538.9L1829.6 538.5L1830.3 538L1831.1 537.6L1831.8 537.2L1832.5 536.8L1833.3 536.4L1834 536L1834.7 535.6L1835.5 535.2L1836.2 534.8L1836.9 534.4L1837.7 534L1838.4 533.6L1839.1 533.2L1839.8 532.7L1840.6 532.3L1841.3 531.9L1842 531.5L1842.8 531.1L1843.5 530.7L1844.2 530.3L1845 529.8L1845.7 529.4L1846.4 529L1847.2 528.6L1847.9 528.2L1848.6 527.8L1849.4 527.4L1850.1 526.9L1850.8 526.5L1851.6 526.1L1852.3 525.7L1853 525.3L1853.8 524.8L1854.5 524.4L1855.2 524L1856 523.6L1856.7 523.2L1857.4 522.7L1858.2 522.3L1858.9 521.9L1859.6 521.5L1860.3 521.1L1861.1 520.6L1861.8 520.2L1862.5 519.8L1863.3 519.4L1864 518.9L1864.7 518.5L1865.5 518.1L1866.2 517.7L1866.9 517.2L1867.7 516.8L1868.4 516.4L1869.1 515.9L1869.9 515.5L1870.6 515.1L1871.3 514.7L1872.1 514.2L1872.8 513.8L1873.5 513.4L1874.3 512.9L1875 512.5L1875.7 512.1L1876.5 511.7L1877.2 511.2L1877.9 510.8L1878.7 510.4L1879.4 509.9L1880.1 509.5L1880.8 509.1L1881.6 508.6L1882.3 508.2L1883 507.8L1883.8 507.3L1884.5 506.9L1885.2 506.4L1886 506L1886.7 505.6L1887.4 505.1L1888.2 504.7L1888.9 504.3L1889.6 503.8L1890.4 503.4L1891.1 503L1891.8 502.5L1892.6 502.1L1893.3 501.6L1894 501.2L1894.8 500.8L1895.5 500.3L1896.2 499.9L1897 499.4L1897.7 499L1898.4 498.6L1899.2 498.1L1899.9 497.7L1900.6 497.2L1901.4 496.8L1902.1 496.3L1902.8 495.9L1903.5 495.5L1904.3 495L1905 494.6L1905.7 494.1L1906.5 493.7L1907.2 493.2L1907.9 492.8L1908.7 492.3L1909.4 491.9L1910.1 491.5L1910.9 491L1911.6 490.6L1912.3 490.1L1913.1 489.7L1913.8 489.2L1914.5 488.8L1915.3 488.3L1916 487.9L1916.7 487.4L1917.5 487L1918.2 486.5L1918.9 486.1L1919.7 485.6L1920.4 485.2L1921.1 484.7L1921.9 484.3L1922.6 483.8L1923.3 483.4L1924 482.9L1924.8 482.5L1925.5 482L1926.2 481.6L1927 481.1L1927.7 480.7L1928.4 480.2L1929.2 479.8L1929.9 479.3L1930.6 478.9L1931.4 478.4L1932.1 477.9L1932.8 477.5L1933.6 477L1934.3 476.6L1935 476.1L1935.8 475.7L1936.5 475.2L1937.2 474.8L1938 474.3L1938.7 473.8L1939.4 473.4L1940.2 472.9L1940.9 472.5L1941.6 472L1942.4 471.6L1943.1 471.1L1943.8 470.6L1944.6 470.2L1945.3 469.7L1946 469.3L1946.7 468.8L1947.5 468.4L1948.2 467.9L1948.9 467.4L1949.7 467L1950.4 466.5L1951.1 466.1L1951.9 465.6L1952.6 465.1L1953.3 464.7L1954.1 464.2L1954.8 463.8L1955.5 463.3L1956.3 462.8L1957 462.4L1957.7 461.9L1958.5 461.5L1959.2 461L1959.9 460.5L1960.7 460.1L1961.4 459.6L1962.1 459.1L1962.9 458.7L1963.6 458.2L1964.3 457.8L1965.1 457.3L1965.8 456.8L1966.5 456.4L1967.2 455.9L1968 455.4L1968.7 455L1969.4 454.5L1970.2 454L1970.9 453.6L1971.6 453.1L1972.4 452.7L1973.1 452.2L1973.8 451.7L1974.6 451.3L1975.3 450.8L1976 450.3L1976.8 449.9L1977.5 449.4L1978.2 448.9L1979 448.5L1979.7 448L1980.4 447.5L1981.2 447.1L1981.9 446.6L1982.6 446.1L1983.4 445.7L1984.1 445.2L1984.8 444.7L1985.6 444.3L1986.3 443.8L1987 443.3L1987.7 442.9L1988.5 442.4L1989.2 441.9L1989.9 441.5L1990.7 441L1991.4 440.5L1992.1 440L1992.9 439.6L1993.6 439.1L1994.3 438.6L1995.1 438.2L1995.8 437.7L1996.5 437.2L1997.3 436.8L1998 436.3L1998.7 435.8L1999.5 435.4L2000.2 434.9L2000.9 434.4L2001.7 434L2002.4 433.5L2003.1 433L2003.9 432.5L2004.6 432.1L2005.3 431.6L2006.1 431.1L2006.8 430.7L2007.5 430.2L2008.3 429.7L2009 429.2L2009.7 428.8L2010.4 428.3L2011.2 427.8L2011.9 427.4L2012.6 426.9L2013.4 426.4L2014.1 426L2014.8 425.5L2015.6 425L2016.3 424.5L2017 424.1L2017.8 423.6L2018.5 423.1L2019.2 422.7L2020 422.2L2020.7 421.7L2021.4 421.2L2022.2 420.8L2022.9 420.3L2023.6 419.8L2024.4 419.4L2025.1 418.9L2025.8 418.4L2026.6 417.9L2027.3 417.5L2028 417L2028.8 416.5L2029.5 416.1L2030.2 415.6L2030.9 415.1L2031.7 414.6L2032.4 414.2L2033.1 413.7L2033.9 413.2L2034.6 412.7L2035.3 412.3L2036.1 411.8L2036.8 411.3L2037.5 410.9L2038.3 410.4L2039 409.9L2039.7 409.4L2040.5 409L2041.2 408.5" fill="none" stroke="#0000ff" stroke-width="8.5" stroke-linejoin="round" stroke-dasharray="10 17"/>
<path d="M1163.3 408.5L1164 407.8L1164.8 407.1L1165.5 406.4L1166.2 405.8L1167 405.1L1167.7 404.4L1168.4 403.7L1169.2 403L1169.9 402.3L1170.6 401.6L1171.4 400.9L1172.1 400.3L1172.8 399.6L1173.6 398.9L1174.3 398.2L1175 397.5L1175.7 396.8L1176.5 396.1L1177.2 395.4L1177.9 394.8L1178.7 394.1L1179.4 393.4L1180.1 392.7L1180.9 392L1181.6 391.3L1182.3 390.6L1183.1 389.9L1183.8 389.3L1184.5 388.6L1185.3 387.9L1186 387.2L1186.7 386.5L1187.5 385.8L1188.2 385.1L1188.9 384.5L1189.7 383.8L1190.4 383.1L1191.1 382.4L1191.9 381.7L1192.6 381L1193.3 380.3L1194.1 379.7L1194.8 379L1195.5 378.3L1196.2 377.6L1197 376.9L1197.7 376.2L1198.4 375.6L1199.2 374.9L1199.9 374.2L1200.6 373.5L1201.4 372.8L1202.1 372.1L1202.8 371.5L1203.6 370.8L1204.3 370.1L1205 369.4L1205.8 368.7L1206.5 368L1207.2 367.4L1208 366.7L1208.7 366L1209.4 365.3L1210.2 364.6L1210.9 363.9L1211.6 363.3L1212.4 362.6L1213.1 361.9L1213.8 361.2L1214.6 360.5L1215.3 359.9L1216 359.2L1216.8 358.5L1217.5 357.8L1218.2 357.1L1218.9 356.4L1219.7 355.8L1220.4 355.1L1221.1 354.4L1221.9 353.7L1222.6 353.1L1223.3 352.4L1224.1 351.7L1224.8 351L1225.5 350.3L1226.3 349.7L1227 349L1227.7 348.3L1228.5 347.6L1229.2 346.9L1229.9 346.3L1230.7 345.6L1231.4 344.9L1232.1 344.2L1232.9 343.6L1233.6 342.9L1234.3 342.2L1235.1 341.5L1235.8 340.9L1236.5 340.2L1237.3 339.5L1238 338.8L1238.7 338.2L1239.4 337.5L1240.2 336.8L1240.9 336.1L1241.6 335.5L1242.4 334.8L1243.1 334.1L1243.8 333.5L1244.6 332.8L1245.3 332.1L1246 331.4L1246.8 330.8L1247.5 330.1L1248.2 329.4L1249 328.8L1249.7 328.1L1250.4 327.4L1251.2 326.8L1251.9 326.1L1252.6 325.4L1253.4 324.7L1254.1 324.1L1254.8 323.4L1255.6 322.7L1256.3 322.1L1257 321.4L1257.8 320.7L1258.5 320.1L1259.2 319.4L1259.9 318.7L1260.7 318.1L1261.4 317.4L1262.1 316.8L1262.9 316.1L1263.6 315.4L1264.3 314.8L1265.1 314.1L1265.8 313.4L1266.5 312.8L1267.3 312.1L1268 311.5L1268.7 310.8L1269.5 310.1L1270.2 309.5L1270.9 308.8L1271.7 308.1L1272.4 307.5L1273.1 306.8L1273.9 306.2L1274.6 305.5L1275.3 304.9L1276.1 304.2L1276.8 303.5L1277.5 302.9L1278.3 302.2L1279 301.6L1279.7 300.9L1280.5 300.3L1281.2 299.6L1281.9 298.9L1282.6 298.3L1283.4 297.6L1284.1 297L1284.8 296.3L1285.6 295.7L1286.3 295L1287 294.4L1287.8 293.7L1288.5 293.1L1289.2 292.4L1290 291.8L1290.7 291.1L1291.4 290.5L1292.2 289.8L1292.9 289.2L1293.6 288.5L1294.4 287.9L1295.1 287.2L1295.8 286.6L1296.6 285.9L1297.3 285.3L1298 284.7L1298.8 284L1299.5 283.4L1300.2 282.7L1301 282.1L1301.7 281.4L1302.4 280.8L1303.1 280.2L1303.9 279.5L1304.6 278.9L1305.3 278.2L1306.1 277.6L1306.8 277L1307.5 276.3L1308.3 275.7L1309 275L1309.7 274.4L1310.5 273.8L1311.2 273.1L1311.9 272.5L1312.7 271.9L1313.4 271.2L1314.1 270.6L1314.9 269.9L1315.6 269.3L1316.3 268.7L1317.1 268L1317.8 267.4L1318.5 266.8L1319.3 266.2L1320 265.5L1320.7 264.9L1321.5 264.3L1322.2 263.6L1322.9 263L1323.7 262.4L1324.4 261.7L1325.1 261.1L1325.8 260.5L1326.6 259.9L1327.3 259.2L1328 258.6L1328.8 258L1329.5 257.4L1330.2 256.7L1331 256.1L1331.7 255.5L1332.4 254.9L1333.2 254.3L1333.9 253.6L1334.6 253L1335.4 252.4L1336.1 251.8L1336.8 251.2L1337.6 250.5L1338.3 249.9L1339 249.3L1339.8 248.7L1340.5 248.1L1341.2 247.5L1342 246.8L1342.7 246.2L1343.4 245.6L1344.2 245L1344.9 244.4L1345.6 243.8L1346.3 243.2L1347.1 242.6L1347.8 241.9L1348.5 241.3L1349.3 240.7L1350 240.1L1350.7 239.5L1351.5 238.9L1352.2 238.3L1352.9 237.7L1353.7 237.1L1354.4 236.5L1355.1 235.9L1355.9 235.3L1356.6 234.7L1357.3 234.1L1358.1 233.5L1358.8 232.9L1359.5 232.3L1360.3 231.7L1361 231.1L1361.7 230.5L1362.5 229.9L1363.2 229.3L1363.9 228.7L1364.7 228.1L1365.4 227.5L1366.1 226.9L1366.8 226.3L1367.6 225.7L1368.3 225.1L1369 224.5L1369.8 223.9L1370.5 223.3L1371.2 222.8L1372 222.2L1372.7 221.6L1373.4 221L1374.2 220.4L1374.9 219.8L1375.6 219.2L1376.4 218.6L1377.1 218.1L1377.8 217.5L1378.6 216.9L1379.3 216.3L1380 215.7L1380.8 215.2L1381.5 214.6L1382.2 214L1383 213.4L1383.7 212.8L1384.4 212.3L1385.2 211.7L1385.9 211.1L1386.6 210.5L1387.4 210L1388.1 209.4L1388.8 208.8L1389.5 208.2L1390.3 207.7L1391 207.1L1391.7 206.5L1392.5 206L1393.2 205.4L1393.9 204.8L1394.7 204.2L1395.4 203.7L1396.1 203.1L1396.9 202.5L1397.6 202L1398.3 201.4L1399.1 200.9L1399.8 200.3L1400.5 199.7L1401.3 199.2L1402 198.6L1402.7 198.1L1403.5 197.5L1404.2 196.9L1404.9 196.4L1405.7 195.8L1406.4 195.3L1407.1 194.7L1407.9 194.2L1408.6 193.6L1409.3 193.1L1410 192.5L1410.8 192L1411.5 191.4L1412.2 190.9L1413 190.3L1413.7 189.8L1414.4 189.2L1415.2 188.7L1415.9 188.1L1416.6 187.6L1417.4 187L1418.1 186.5L1418.8 186L1419.6 185.4L1420.3 184.9L1421 184.3L1421.8 183.8L1422.5 183.3L1423.2 182.7L1424 182.2L1424.7 181.7L1425.4 181.1L1426.2 180.6L1426.9 180.1L1427.6 179.5L1428.4 179L1429.1 178.5L1429.8 177.9L1430.6 177.4L1431.3 176.9L1432 176.4L1432.7 175.8L1433.5 175.3L1434.2 174.8L1434.9 174.3L1435.7 173.8L1436.4 173.2L1437.1 172.7L1437.9 172.2L1438.6 171.7L1439.3 171.2L1440.1 170.7L1440.8 170.1L1441.5 169.6L1442.3 169.1L1443 168.6L1443.7 168.1L1444.5 167.6L1445.2 167.1L1445.9 166.6L1446.7 166.1L1447.4 165.6L1448.1 165.1L1448.9 164.6L1449.6 164.1L1450.3 163.6L1451.1 163.1L1451.8 162.6L1452.5 162.1L1453.2 161.6L1454 161.1L1454.7 160.6L1455.4 160.1L1456.2 159.6L1456.9 159.2L1457.6 158.7L1458.4 158.2L1459.1 157.7L1459.8 157.2L1460.6 156.7L1461.3 156.3L1462 155.8L1462.8 155.3L1463.5 154.8L1464.2 154.4L1465 153.9L1465.7 153.4L1466.4 153L1467.2 152.5L1467.9 152L1468.6 151.6L1469.4 151.1L1470.1 150.7L1470.8 150.2L1471.6 149.7L1472.3 149.3L1473 148.8L1473.8 148.4L1474.5 147.9L1475.2 147.5L1475.9 147L1476.7 146.6L1477.4 146.2L1478.1 145.7L1478.9 145.3L1479.6 144.9L1480.3 144.4L1481.1 144L1481.8 143.6L1482.5 143.1L1483.3 142.7L1484 142.3L1484.7 141.9L1485.5 141.5L1486.2 141.1L1486.9 140.7L1487.7 140.2L1488.4 139.8L1489.1 139.4L1489.9 139L1490.6 138.7L1491.3 138.3L1492.1 137.9L1492.8 137.5L1493.5 137.1L1494.3 136.7L1495 136.4L1495.7 136L1496.4 135.6L1497.2 135.2L1497.9 134.9L1498.6 134.5L1499.4 134.2L1500.1 133.8L1500.8 133.5L1501.6 133.1L1502.3 132.8L1503 132.5L1503.8 132.2L1504.5 131.8L1505.2 131.5L1506 131.2L1506.7 130.9L1507.4 130.6L1508.2 130.3L1508.9 130L1509.6 129.7L1510.4 129.4L1511.1 129.2L1511.8 128.9L1512.6 128.6L1513.3 128.4L1514 128.1L1514.8 127.9L1515.5 127.7L1516.2 127.5L1516.9 127.2L1517.7 127L1518.4 126.8L1519.1 126.6L1519.9 126.5L1520.6 126.3L1521.3 126.1L1522.1 126L1522.8 125.8L1523.5 125.7L1524.3 125.6L1525 125.5L1525.7 125.4L1526.5 125.3L1527.2 125.2L1527.9 125.1L1528.7 125.1L1529.4 125L1530.1 125L1530.9 125L1531.6 125L1532.3 125L1533.1 125.1L1533.8 125.1L1534.5 125.2L1535.3 125.3L1536 125.4L1536.7 125.5L1537.5 125.7L1538.2 125.8L1538.9 126L1539.6 126.2L1540.4 126.5L1541.1 126.7L1541.8 127L1542.6 127.3L1543.3 127.6L1544 128L1544.8 128.4L1545.5 128.8L1546.2 129.3L1547 129.7L1547.7 130.3L1548.4 130.8L1549.2 131.4L1549.9 132L1550.6 132.7L1551.4 133.4L1552.1 134.1L1552.8 134.9L1553.6 135.7L1554.3 136.6L1555 137.5L1555.8 138.5L1556.5 139.5L1557.2 140.6L1558 141.8L1558.7 143L1559.4 144.2L1560.1 145.5L1560.9 146.9L1561.6 148.4L1562.3 149.9L1563.1 151.5L1563.8 153.2L1564.5 154.9L1565.3 156.7L1566 158.6L1566.7 160.7L1567.5 162.7L1568.2 164.9L1568.9 167.2L1569.7 169.6L1570.4 172.1L1571.1 174.7L1571.9 177.4L1572.6 180.2L1573.3 183.1L1574.1 186.2L1574.8 189.3L1575.5 192.6L1576.3 196.1L1577 199.6L1577.7 203.3L1578.5 207.2L1579.2 211.2L1579.9 215.3L1580.7 219.6L1581.4 224L1582.1 228.6L1582.8 233.3L1583.6 238.2L1584.3 243.2L1585 248.4L1585.8 253.8L1586.5 259.3L1587.2 264.9L1588 270.8L1588.7 276.7L1589.4 282.9L1590.2 289.1L1590.9 295.6L1591.6 302.1L1592.4 308.8L1593.1 315.6L1593.8 322.6L1594.6 329.6L1595.3 336.8L1596 344.1L1596.8 351.4L1597.5 358.9L1598.2 366.4L1599 373.9L1599.7 381.6L1600.4 389.2L1601.2 396.9L1601.9 404.6L1602.6 412.4L1603.3 420.1L1604.1 427.8L1604.8 435.4L1605.5 443.1L1606.3 450.6L1607 458.1L1607.7 465.6L1608.5 472.9L1609.2 480.2L1609.9 487.4L1610.7 494.4L1611.4 501.4L1612.1 508.2L1612.9 514.9L1613.6 521.4L1614.3 527.9L1615.1 534.1L1615.8 540.3L1616.5 546.2L1617.3 552.1L1618 557.7L1618.7 563.2L1619.5 568.6L1620.2 573.8L1620.9 578.8L1621.7 583.7L1622.4 588.4L1623.1 593L1623.8 597.4L1624.6 601.7L1625.3 605.8L1626 609.8L1626.8 613.7L1627.5 617.4L1628.2 620.9L1629 624.4L1629.7 627.7L1630.4 630.8L1631.2 633.9L1631.9 636.8L1632.6 639.6L1633.4 642.3L1634.1 644.9L1634.8 647.4L1635.6 649.8L1636.3 652.1L1637 654.3L1637.8 656.3L1638.5 658.4L1639.2 660.3L1640 662.1L1640.7 663.8L1641.4 665.5L1642.2 667.1L1642.9 668.6L1643.6 670.1L1644.4 671.5L1645.1 672.8L1645.8 674L1646.5 675.2L1647.3 676.4L1648 677.5L1648.7 678.5L1649.5 679.5L1650.2 680.4L1650.9 681.3L1651.7 682.1L1652.4 682.9L1653.1 683.6L1653.9 684.3L1654.6 685L1655.3 685.6L1656.1 686.2L1656.8 686.7L1657.5 687.3L1658.3 687.7L1659 688.2L1659.7 688.6L1660.5 689L1661.2 689.4L1661.9 689.7L1662.7 690L1663.4 690.3L1664.1 690.5L1664.9 690.8L1665.6 691L1666.3 691.2L1667 691.3L1667.8 691.5L1668.5 691.6L1669.2 691.7L1670 691.8L1670.7 691.9L1671.4 691.9L1672.2 692L1672.9 692L1673.6 692L1674.4 692L1675.1 692L1675.8 691.9L1676.6 691.9L1677.3 691.8L1678 691.7L1678.8 691.6L1679.5 691.5L1680.2 691.4L1681 691.3L1681.7 691.2L1682.4 691L1683.2 690.9L1683.9 690.7L1684.6 690.5L1685.4 690.4L1686.1 690.2L1686.8 690L1687.6 689.8L1688.3 689.5L1689 689.3L1689.7 689.1L1690.5 688.9L1691.2 688.6L1691.9 688.4L1692.7 688.1L1693.4 687.8L1694.1 687.6L1694.9 687.3L1695.6 687L1696.3 686.7L1697.1 686.4L1697.8 686.1L1698.5 685.8L1699.3 685.5L1700 685.2L1700.7 684.8L1701.5 684.5L1702.2 684.2L1702.9 683.9L1703.7 683.5L1704.4 683.2L1705.1 682.8L1705.9 682.5L1706.6 682.1L1707.3 681.8L1708.1 681.4L1708.8 681L1709.5 680.6L1710.2 680.3L1711 679.9L1711.7 679.5L1712.4 679.1L1713.2 678.7L1713.9 678.3L1714.6 678L1715.4 677.6L1716.1 677.2L1716.8 676.8L1717.6 676.3L1718.3 675.9L1719 675.5L1719.8 675.1L1720.5 674.7L1721.2 674.3L1722 673.9L1722.7 673.4L1723.4 673L1724.2 672.6L1724.9 672.1L1725.6 671.7L1726.4 671.3L1727.1 670.8L1727.8 670.4L1728.6 670L1729.3 669.5L1730 669.1L1730.7 668.6L1731.5 668.2L1732.2 667.7L1732.9 667.3L1733.7 666.8L1734.4 666.3L1735.1 665.9L1735.9 665.4L1736.6 665L1737.3 664.5L1738.1 664L1738.8 663.6L1739.5 663.1L1740.3 662.6L1741 662.2L1741.7 661.7L1742.5 661.2L1743.2 660.7L1743.9 660.3L1744.7 659.8L1745.4 659.3L1746.1 658.8L1746.9 658.3L1747.6 657.8L1748.3 657.4L1749.1 656.9L1749.8 656.4L1750.5 655.9L1751.3 655.4L1752 654.9L1752.7 654.4L1753.4 653.9L1754.2 653.4L1754.9 652.9L1755.6 652.4L1756.4 651.9L1757.1 651.4L1757.8 650.9L1758.6 650.4L1759.3 649.9L1760 649.4L1760.8 648.9L1761.5 648.4L1762.2 647.9L1763 647.4L1763.7 646.9L1764.4 646.3L1765.2 645.8L1765.9 645.3L1766.6 644.8L1767.4 644.3L1768.1 643.8L1768.8 643.2L1769.6 642.7L1770.3 642.2L1771 641.7L1771.8 641.2L1772.5 640.6L1773.2 640.1L1773.9 639.6L1774.7 639.1L1775.4 638.5L1776.1 638L1776.9 637.5L1777.6 636.9L1778.3 636.4L1779.1 635.9L1779.8 635.3L1780.5 634.8L1781.3 634.3L1782 633.7L1782.7 633.2L1783.5 632.7L1784.2 632.1L1784.9 631.6L1785.7 631L1786.4 630.5L1787.1 630L1787.9 629.4L1788.6 628.9L1789.3 628.3L1790.1 627.8L1790.8 627.2L1791.5 626.7L1792.3 626.1L1793 625.6L1793.7 625L1794.5 624.5L1795.2 623.9L1795.9 623.4L1796.6 622.8L1797.4 622.3L1798.1 621.7L1798.8 621.2L1799.6 620.6L1800.3 620.1L1801 619.5L1801.8 618.9L1802.5 618.4L1803.2 617.8L1804 617.3L1804.7 616.7L1805.4 616.1L1806.2 615.6L1806.9 615L1807.6 614.5L1808.4 613.9L1809.1 613.3L1809.8 612.8L1810.6 612.2L1811.3 611.6L1812 611L1812.8 610.5L1813.5 609.9L1814.2 609.3L1815 608.8L1815.7 608.2L1816.4 607.6L1817.1 607L1817.9 606.5L1818.6 605.9L1819.3 605.3L1820.1 604.7L1820.8 604.2L1821.5 603.6L1822.3 603L1823 602.4L1823.7 601.8L1824.5 601.3L1825.2 600.7L1825.9 600.1L1826.7 599.5L1827.4 598.9L1828.1 598.4L1828.9 597.8L1829.6 597.2L1830.3 596.6L1831.1 596L1831.8 595.4L1832.5 594.8L1833.3 594.2L1834 593.7L1834.7 593.1L1835.5 592.5L1836.2 591.9L1836.9 591.3L1837.7 590.7L1838.4 590.1L1839.1 589.5L1839.8 588.9L1840.6 588.3L1841.3 587.7L1842 587.1L1842.8 586.5L1843.5 585.9L1844.2 585.3L1845 584.7L1845.7 584.1L1846.4 583.5L1847.2 582.9L1847.9 582.3L1848.6 581.7L1849.4 581.1L1850.1 580.5L1850.8 579.9L1851.6 579.3L1852.3 578.7L1853 578.1L1853.8 577.5L1854.5 576.9L1855.2 576.3L1856 575.7L1856.7 575.1L1857.4 574.4L1858.2 573.8L1858.9 573.2L1859.6 572.6L1860.3 572L1861.1 571.4L1861.8 570.8L1862.5 570.2L1863.3 569.5L1864 568.9L1864.7 568.3L1865.5 567.7L1866.2 567.1L1866.9 566.5L1867.7 565.8L1868.4 565.2L1869.1 564.6L1869.9 564L1870.6 563.4L1871.3 562.7L1872.1 562.1L1872.8 561.5L1873.5 560.9L1874.3 560.3L1875 559.6L1875.7 559L1876.5 558.4L1877.2 557.8L1877.9 557.1L1878.7 556.5L1879.4 555.9L1880.1 555.3L1880.8 554.6L1881.6 554L1882.3 553.4L1883 552.7L1883.8 552.1L1884.5 551.5L1885.2 550.8L1886 550.2L1886.7 549.6L1887.4 549L1888.2 548.3L1888.9 547.7L1889.6 547.1L1890.4 546.4L1891.1 545.8L1891.8 545.1L1892.6 544.5L1893.3 543.9L1894 543.2L1894.8 542.6L1895.5 542L1896.2 541.3L1897 540.7L1897.7 540L1898.4 539.4L1899.2 538.8L1899.9 538.1L1900.6 537.5L1901.4 536.8L1902.1 536.2L1902.8 535.6L1903.5 534.9L1904.3 534.3L1905 533.6L1905.7 533L1906.5 532.3L1907.2 531.7L1907.9 531.1L1908.7 530.4L1909.4 529.8L1910.1 529.1L1910.9 528.5L1911.6 527.8L1912.3 527.2L1913.1 526.5L1913.8 525.9L1914.5 525.2L1915.3 524.6L1916 523.9L1916.7 523.3L1917.5 522.6L1918.2 522L1918.9 521.3L1919.7 520.7L1920.4 520L1921.1 519.4L1921.9 518.7L1922.6 518.1L1923.3 517.4L1924 516.7L1924.8 516.1L1925.5 515.4L1926.2 514.8L1927 514.1L1927.7 513.5L1928.4 512.8L1929.2 512.1L1929.9 511.5L1930.6 510.8L1931.4 510.2L1932.1 509.5L1932.8 508.9L1933.6 508.2L1934.3 507.5L1935 506.9L1935.8 506.2L1936.5 505.5L1937.2 504.9L1938 504.2L1938.7 503.6L1939.4 502.9L1940.2 502.2L1940.9 501.6L1941.6 500.9L1942.4 500.2L1943.1 499.6L1943.8 498.9L1944.6 498.3L1945.3 497.6L1946 496.9L1946.7 496.3L1947.5 495.6L1948.2 494.9L1948.9 494.3L1949.7 493.6L1950.4 492.9L1951.1 492.3L1951.9 491.6L1952.6 490.9L1953.3 490.2L1954.1 489.6L1954.8 488.9L1955.5 488.2L1956.3 487.6L1957 486.9L1957.7 486.2L1958.5 485.6L1959.2 484.9L1959.9 484.2L1960.7 483.5L1961.4 482.9L1962.1 482.2L1962.9 481.5L1963.6 480.9L1964.3 480.2L1965.1 479.5L1965.8 478.8L1966.5 478.2L1967.2 477.5L1968 476.8L1968.7 476.1L1969.4 475.5L1970.2 474.8L1970.9 474.1L1971.6 473.4L1972.4 472.8L1973.1 472.1L1973.8 471.4L1974.6 470.7L1975.3 470.1L1976 469.4L1976.8 468.7L1977.5 468L1978.2 467.3L1979 466.7L1979.7 466L1980.4 465.3L1981.2 464.6L1981.9 463.9L1982.6 463.3L1983.4 462.6L1984.1 461.9L1984.8 461.2L1985.6 460.6L1986.3 459.9L1987 459.2L1987.7 458.5L1988.5 457.8L1989.2 457.1L1989.9 456.5L1990.7 455.8L1991.4 455.1L1992.1 454.4L1992.9 453.7L1993.6 453.1L1994.3 452.4L1995.1 451.7L1995.8 451L1996.5 450.3L1997.3 449.6L1998 449L1998.7 448.3L1999.5 447.6L2000.2 446.9L2000.9 446.2L2001.7 445.5L2002.4 444.9L2003.1 444.2L2003.9 443.5L2004.6 442.8L2005.3 442.1L2006.1 441.4L2006.8 440.8L2007.5 440.1L2008.3 439.4L2009 438.7L2009.7 438L2010.4 437.3L2011.2 436.7L2011.9 436L2012.6 435.3L2013.4 434.6L2014.1 433.9L2014.8 433.2L2015.6 432.5L2016.3 431.9L2017 431.2L2017.8 430.5L2018.5 429.8L2019.2 429.1L2020 428.4L2020.7 427.7L2021.4 427.1L2022.2 426.4L2022.9 425.7L2023.6 425L2024.4 424.3L2025.1 423.6L2025.8 422.9L2026.6 422.2L2027.3 421.6L2028 420.9L2028.8 420.2L2029.5 419.5L2030.2 418.8L2030.9 418.1L2031.7 417.4L2032.4 416.7L2033.1 416.1L2033.9 415.4L2034.6 414.7L2035.3 414L2036.1 413.3L2036.8 412.6L2037.5 411.9L2038.3 411.2L2039 410.6L2039.7 409.9L2040.5 409.2L2041.2 408.5" fill="none" stroke="#ff00ff" stroke-width="8.5" stroke-linejoin="round" stroke-dasharray="32 5 11 5"/>
<path d="M1163 1178.8L1300 1177.5L1382 1175L1384 1112L1393 1113L1397 1226L1408 874L1412 876L1418 1047L1426 1023L1436 1297L1443 1074L1448 1170L1456 1114L1466 1231L1478 1128L1487 1235L1497 1148L1505 1218L1514 1139L1528 1196L1537 1167L1545 1182L1552 1170L1560 1184L1568 1172L1577 1168L1598 1170L1608 1189L1632 1186L1636 1196L1642 1184L1652 1186L1660 1198L1668 1178L1684 1182L1687 1196L1693 1180L1703 1166L1710 1185L1718 1225L1724 1255L1733 1137L1737 1200L1740 1235L1746 1014L1752 1016L1756 1180L1762 1100L1765 941L1769 1000L1776 1435L1782 1025L1788 1320L1794 1090L1805 1544L1809 1200L1813 977L1820 990L1826 1178L2041.5 1178.8" fill="none" stroke="#000000" stroke-width="8.5" stroke-linejoin="round"/>
<path d="M1163 1178.8L1300 1178L1382 1176L1384 1212L1384 1236L1393 1218L1398 1124L1402 1200L1406 1462L1412 1400L1420 1330L1427 1290L1431 1200L1434 1060L1438 1120L1442 1200L1447 1275L1456 1200L1466 1115L1479 1214L1488 1123L1499 1197L1505 1132L1518 1203L1532 1150L1545 1170L1552 1160L1562 1168L1585 1170L1605 1186L1640 1184L1660 1184L1675 1178L1690 1195L1699 1201L1712 1160L1719 1180L1725 1113L1731 1175L1734 1215L1740 1128L1745 1230L1750 1300L1757 1340L1766 1417L1770 1200L1777 941L1783 1074L1788 1040L1795 1300L1800 1200L1803 900L1805 825L1807 900L1810 1100L1818 1389L1826 1180L2041.5 1178.8" fill="none" stroke="#ff0000" stroke-width="8.5" stroke-linejoin="round" stroke-dasharray="30 16"/>
<path d="M178.3 18.3L178.3 1568" stroke="#000" stroke-width="8"/>
<path d="M1057.7 18.3L1057.7 1568" stroke="#000" stroke-width="6"/>
<path d="M174.3 22.5L1060.7 22.5" stroke="#000" stroke-width="8.4"/>
<path d="M174.3 794.2L1060.7 794.2" stroke="#000" stroke-width="8.4"/>
<path d="M174.3 1564.5L1060.7 1564.5" stroke="#000" stroke-width="7"/>
<path d="M1163 18.3L1163 1568" stroke="#000" stroke-width="8"/>
<path d="M2041.5 18.3L2041.5 1568" stroke="#000" stroke-width="8"/>
<path d="M1159 22.5L2044.5 22.5" stroke="#000" stroke-width="8.4"/>
<path d="M1159 794.2L2044.5 794.2" stroke="#000" stroke-width="8.4"/>
<path d="M1159 1564.5L2044.5 1564.5" stroke="#000" stroke-width="7"/>
<path d="M288.4 26.7L288.4 32.7" stroke="#000" stroke-width="8"/>
<path d="M288.4 784L288.4 804.4" stroke="#000" stroke-width="8"/>
<path d="M288.4 1554L288.4 1564.5" stroke="#000" stroke-width="8"/>
<path d="M398.4 26.7L398.4 40.7" stroke="#000" stroke-width="8"/>
<path d="M398.4 776L398.4 812.4" stroke="#000" stroke-width="8"/>
<path d="M398.4 1546L398.4 1564.5" stroke="#000" stroke-width="8"/>
<path d="M508.4 26.7L508.4 32.7" stroke="#000" stroke-width="8"/>
<path d="M508.4 784L508.4 804.4" stroke="#000" stroke-width="8"/>
<path d="M508.4 1554L508.4 1564.5" stroke="#000" stroke-width="8"/>
<path d="M618.3 26.7L618.3 40.7" stroke="#000" stroke-width="8"/>
<path d="M618.3 776L618.3 812.4" stroke="#000" stroke-width="8"/>
<path d="M618.3 1546L618.3 1564.5" stroke="#000" stroke-width="8"/>
<path d="M728.2 26.7L728.2 32.7" stroke="#000" stroke-width="8"/>
<path d="M728.2 784L728.2 804.4" stroke="#000" stroke-width="8"/>
<path d="M728.2 1554L728.2 1564.5" stroke="#000" stroke-width="8"/>
<path d="M838.2 26.7L838.2 40.7" stroke="#000" stroke-width="8"/>
<path d="M838.2 776L838.2 812.4" stroke="#000" stroke-width="8"/>
<path d="M838.2 1546L838.2 1564.5" stroke="#000" stroke-width="8"/>
<path d="M948.1 26.7L948.1 32.7" stroke="#000" stroke-width="8"/>
<path d="M948.1 784L948.1 804.4" stroke="#000" stroke-width="8"/>
<path d="M948.1 1554L948.1 1564.5" stroke="#000" stroke-width="8"/>
<path d="M1273 26.7L1273 32.7" stroke="#000" stroke-width="8"/>
<path d="M1273 784L1273 804.4" stroke="#000" stroke-width="8"/>
<path d="M1273 1554L1273 1564.5" stroke="#000" stroke-width="8"/>
<path d="M1382.8 26.7L1382.8 40.7" stroke="#000" stroke-width="8"/>
<path d="M1382.8 776L1382.8 812.4" stroke="#000" stroke-width="8"/>
<path d="M1382.8 1546L1382.8 1564.5" stroke="#000" stroke-width="8"/>
<path d="M1492.5 26.7L1492.5 32.7" stroke="#000" stroke-width="8"/>
<path d="M1492.5 784L1492.5 804.4" stroke="#000" stroke-width="8"/>
<path d="M1492.5 1554L1492.5 1564.5" stroke="#000" stroke-width="8"/>
<path d="M1602.2 26.7L1602.2 40.7" stroke="#000" stroke-width="8"/>
<path d="M1602.2 776L1602.2 812.4" stroke="#000" stroke-width="8"/>
<path d="M1602.2 1546L1602.2 1564.5" stroke="#000" stroke-width="8"/>
<path d="M1712 26.7L1712 32.7" stroke="#000" stroke-width="8"/>
<path d="M1712 784L1712 804.4" stroke="#000" stroke-width="8"/>
<path d="M1712 1554L1712 1564.5" stroke="#000" stroke-width="8"/>
<path d="M1821.7 26.7L1821.7 40.7" stroke="#000" stroke-width="8"/>
<path d="M1821.7 776L1821.7 812.4" stroke="#000" stroke-width="8"/>
<path d="M1821.7 1546L1821.7 1564.5" stroke="#000" stroke-width="8"/>
<path d="M1931.5 26.7L1931.5 32.7" stroke="#000" stroke-width="8"/>
<path d="M1931.5 784L1931.5 804.4" stroke="#000" stroke-width="8"/>
<path d="M1931.5 1554L1931.5 1564.5" stroke="#000" stroke-width="8"/>
<path d="M182.3 739.5L197.3 739.5" stroke="#000" stroke-width="8"/>
<path d="M1039.7 739.5L1054.7 739.5" stroke="#000" stroke-width="8"/>
<path d="M182.3 574L197.3 574" stroke="#000" stroke-width="8"/>
<path d="M1039.7 574L1054.7 574" stroke="#000" stroke-width="8"/>
<path d="M182.3 408.5L197.3 408.5" stroke="#000" stroke-width="8"/>
<path d="M1039.7 408.5L1054.7 408.5" stroke="#000" stroke-width="8"/>
<path d="M182.3 243L197.3 243" stroke="#000" stroke-width="8"/>
<path d="M1039.7 243L1054.7 243" stroke="#000" stroke-width="8"/>
<path d="M182.3 77.5L197.3 77.5" stroke="#000" stroke-width="8"/>
<path d="M1039.7 77.5L1054.7 77.5" stroke="#000" stroke-width="8"/>
<path d="M182.3 656.8L189.3 656.8" stroke="#000" stroke-width="8"/>
<path d="M1047.7 656.8L1054.7 656.8" stroke="#000" stroke-width="8"/>
<path d="M182.3 491.3L189.3 491.3" stroke="#000" stroke-width="8"/>
<path d="M1047.7 491.3L1054.7 491.3" stroke="#000" stroke-width="8"/>
<path d="M182.3 325.7L189.3 325.7" stroke="#000" stroke-width="8"/>
<path d="M1047.7 325.7L1054.7 325.7" stroke="#000" stroke-width="8"/>
<path d="M182.3 160.2L189.3 160.2" stroke="#000" stroke-width="8"/>
<path d="M1047.7 160.2L1054.7 160.2" stroke="#000" stroke-width="8"/>
<path d="M182.3 1399L197.3 1399" stroke="#000" stroke-width="8"/>
<path d="M1039.7 1399L1054.7 1399" stroke="#000" stroke-width="8"/>
<path d="M182.3 1178.8L197.3 1178.8" stroke="#000" stroke-width="8"/>
<path d="M1039.7 1178.8L1054.7 1178.8" stroke="#000" stroke-width="8"/>
<path d="M182.3 958.6L197.3 958.6" stroke="#000" stroke-width="8"/>
<path d="M1039.7 958.6L1054.7 958.6" stroke="#000" stroke-width="8"/>
<path d="M182.3 1509.1L189.3 1509.1" stroke="#000" stroke-width="8"/>
<path d="M1047.7 1509.1L1054.7 1509.1" stroke="#000" stroke-width="8"/>
<path d="M182.3 1288.9L189.3 1288.9" stroke="#000" stroke-width="8"/>
<path d="M1047.7 1288.9L1054.7 1288.9" stroke="#000" stroke-width="8"/>
<path d="M182.3 1068.7L189.3 1068.7" stroke="#000" stroke-width="8"/>
<path d="M1047.7 1068.7L1054.7 1068.7" stroke="#000" stroke-width="8"/>
<path d="M182.3 848.5L189.3 848.5" stroke="#000" stroke-width="8"/>
<path d="M1047.7 848.5L1054.7 848.5" stroke="#000" stroke-width="8"/>
<path d="M1167 751.5L1182 751.5" stroke="#000" stroke-width="8"/>
<path d="M2022.5 751.5L2037.5 751.5" stroke="#000" stroke-width="8"/>
<path d="M1167 580L1182 580" stroke="#000" stroke-width="8"/>
<path d="M2022.5 580L2037.5 580" stroke="#000" stroke-width="8"/>
<path d="M1167 408.5L1182 408.5" stroke="#000" stroke-width="8"/>
<path d="M2022.5 408.5L2037.5 408.5" stroke="#000" stroke-width="8"/>
<path d="M1167 237L1182 237" stroke="#000" stroke-width="8"/>
<path d="M2022.5 237L2037.5 237" stroke="#000" stroke-width="8"/>
<path d="M1167 65.5L1182 65.5" stroke="#000" stroke-width="8"/>
<path d="M2022.5 65.5L2037.5 65.5" stroke="#000" stroke-width="8"/>
<path d="M1167 665.8L1174 665.8" stroke="#000" stroke-width="8"/>
<path d="M2030.5 665.8L2037.5 665.8" stroke="#000" stroke-width="8"/>
<path d="M1167 494.2L1174 494.2" stroke="#000" stroke-width="8"/>
<path d="M2030.5 494.2L2037.5 494.2" stroke="#000" stroke-width="8"/>
<path d="M1167 322.8L1174 322.8" stroke="#000" stroke-width="8"/>
<path d="M2030.5 322.8L2037.5 322.8" stroke="#000" stroke-width="8"/>
<path d="M1167 151.2L1174 151.2" stroke="#000" stroke-width="8"/>
<path d="M2030.5 151.2L2037.5 151.2" stroke="#000" stroke-width="8"/>
<path d="M1167 1499.8L1182 1499.8" stroke="#000" stroke-width="8"/>
<path d="M2022.5 1499.8L2037.5 1499.8" stroke="#000" stroke-width="8"/>
<path d="M1167 1392.8L1182 1392.8" stroke="#000" stroke-width="8"/>
<path d="M2022.5 1392.8L2037.5 1392.8" stroke="#000" stroke-width="8"/>
<path d="M1167 1285.8L1182 1285.8" stroke="#000" stroke-width="8"/>
<path d="M2022.5 1285.8L2037.5 1285.8" stroke="#000" stroke-width="8"/>
<path d="M1167 1178.8L1182 1178.8" stroke="#000" stroke-width="8"/>
<path d="M2022.5 1178.8L2037.5 1178.8" stroke="#000" stroke-width="8"/>
<path d="M1167 1071.8L1182 1071.8" stroke="#000" stroke-width="8"/>
<path d="M2022.5 1071.8L2037.5 1071.8" stroke="#000" stroke-width="8"/>
<path d="M1167 964.8L1182 964.8" stroke="#000" stroke-width="8"/>
<path d="M2022.5 964.8L2037.5 964.8" stroke="#000" stroke-width="8"/>
<path d="M1167 857.8L1182 857.8" stroke="#000" stroke-width="8"/>
<path d="M2022.5 857.8L2037.5 857.8" stroke="#000" stroke-width="8"/>
<path d="M1167 1553.3L1174 1553.3" stroke="#000" stroke-width="8"/>
<path d="M2030.5 1553.3L2037.5 1553.3" stroke="#000" stroke-width="8"/>
<path d="M1167 1446.3L1174 1446.3" stroke="#000" stroke-width="8"/>
<path d="M2030.5 1446.3L2037.5 1446.3" stroke="#000" stroke-width="8"/>
<path d="M1167 1339.3L1174 1339.3" stroke="#000" stroke-width="8"/>
<path d="M2030.5 1339.3L2037.5 1339.3" stroke="#000" stroke-width="8"/>
<path d="M1167 1232.3L1174 1232.3" stroke="#000" stroke-width="8"/>
<path d="M2030.5 1232.3L2037.5 1232.3" stroke="#000" stroke-width="8"/>
<path d="M1167 1125.3L1174 1125.3" stroke="#000" stroke-width="8"/>
<path d="M2030.5 1125.3L2037.5 1125.3" stroke="#000" stroke-width="8"/>
<path d="M1167 1018.3L1174 1018.3" stroke="#000" stroke-width="8"/>
<path d="M2030.5 1018.3L2037.5 1018.3" stroke="#000" stroke-width="8"/>
<path d="M1167 911.3L1174 911.3" stroke="#000" stroke-width="8"/>
<path d="M2030.5 911.3L2037.5 911.3" stroke="#000" stroke-width="8"/>
<path d="M1167 804.3L1174 804.3" stroke="#000" stroke-width="8"/>
<path d="M2030.5 804.3L2037.5 804.3" stroke="#000" stroke-width="8"/>
<path d="M608 100.5H757" stroke="#000000" stroke-width="7.8" stroke-linecap="butt"/>
<path d="M608.4 208H757" stroke="#ff0000" stroke-width="7.8" stroke-linecap="butt" stroke-dasharray="29 16.3"/>
<path d="M608 317.5H753" stroke="#0000ff" stroke-width="7.8" stroke-linecap="butt" stroke-dasharray="10.8 16"/>
<path d="M164 424.1H305" stroke="#ff00ff" stroke-width="7.8" stroke-linecap="butt" stroke-dasharray="32.3 5.3 10.8 4.3"/>
<path d="M164 532.8H311.4" stroke="#008000" stroke-width="7.8" stroke-linecap="butt" stroke-dasharray="25.8 4.2 11 3 12 5.3"/>
<path d="M602 837.8H747.5" stroke="#000000" stroke-width="7.8" stroke-linecap="round"/>
<path d="M599.3 945.7H750.3" stroke="#ff0000" stroke-width="7.8" stroke-linecap="butt" stroke-dasharray="29.5 16.5"/>
<path d="M599.8 1053.8H746" stroke="#0000ff" stroke-width="7.8" stroke-linecap="butt" stroke-dasharray="11 15.8"/>
<path d="M599.8 1161.8H741.5" stroke="#ff00ff" stroke-width="7.8" stroke-linecap="butt" stroke-dasharray="33 5.5 10 5.5"/>
<path d="M1205 427.2H1349" stroke="#000000" stroke-width="7.8" stroke-linecap="round"/>
<path d="M1202.2 535.3H1352.6" stroke="#ff0000" stroke-width="7.8" stroke-linecap="butt" stroke-dasharray="31 15"/>
<path d="M1202 643.4H1349" stroke="#0000ff" stroke-width="7.8" stroke-linecap="butt" stroke-dasharray="11.5 15.5"/>
<path d="M1202.2 751.5H1342.7" stroke="#ff00ff" stroke-width="7.8" stroke-linecap="butt" stroke-dasharray="33.6 3.7 12.5 5"/>
<path d="M1483 912.6H1628" stroke="#000000" stroke-width="7.8" stroke-linecap="round"/>
<path d="M1480 1012.9H1631.2" stroke="#ff0000" stroke-width="7.8" stroke-linecap="butt" stroke-dasharray="30.3 15.4"/>
<text transform="translate(164 98) scale(0.97 1.05)" font-family="'Liberation Sans', Arial, sans-serif" font-size="66" text-anchor="end">6</text>
<text transform="translate(164 263.5) scale(0.97 1.05)" font-family="'Liberation Sans', Arial, sans-serif" font-size="66" text-anchor="end">3</text>
<text transform="translate(164 429) scale(0.97 1.05)" font-family="'Liberation Sans', Arial, sans-serif" font-size="66" text-anchor="end">0</text>
<text transform="translate(164 594.5) scale(0.97 1.05)" font-family="'Liberation Sans', Arial, sans-serif" font-size="66" text-anchor="end">-3</text>
<text transform="translate(164 760) scale(0.97 1.05)" font-family="'Liberation Sans', Arial, sans-serif" font-size="66" text-anchor="end">-6</text>
<text transform="translate(164 979.1) scale(0.97 1.05)" font-family="'Liberation Sans', Arial, sans-serif" font-size="66" text-anchor="end">2</text>
<text transform="translate(164 1199.3) scale(0.97 1.05)" font-family="'Liberation Sans', Arial, sans-serif" font-size="66" text-anchor="end">0</text>
<text transform="translate(164 1419.5) scale(0.97 1.05)" font-family="'Liberation Sans', Arial, sans-serif" font-size="66" text-anchor="end">-2</text>
<text transform="translate(2058 86) scale(0.97 1.05)" font-family="'Liberation Sans', Arial, sans-serif" font-size="66" text-anchor="start">4</text>
<text transform="translate(2058 257.5) scale(0.97 1.05)" font-family="'Liberation Sans', Arial, sans-serif" font-size="66" text-anchor="start">2</text>
<text transform="translate(2058 429) scale(0.97 1.05)" font-family="'Liberation Sans', Arial, sans-serif" font-size="66" text-anchor="start">0</text>
<text transform="translate(2058 600.5) scale(0.97 1.05)" font-family="'Liberation Sans', Arial, sans-serif" font-size="66" text-anchor="start">-2</text>
<text transform="translate(2058 772) scale(0.97 1.05)" font-family="'Liberation Sans', Arial, sans-serif" font-size="66" text-anchor="start">-4</text>
<text transform="translate(2057.5 878.3) scale(0.97 1.05)" font-family="'Liberation Sans', Arial, sans-serif" font-size="66" text-anchor="start">150</text>
<text transform="translate(2057.5 985.3) scale(0.97 1.05)" font-family="'Liberation Sans', Arial, sans-serif" font-size="66" text-anchor="start">100</text>
<text transform="translate(2057.5 1092.3) scale(0.97 1.05)" font-family="'Liberation Sans', Arial, sans-serif" font-size="66" text-anchor="start">50</text>
<text transform="translate(2057.5 1199.3) scale(0.97 1.05)" font-family="'Liberation Sans', Arial, sans-serif" font-size="66" text-anchor="start">0</text>
<text transform="translate(2057.5 1306.3) scale(0.97 1.05)" font-family="'Liberation Sans', Arial, sans-serif" font-size="66" text-anchor="start">-50</text>
<text transform="translate(2057.5 1413.3) scale(0.97 1.05)" font-family="'Liberation Sans', Arial, sans-serif" font-size="66" text-anchor="start">-100</text>
<text transform="translate(2057.5 1520.3) scale(0.97 1.05)" font-family="'Liberation Sans', Arial, sans-serif" font-size="66" text-anchor="start">-150</text>
<text transform="translate(179 1633.5) scale(0.97 1.05)" font-family="'Liberation Sans', Arial, sans-serif" font-size="66" text-anchor="middle">0.0</text>
<text transform="translate(398.9 1633.5) scale(0.97 1.05)" font-family="'Liberation Sans', Arial, sans-serif" font-size="66" text-anchor="middle">0.5</text>
<text transform="translate(618.8 1633.5) scale(0.97 1.05)" font-family="'Liberation Sans', Arial, sans-serif" font-size="66" text-anchor="middle">1.0</text>
<text transform="translate(838.7 1633.5) scale(0.97 1.05)" font-family="'Liberation Sans', Arial, sans-serif" font-size="66" text-anchor="middle">1.5</text>
<text transform="translate(1058.6 1633.5) scale(0.97 1.05)" font-family="'Liberation Sans', Arial, sans-serif" font-size="66" text-anchor="middle">2.0</text>
<text transform="translate(1163.8 1633.5) scale(0.97 1.05)" font-family="'Liberation Sans', Arial, sans-serif" font-size="66" text-anchor="middle">0.0</text>
<text transform="translate(1383.3 1633.5) scale(0.97 1.05)" font-family="'Liberation Sans', Arial, sans-serif" font-size="66" text-anchor="middle">0.5</text>
<text transform="translate(1602.8 1633.5) scale(0.97 1.05)" font-family="'Liberation Sans', Arial, sans-serif" font-size="66" text-anchor="middle">1.0</text>
<text transform="translate(1822.2 1633.5) scale(0.97 1.05)" font-family="'Liberation Sans', Arial, sans-serif" font-size="66" text-anchor="middle">1.5</text>
<text transform="translate(2041.7 1633.5) scale(0.97 1.05)" font-family="'Liberation Sans', Arial, sans-serif" font-size="66" text-anchor="middle">2.0</text>
<text transform="translate(771.8 123.7)" font-family="'Liberation Serif', 'Times New Roman', serif" font-size="62" text-anchor="start" stroke="#fff" stroke-width="1.0">λ</text>
<text transform="translate(805.5 145.7) scale(0.97 1.05)" font-family="'Liberation Sans', Arial, sans-serif" font-size="40" text-anchor="start">L</text>
<text transform="translate(818.6 145.7)" font-family="'DejaVu Sans', sans-serif" font-weight="200" font-size="48" text-anchor="start">↓</text>
<text transform="translate(849.8 119.1) scale(1 0.8)" font-family="'Liberation Sans', Arial, sans-serif" font-weight="700" font-size="66">=</text>
<text transform="translate(887.8 123.7) scale(0.97 1.05)" font-family="'Liberation Sans', Arial, sans-serif" font-size="66" text-anchor="start">0</text>
<text transform="translate(771.8 231)" font-family="'Liberation Serif', 'Times New Roman', serif" font-size="62" text-anchor="start" stroke="#fff" stroke-width="1.0">λ</text>
<text transform="translate(805.5 253) scale(0.97 1.05)" font-family="'Liberation Sans', Arial, sans-serif" font-size="40" text-anchor="start">L</text>
<text transform="translate(818.6 253)" font-family="'DejaVu Sans', sans-serif" font-weight="200" font-size="48" text-anchor="start">↓</text>
<text transform="translate(849.8 226.4) scale(1 0.8)" font-family="'Liberation Sans', Arial, sans-serif" font-weight="700" font-size="66">=</text>
<text transform="translate(889.7 231)" font-family="'Liberation Serif', 'Times New Roman', serif" font-size="62" text-anchor="start" stroke="#fff" stroke-width="1.0">λ</text>
<text transform="translate(922.8 253) scale(0.97 1.05)" font-family="'Liberation Sans', Arial, sans-serif" font-size="40" text-anchor="start">0</text>
<text transform="translate(945.4 231)" font-family="'Liberation Serif', 'Times New Roman', serif" font-size="72" text-anchor="start" stroke="#000" stroke-width="0.8">/</text>
<text transform="translate(959.3 231) scale(0.97 1.05)" font-family="'Liberation Sans', Arial, sans-serif" font-size="66" text-anchor="start">2</text>
<text transform="translate(771.8 338.5)" font-family="'Liberation Serif', 'Times New Roman', serif" font-size="62" text-anchor="start" stroke="#fff" stroke-width="1.0">λ</text>
<text transform="translate(805.5 360.5) scale(0.97 1.05)" font-family="'Liberation Sans', Arial, sans-serif" font-size="40" text-anchor="start">L</text>
<text transform="translate(818.6 360.5)" font-family="'DejaVu Sans', sans-serif" font-weight="200" font-size="48" text-anchor="start">↓</text>
<text transform="translate(849.8 333.9) scale(1 0.8)" font-family="'Liberation Sans', Arial, sans-serif" font-weight="700" font-size="66">=</text>
<text transform="translate(887.3 338.5) scale(0.97 1.05)" font-family="'Liberation Sans', Arial, sans-serif" font-size="66" text-anchor="start">3</text>
<text transform="translate(924.3 338.5)" font-family="'Liberation Serif', 'Times New Roman', serif" font-size="62" text-anchor="start" stroke="#fff" stroke-width="1.0">λ</text>
<text transform="translate(958.6 360.5) scale(0.97 1.05)" font-family="'Liberation Sans', Arial, sans-serif" font-size="40" text-anchor="start">0</text>
<text transform="translate(979.8 338.5)" font-family="'Liberation Serif', 'Times New Roman', serif" font-size="72" text-anchor="start" stroke="#000" stroke-width="0.8">/</text>
<text transform="translate(996.3 338.5) scale(0.97 1.05)" font-family="'Liberation Sans', Arial, sans-serif" font-size="66" text-anchor="start">4</text>
<text transform="translate(327.7 445.6)" font-family="'Liberation Serif', 'Times New Roman', serif" font-size="62" text-anchor="start" stroke="#fff" stroke-width="1.0">λ</text>
<text transform="translate(361.4 469.6) scale(0.97 1.05)" font-family="'Liberation Sans', Arial, sans-serif" font-size="40" text-anchor="start">L</text>
<text transform="translate(374.5 469.6)" font-family="'DejaVu Sans', sans-serif" font-weight="200" font-size="48" text-anchor="start">↓</text>
<text transform="translate(405.7 441) scale(1 0.8)" font-family="'Liberation Sans', Arial, sans-serif" font-weight="700" font-size="66">=</text>
<text transform="translate(445.2 445.6)" font-family="'Liberation Serif', 'Times New Roman', serif" font-size="62" text-anchor="start" stroke="#fff" stroke-width="1.0">λ</text>
<text transform="translate(479.7 469.6) scale(0.97 1.05)" font-family="'Liberation Sans', Arial, sans-serif" font-size="40" text-anchor="start">0</text>
<text transform="translate(327.7 554.3)" font-family="'Liberation Serif', 'Times New Roman', serif" font-size="62" text-anchor="start" stroke="#fff" stroke-width="1.0">λ</text>
<text transform="translate(361.4 578.3) scale(0.97 1.05)" font-family="'Liberation Sans', Arial, sans-serif" font-size="40" text-anchor="start">L</text>
<text transform="translate(374.5 578.3)" font-family="'DejaVu Sans', sans-serif" font-weight="200" font-size="48" text-anchor="start">↓</text>
<text transform="translate(405.7 549.7) scale(1 0.8)" font-family="'Liberation Sans', Arial, sans-serif" font-weight="700" font-size="66">=</text>
<text transform="translate(443.2 554.3) scale(0.97 1.05)" font-family="'Liberation Sans', Arial, sans-serif" font-size="66" text-anchor="start">5</text>
<text transform="translate(480.2 554.3)" font-family="'Liberation Serif', 'Times New Roman', serif" font-size="62" text-anchor="start" stroke="#fff" stroke-width="1.0">λ</text>
<text transform="translate(514.5 578.3) scale(0.97 1.05)" font-family="'Liberation Sans', Arial, sans-serif" font-size="40" text-anchor="start">0</text>
<text transform="translate(535.7 554.3)" font-family="'Liberation Serif', 'Times New Roman', serif" font-size="72" text-anchor="start" stroke="#000" stroke-width="0.8">/</text>
<text transform="translate(552.2 554.3) scale(0.97 1.05)" font-family="'Liberation Sans', Arial, sans-serif" font-size="66" text-anchor="start">4</text>
<text transform="translate(763.7 859.3)" font-family="'Liberation Serif', 'Times New Roman', serif" font-size="62" text-anchor="start" stroke="#fff" stroke-width="1.0">λ</text>
<text transform="translate(797.4 881.3) scale(0.97 1.05)" font-family="'Liberation Sans', Arial, sans-serif" font-size="40" text-anchor="start">L</text>
<text transform="translate(810.5 881.3)" font-family="'DejaVu Sans', sans-serif" font-weight="200" font-size="48" text-anchor="start">↓</text>
<text transform="translate(841.7 854.7) scale(1 0.8)" font-family="'Liberation Sans', Arial, sans-serif" font-weight="700" font-size="66">=</text>
<text transform="translate(879.7 859.3) scale(0.97 1.05)" font-family="'Liberation Sans', Arial, sans-serif" font-size="66" text-anchor="start">0</text>
<text transform="translate(763.7 968)" font-family="'Liberation Serif', 'Times New Roman', serif" font-size="62" text-anchor="start" stroke="#fff" stroke-width="1.0">λ</text>
<text transform="translate(797.4 990) scale(0.97 1.05)" font-family="'Liberation Sans', Arial, sans-serif" font-size="40" text-anchor="start">L</text>
<text transform="translate(810.5 990)" font-family="'DejaVu Sans', sans-serif" font-weight="200" font-size="48" text-anchor="start">↓</text>
<text transform="translate(841.7 963.4) scale(1 0.8)" font-family="'Liberation Sans', Arial, sans-serif" font-weight="700" font-size="66">=</text>
<text transform="translate(881.6 968)" font-family="'Liberation Serif', 'Times New Roman', serif" font-size="62" text-anchor="start" stroke="#fff" stroke-width="1.0">λ</text>
<text transform="translate(914.7 990) scale(0.97 1.05)" font-family="'Liberation Sans', Arial, sans-serif" font-size="40" text-anchor="start">0</text>
<text transform="translate(937.3 968)" font-family="'Liberation Serif', 'Times New Roman', serif" font-size="72" text-anchor="start" stroke="#000" stroke-width="0.8">/</text>
<text transform="translate(951.2 968) scale(0.97 1.05)" font-family="'Liberation Sans', Arial, sans-serif" font-size="66" text-anchor="start">2</text>
<text transform="translate(763.7 1077)" font-family="'Liberation Serif', 'Times New Roman', serif" font-size="62" text-anchor="start" stroke="#fff" stroke-width="1.0">λ</text>
<text transform="translate(797.4 1099) scale(0.97 1.05)" font-family="'Liberation Sans', Arial, sans-serif" font-size="40" text-anchor="start">L</text>
<text transform="translate(810.5 1099)" font-family="'DejaVu Sans', sans-serif" font-weight="200" font-size="48" text-anchor="start">↓</text>
<text transform="translate(841.7 1072.4) scale(1 0.8)" font-family="'Liberation Sans', Arial, sans-serif" font-weight="700" font-size="66">=</text>
<text transform="translate(879.2 1077) scale(0.97 1.05)" font-family="'Liberation Sans', Arial, sans-serif" font-size="66" text-anchor="start">3</text>
<text transform="translate(916.2 1077)" font-family="'Liberation Serif', 'Times New Roman', serif" font-size="62" text-anchor="start" stroke="#fff" stroke-width="1.0">λ</text>
<text transform="translate(950.5 1099) scale(0.97 1.05)" font-family="'Liberation Sans', Arial, sans-serif" font-size="40" text-anchor="start">0</text>
<text transform="translate(971.7 1077)" font-family="'Liberation Serif', 'Times New Roman', serif" font-size="72" text-anchor="start" stroke="#000" stroke-width="0.8">/</text>
<text transform="translate(988.2 1077) scale(0.97 1.05)" font-family="'Liberation Sans', Arial, sans-serif" font-size="66" text-anchor="start">4</text>
<text transform="translate(763.7 1184.8)" font-family="'Liberation Serif', 'Times New Roman', serif" font-size="62" text-anchor="start" stroke="#fff" stroke-width="1.0">λ</text>
<text transform="translate(797.4 1206.8) scale(0.97 1.05)" font-family="'Liberation Sans', Arial, sans-serif" font-size="40" text-anchor="start">L</text>
<text transform="translate(810.5 1206.8)" font-family="'DejaVu Sans', sans-serif" font-weight="200" font-size="48" text-anchor="start">↓</text>
<text transform="translate(841.7 1180.2) scale(1 0.8)" font-family="'Liberation Sans', Arial, sans-serif" font-weight="700" font-size="66">=</text>
<text transform="translate(879.2 1184.8) scale(0.97 1.05)" font-family="'Liberation Sans', Arial, sans-serif" font-size="66" text-anchor="start">5</text>
<text transform="translate(916.2 1184.8)" font-family="'Liberation Serif', 'Times New Roman', serif" font-size="62" text-anchor="start" stroke="#fff" stroke-width="1.0">λ</text>
<text transform="translate(950.5 1206.8) scale(0.97 1.05)" font-family="'Liberation Sans', Arial, sans-serif" font-size="40" text-anchor="start">0</text>
<text transform="translate(971.7 1184.8)" font-family="'Liberation Serif', 'Times New Roman', serif" font-size="72" text-anchor="start" stroke="#000" stroke-width="0.8">/</text>
<text transform="translate(988.2 1184.8) scale(0.97 1.05)" font-family="'Liberation Sans', Arial, sans-serif" font-size="66" text-anchor="start">4</text>
<text transform="translate(1368 448.3)" font-family="'Liberation Serif', 'Times New Roman', serif" font-size="62" text-anchor="start" stroke="#fff" stroke-width="1.0">λ</text>
<text transform="translate(1401.7 470.3) scale(0.97 1.05)" font-family="'Liberation Sans', Arial, sans-serif" font-size="40" text-anchor="start">L</text>
<text transform="translate(1414.8 470.3)" font-family="'DejaVu Sans', sans-serif" font-weight="200" font-size="48" text-anchor="start">↓</text>
<text transform="translate(1446 443.7) scale(1 0.8)" font-family="'Liberation Sans', Arial, sans-serif" font-weight="700" font-size="66">=</text>
<text transform="translate(1484 448.3) scale(0.97 1.05)" font-family="'Liberation Sans', Arial, sans-serif" font-size="66" text-anchor="start">0</text>
<text transform="translate(1368 559)" font-family="'Liberation Serif', 'Times New Roman', serif" font-size="62" text-anchor="start" stroke="#fff" stroke-width="1.0">λ</text>
<text transform="translate(1401.7 581) scale(0.97 1.05)" font-family="'Liberation Sans', Arial, sans-serif" font-size="40" text-anchor="start">L</text>
<text transform="translate(1414.8 581)" font-family="'DejaVu Sans', sans-serif" font-weight="200" font-size="48" text-anchor="start">↓</text>
<text transform="translate(1446 554.4) scale(1 0.8)" font-family="'Liberation Sans', Arial, sans-serif" font-weight="700" font-size="66">=</text>
<text transform="translate(1485.9 559)" font-family="'Liberation Serif', 'Times New Roman', serif" font-size="62" text-anchor="start" stroke="#fff" stroke-width="1.0">λ</text>
<text transform="translate(1519 581) scale(0.97 1.05)" font-family="'Liberation Sans', Arial, sans-serif" font-size="40" text-anchor="start">0</text>
<text transform="translate(1541.6 559)" font-family="'Liberation Serif', 'Times New Roman', serif" font-size="72" text-anchor="start" stroke="#000" stroke-width="0.8">/</text>
<text transform="translate(1555.5 559) scale(0.97 1.05)" font-family="'Liberation Sans', Arial, sans-serif" font-size="66" text-anchor="start">2</text>
<text transform="translate(1368 665.8)" font-family="'Liberation Serif', 'Times New Roman', serif" font-size="62" text-anchor="start" stroke="#fff" stroke-width="1.0">λ</text>
<text transform="translate(1401.7 687.8) scale(0.97 1.05)" font-family="'Liberation Sans', Arial, sans-serif" font-size="40" text-anchor="start">L</text>
<text transform="translate(1414.8 687.8)" font-family="'DejaVu Sans', sans-serif" font-weight="200" font-size="48" text-anchor="start">↓</text>
<text transform="translate(1446 661.2) scale(1 0.8)" font-family="'Liberation Sans', Arial, sans-serif" font-weight="700" font-size="66">=</text>
<text transform="translate(1483.5 665.8) scale(0.97 1.05)" font-family="'Liberation Sans', Arial, sans-serif" font-size="66" text-anchor="start">3</text>
<text transform="translate(1520.5 665.8)" font-family="'Liberation Serif', 'Times New Roman', serif" font-size="62" text-anchor="start" stroke="#fff" stroke-width="1.0">λ</text>
<text transform="translate(1554.8 687.8) scale(0.97 1.05)" font-family="'Liberation Sans', Arial, sans-serif" font-size="40" text-anchor="start">0</text>
<text transform="translate(1576 665.8)" font-family="'Liberation Serif', 'Times New Roman', serif" font-size="72" text-anchor="start" stroke="#000" stroke-width="0.8">/</text>
<text transform="translate(1592.5 665.8) scale(0.97 1.05)" font-family="'Liberation Sans', Arial, sans-serif" font-size="66" text-anchor="start">4</text>
<text transform="translate(1368 773.9)" font-family="'Liberation Serif', 'Times New Roman', serif" font-size="62" text-anchor="start" stroke="#fff" stroke-width="1.0">λ</text>
<text transform="translate(1401.7 795.9) scale(0.97 1.05)" font-family="'Liberation Sans', Arial, sans-serif" font-size="40" text-anchor="start">L</text>
<text transform="translate(1414.8 795.9)" font-family="'DejaVu Sans', sans-serif" font-weight="200" font-size="48" text-anchor="start">↓</text>
<text transform="translate(1446 769.3) scale(1 0.8)" font-family="'Liberation Sans', Arial, sans-serif" font-weight="700" font-size="66">=</text>
<text transform="translate(1483.5 773.9) scale(0.97 1.05)" font-family="'Liberation Sans', Arial, sans-serif" font-size="66" text-anchor="start">5</text>
<text transform="translate(1520.5 773.9)" font-family="'Liberation Serif', 'Times New Roman', serif" font-size="62" text-anchor="start" stroke="#fff" stroke-width="1.0">λ</text>
<text transform="translate(1554.8 795.9) scale(0.97 1.05)" font-family="'Liberation Sans', Arial, sans-serif" font-size="40" text-anchor="start">0</text>
<text transform="translate(1576 773.9)" font-family="'Liberation Serif', 'Times New Roman', serif" font-size="72" text-anchor="start" stroke="#000" stroke-width="0.8">/</text>
<text transform="translate(1592.5 773.9) scale(0.97 1.05)" font-family="'Liberation Sans', Arial, sans-serif" font-size="66" text-anchor="start">4</text>
<text transform="translate(1643.9 934.6) scale(0.97 1.05)" font-family="'Liberation Sans', Arial, sans-serif" font-size="66" text-anchor="start">J</text>
<text transform="translate(1666.9 959.3)" font-family="'DejaVu Sans', sans-serif" font-weight="200" font-size="48" text-anchor="start">↑</text>
<text transform="translate(1643.9 1036.3) scale(0.97 1.05)" font-family="'Liberation Sans', Arial, sans-serif" font-size="66" text-anchor="start">J</text>
<text transform="translate(1666.9 1059.6)" font-family="'DejaVu Sans', sans-serif" font-weight="200" font-size="48" text-anchor="start">↓</text>
<text transform="translate(200.7 99) scale(0.97 1.05)" font-family="'Liberation Sans', Arial, sans-serif" font-size="66" text-anchor="start">(</text>
<text transform="translate(222.3 99) scale(0.97 1.05)" font-family="'Liberation Sans', Arial, sans-serif" font-size="66" text-anchor="start">a</text>
<text transform="translate(258.2 99) scale(0.97 1.05)" font-family="'Liberation Sans', Arial, sans-serif" font-size="66" text-anchor="start">)</text>
<text transform="translate(199.3 186.5)" font-family="'DejaVu Sans', sans-serif" font-weight="200" font-size="56" text-anchor="start" stroke="#000" stroke-width="0.9">θ</text>
<text transform="translate(234.3 181.9) scale(1 0.8)" font-family="'Liberation Sans', Arial, sans-serif" font-weight="700" font-size="66">=</text>
<text transform="translate(273.1 186.5) scale(0.97 1.05)" font-family="'Liberation Sans', Arial, sans-serif" font-size="66" text-anchor="start">0</text>
<text transform="translate(193.5 862.3) scale(0.97 1.05)" font-family="'Liberation Sans', Arial, sans-serif" font-size="66" text-anchor="start">(</text>
<text transform="translate(214.8 862.3) scale(0.97 1.05)" font-family="'Liberation Sans', Arial, sans-serif" font-size="66" text-anchor="start">b</text>
<text transform="translate(249.6 862.3) scale(0.97 1.05)" font-family="'Liberation Sans', Arial, sans-serif" font-size="66" text-anchor="start">)</text>
<text transform="translate(191.6 952)" font-family="'DejaVu Sans', sans-serif" font-weight="200" font-size="56" text-anchor="start" stroke="#000" stroke-width="0.9">θ</text>
<text transform="translate(226.6 947.4) scale(1 0.8)" font-family="'Liberation Sans', Arial, sans-serif" font-weight="700" font-size="66">=</text>
<text transform="translate(262.6 952)" font-family="'Liberation Serif', 'Times New Roman', serif" font-size="66" text-anchor="start" stroke="#000" stroke-width="1.2">π</text>
<text transform="translate(299.6 952)" font-family="'Liberation Serif', 'Times New Roman', serif" font-size="72" text-anchor="start" stroke="#000" stroke-width="0.8">/</text>
<text transform="translate(315.8 952) scale(0.97 1.05)" font-family="'Liberation Sans', Arial, sans-serif" font-size="66" text-anchor="start">2</text>
<text transform="translate(1182.8 90) scale(0.97 1.05)" font-family="'Liberation Sans', Arial, sans-serif" font-size="66" text-anchor="start">(</text>
<text transform="translate(1202.3 90) scale(0.97 1.05)" font-family="'Liberation Sans', Arial, sans-serif" font-size="66" text-anchor="start">c</text>
<text transform="translate(1234.5 90) scale(0.97 1.05)" font-family="'Liberation Sans', Arial, sans-serif" font-size="66" text-anchor="start">)</text>
<text transform="translate(1180.5 180.7)" font-family="'DejaVu Sans', sans-serif" font-weight="200" font-size="56" text-anchor="start" stroke="#000" stroke-width="0.9">θ</text>
<text transform="translate(1215.5 176.1) scale(1 0.8)" font-family="'Liberation Sans', Arial, sans-serif" font-weight="700" font-size="66">=</text>
<text transform="translate(1251.5 180.7)" font-family="'Liberation Serif', 'Times New Roman', serif" font-size="66" text-anchor="start" stroke="#000" stroke-width="1.2">π</text>
<text transform="translate(1288.5 180.7)" font-family="'Liberation Serif', 'Times New Roman', serif" font-size="72" text-anchor="start" stroke="#000" stroke-width="0.8">/</text>
<text transform="translate(1304.7 180.7) scale(0.97 1.05)" font-family="'Liberation Sans', Arial, sans-serif" font-size="66" text-anchor="start">2</text>
<text transform="translate(1176.6 872.5) scale(0.97 1.05)" font-family="'Liberation Sans', Arial, sans-serif" font-size="66" text-anchor="start">(</text>
<text transform="translate(1196.6 872.5) scale(0.97 1.05)" font-family="'Liberation Sans', Arial, sans-serif" font-size="66" text-anchor="start">d</text>
<text transform="translate(1231.8 872.5) scale(0.97 1.05)" font-family="'Liberation Sans', Arial, sans-serif" font-size="66" text-anchor="start">)</text>
<text transform="translate(1173.9 963.5)" font-family="'DejaVu Sans', sans-serif" font-weight="200" font-size="56" text-anchor="start" stroke="#000" stroke-width="0.9">θ</text>
<text transform="translate(1208.9 958.9) scale(1 0.8)" font-family="'Liberation Sans', Arial, sans-serif" font-weight="700" font-size="66">=</text>
<text transform="translate(1244.9 963.5)" font-family="'Liberation Serif', 'Times New Roman', serif" font-size="66" text-anchor="start" stroke="#000" stroke-width="1.2">π</text>
<text transform="translate(1281.9 963.5)" font-family="'Liberation Serif', 'Times New Roman', serif" font-size="72" text-anchor="start" stroke="#000" stroke-width="0.8">/</text>
<text transform="translate(1298.1 963.5) scale(0.97 1.05)" font-family="'Liberation Sans', Arial, sans-serif" font-size="66" text-anchor="start">2</text>
<text transform="translate(1175.9 1051)" font-family="'Liberation Serif', 'Times New Roman', serif" font-size="62" text-anchor="start" stroke="#fff" stroke-width="1.0">λ</text>
<text transform="translate(1209.6 1073) scale(0.97 1.05)" font-family="'Liberation Sans', Arial, sans-serif" font-size="40" text-anchor="start">L</text>
<text transform="translate(1222.7 1073)" font-family="'DejaVu Sans', sans-serif" font-weight="200" font-size="48" text-anchor="start">↓</text>
<text transform="translate(1246.3 1046.4) scale(1 0.8)" font-family="'Liberation Sans', Arial, sans-serif" font-weight="700" font-size="66">=</text>
<text transform="translate(1293.9 1051)" font-family="'Liberation Serif', 'Times New Roman', serif" font-size="62" text-anchor="start" stroke="#fff" stroke-width="1.0">λ</text>
<text transform="translate(1326.9 1073) scale(0.97 1.05)" font-family="'Liberation Sans', Arial, sans-serif" font-size="40" text-anchor="start">0</text>
<g transform="translate(56.8 551.8) rotate(-90)">
<text x="0" y="0" font-family="'Liberation Sans', Arial, sans-serif" font-size="66">J</text>
<text x="23.2" y="23.7" font-family="'DejaVu Sans', sans-serif" font-weight="200" font-size="48">↑</text>
<text x="58.6" y="0" font-family="'Liberation Sans', Arial, sans-serif" font-size="66">(e/h)</text>
</g>
<g transform="translate(61.4 1247.4) rotate(-90)">
<text x="0" y="0" font-family="'Liberation Sans', Arial, sans-serif" font-size="66">J</text>
<text x="23.2" y="23.7" font-family="'DejaVu Sans', sans-serif" font-weight="200" font-size="48">↑</text>
<text x="56.2" y="0" font-family="'Liberation Sans', Arial, sans-serif" font-size="66">(e/h)</text>
</g>
<g transform="translate(2256.3 518.5) rotate(-90)">
<text x="0" y="0" font-family="'Liberation Sans', Arial, sans-serif" font-size="66">J</text>
<text x="23.2" y="23.7" font-family="'DejaVu Sans', sans-serif" font-weight="200" font-size="48">↓</text>
<text x="53.8" y="0" font-family="'Liberation Sans', Arial, sans-serif" font-size="66">(e/h)</text>
</g>
<text transform="translate(2267.3 1533.5) rotate(-90)" font-family="'Liberation Sans', Arial, sans-serif" font-size="66">Josephson current (e/h)</text>
<text transform="translate(568.6 1762) scale(0.93 1)" font-family="'Liberation Serif', 'Times New Roman', serif" font-size="74">ϕ</text>
<text transform="translate(607.4 1762)" font-family="'Liberation Serif', 'Times New Roman', serif" font-size="72" text-anchor="start" stroke="#000" stroke-width="0.8">/</text>
<text transform="translate(628.8 1762)" font-family="'Liberation Serif', 'Times New Roman', serif" font-size="66" text-anchor="start" stroke="#000" stroke-width="1.2">π</text>
<text transform="translate(1554.5 1762) scale(0.93 1)" font-family="'Liberation Serif', 'Times New Roman', serif" font-size="74">ϕ</text>
<text transform="translate(1593.2 1762)" font-family="'Liberation Serif', 'Times New Roman', serif" font-size="72" text-anchor="start" stroke="#000" stroke-width="0.8">/</text>
<text transform="translate(1613.3 1762)" font-family="'Liberation Serif', 'Times New Roman', serif" font-size="66" text-anchor="start" stroke="#000" stroke-width="1.2">π</text>
</svg></body></html>
